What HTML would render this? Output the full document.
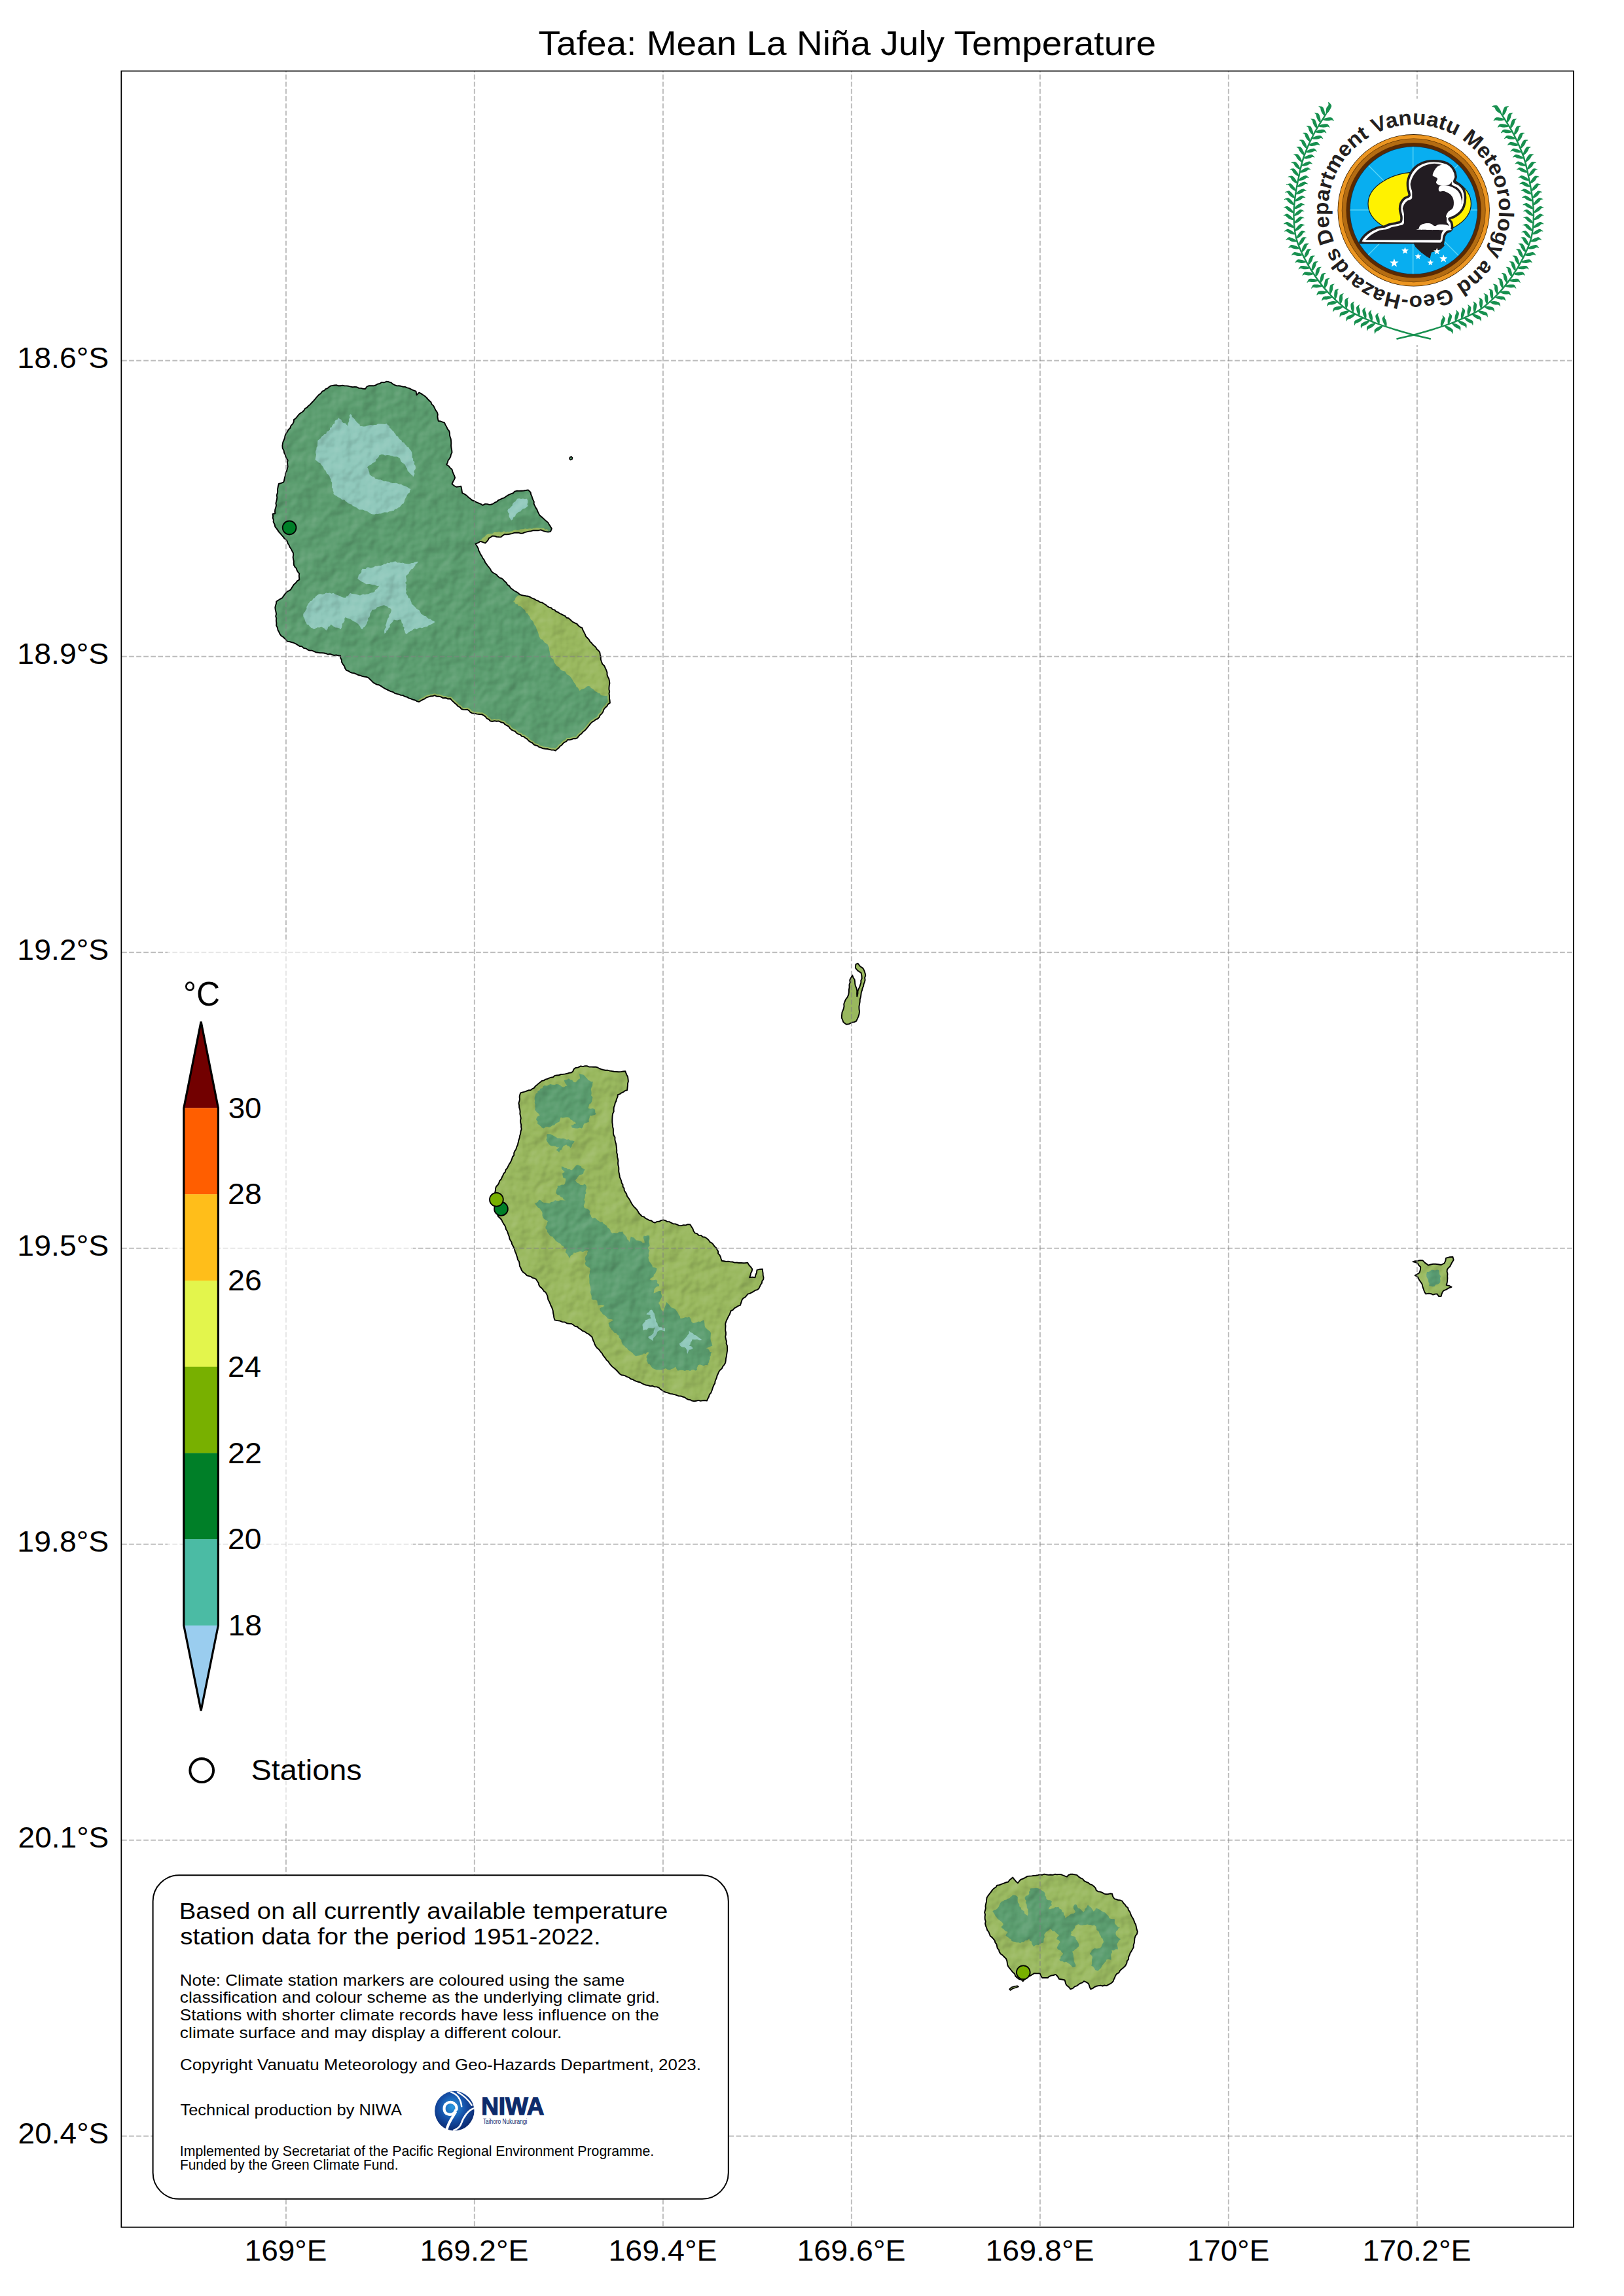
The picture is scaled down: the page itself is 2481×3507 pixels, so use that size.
<!DOCTYPE html>
<html><head><meta charset="utf-8"><title>Tafea: Mean La Niña July Temperature</title>
<style>html,body{margin:0;padding:0;background:#fff;width:2481px;height:3507px;overflow:hidden}</style>
</head><body>
<svg width="2481" height="3507" viewBox="0 0 2481 3507" style="display:block" font-family='"Liberation Sans", sans-serif'>
<rect width="2481" height="3507" fill="#fff"/>
<defs>
<clipPath id="cErro"><path d="M505.3,589.4 L510.8,588.5 L513.9,588.1 L516.9,589.3 L520.0,589.3 L523.1,588.8 L526.2,589.2 L529.3,589.4 L532.5,589.8 L535.6,590.6 L538.8,591.3 L542.1,590.9 L545.3,591.3 L548.4,592.9 L551.6,592.9 L554.8,593.9 L558.0,594.0 L560.7,590.3 L563.9,589.2 L567.2,589.3 L570.5,589.3 L573.7,588.5 L576.6,586.6 L580.1,586.0 L582.9,583.9 L586.6,584.3 L590.3,582.8 L594.0,583.3 L597.4,584.3 L600.1,586.6 L603.2,588.1 L606.2,589.4 L609.4,589.3 L612.5,589.8 L615.6,590.7 L618.8,590.9 L621.7,592.2 L625.3,593.2 L628.6,594.9 L632.1,596.3 L635.5,597.7 L636.5,603.3 L640.2,599.6 L643.2,601.1 L646.0,603.0 L648.7,604.8 L651.3,607.0 L653.5,609.5 L655.9,612.0 L658.4,614.3 L659.7,617.6 L662.3,619.9 L663.9,623.2 L665.4,626.4 L667.6,629.4 L668.8,632.8 L668.4,636.3 L668.9,639.6 L669.7,643.0 L672.9,643.4 L676.0,644.6 L679.0,645.7 L680.6,649.1 L682.4,652.3 L683.9,655.7 L686.3,658.7 L687.0,661.6 L687.0,664.7 L687.7,667.6 L688.8,670.5 L689.1,673.5 L689.3,677.0 L689.1,680.6 L689.5,684.1 L690.2,687.6 L690.5,691.1 L689.0,694.1 L688.3,697.5 L686.7,700.5 L684.6,703.3 L683.7,706.6 L682.2,709.6 L685.3,711.7 L687.7,714.6 L690.5,717.0 L691.4,720.3 L692.6,723.5 L694.1,726.6 L695.1,729.9 L693.6,733.0 L692.0,736.0 L690.5,739.1 L693.5,741.7 L697.0,743.7 L700.7,743.3 L704.3,742.8 L705.1,746.2 L705.6,749.6 L706.2,753.0 L709.6,754.6 L712.7,756.7 L715.4,759.4 L718.3,761.6 L721.2,764.0 L724.7,765.4 L727.9,767.1 L731.2,768.5 L734.6,769.8 L737.6,771.8 L741.3,769.6 L744.4,769.9 L747.4,770.9 L750.5,770.5 L753.5,769.3 L756.1,767.5 L759.0,766.3 L761.4,764.0 L764.3,762.9 L767.1,761.3 L770.2,760.4 L772.7,758.5 L775.4,756.9 L778.1,755.3 L781.0,754.2 L784.0,753.2 L786.2,750.6 L789.3,749.8 L792.9,749.9 L796.4,749.7 L799.9,749.5 L803.4,749.0 L806.9,748.4 L810.6,752.0 L811.1,755.0 L812.4,757.8 L813.3,760.8 L814.4,763.6 L815.8,766.4 L815.6,769.6 L817.0,772.4 L818.4,775.4 L820.3,778.1 L821.4,781.2 L822.9,784.2 L824.4,787.1 L827.1,789.2 L829.7,791.4 L832.1,793.8 L834.6,796.1 L837.3,798.2 L839.0,801.4 L841.1,804.4 L842.9,807.5 L841.0,812.1 L837.3,812.6 L833.4,812.1 L829.9,810.8 L826.3,809.3 L822.7,810.2 L818.9,810.1 L815.1,810.2 L811.5,811.2 L808.2,811.6 L804.9,812.4 L801.7,813.2 L798.6,814.5 L795.3,814.7 L792.1,813.7 L788.9,813.8 L785.6,813.9 L782.0,815.1 L778.3,815.8 L774.6,816.4 L770.8,816.3 L767.8,818.1 L765.3,820.4 L762.0,820.3 L758.8,820.0 L755.6,818.9 L752.4,818.6 L749.7,820.6 L746.8,822.2 L745.5,825.0 L743.5,827.4 L741.3,829.6 L737.6,828.2 L733.9,826.9 L730.4,829.2 L726.5,830.6 L729.3,835.2 L730.7,837.9 L731.3,840.9 L732.8,843.5 L733.9,846.3 L736.0,849.4 L737.6,852.7 L740.0,855.6 L741.3,859.2 L743.3,861.7 L745.1,864.3 L747.2,866.7 L749.1,869.2 L750.5,872.1 L752.7,874.5 L755.6,876.0 L758.4,877.7 L760.6,880.1 L762.9,882.3 L766.1,883.3 L768.7,885.3 L770.8,887.8 L773.5,890.0 L775.2,893.1 L778.1,895.1 L780.1,898.0 L782.6,900.1 L785.2,902.0 L788.0,903.7 L790.9,905.2 L793.3,907.4 L796.5,909.0 L799.9,909.6 L803.3,910.2 L806.8,910.7 L810.0,912.0 L812.9,913.7 L816.1,914.9 L819.0,916.6 L822.1,917.8 L824.9,919.7 L828.3,920.4 L831.1,922.2 L834.0,924.0 L836.3,926.1 L839.0,927.6 L842.1,928.5 L844.3,930.8 L847.4,931.7 L849.5,934.0 L852.5,935.1 L855.0,937.0 L857.8,938.2 L860.6,939.6 L863.4,940.9 L865.4,943.5 L868.6,944.1 L870.9,946.2 L873.3,948.4 L875.8,950.4 L878.8,951.8 L881.7,953.2 L883.8,955.8 L886.4,957.8 L889.4,959.1 L890.5,962.4 L892.2,965.6 L893.8,968.7 L895.0,972.0 L897.4,974.5 L899.7,976.9 L901.4,980.0 L903.9,982.3 L906.0,985.0 L908.4,986.9 L910.5,989.1 L911.9,991.8 L914.4,993.7 L916.2,996.1 L916.9,999.8 L917.8,1003.4 L917.8,1007.2 L919.0,1010.8 L920.3,1014.3 L923.2,1017.0 L924.8,1020.3 L926.3,1023.8 L927.5,1027.1 L927.5,1030.6 L928.7,1033.9 L930.3,1037.0 L931.0,1040.4 L931.4,1043.6 L930.8,1046.7 L930.5,1049.9 L930.4,1053.1 L931.2,1056.3 L930.5,1059.4 L931.0,1062.6 L931.0,1066.3 L931.6,1070.0 L931.9,1073.7 L929.0,1075.6 L927.2,1078.8 L924.5,1081.0 L922.4,1083.8 L921.3,1087.2 L919.4,1090.1 L916.7,1092.5 L915.3,1095.8 L912.9,1098.0 L909.9,1099.2 L907.4,1101.3 L904.6,1102.9 L902.3,1105.1 L900.1,1108.0 L897.9,1110.7 L895.6,1113.5 L893.1,1116.1 L890.5,1118.0 L888.6,1120.4 L886.0,1122.3 L883.8,1124.6 L882.0,1127.2 L879.1,1128.3 L876.1,1128.2 L873.2,1129.4 L870.3,1130.1 L867.2,1130.0 L865.3,1132.5 L862.3,1133.8 L860.0,1135.9 L858.0,1138.3 L855.4,1140.0 L853.5,1142.6 L851.0,1144.4 L848.8,1146.6 L845.8,1145.6 L842.6,1145.6 L839.5,1144.8 L836.3,1144.0 L833.0,1143.8 L829.7,1143.3 L826.6,1142.0 L823.7,1141.2 L821.3,1139.2 L818.3,1138.5 L815.5,1137.4 L813.3,1134.9 L810.3,1133.4 L807.6,1131.5 L805.4,1128.9 L802.6,1127.2 L800.2,1125.2 L797.0,1124.6 L794.8,1122.2 L791.7,1121.3 L789.1,1119.7 L787.0,1117.2 L784.1,1116.1 L781.2,1114.6 L778.9,1112.4 L777.1,1109.6 L774.2,1108.2 L771.4,1106.5 L769.3,1104.1 L765.4,1103.2 L761.9,1101.4 L758.7,1101.8 L755.5,1101.1 L752.2,1102.0 L749.0,1101.4 L746.8,1098.9 L743.7,1097.5 L741.7,1094.8 L739.0,1092.8 L736.1,1091.2 L732.4,1091.0 L728.7,1090.6 L725.0,1089.9 L721.3,1089.4 L718.5,1088.0 L716.5,1085.5 L713.9,1083.8 L710.8,1084.1 L707.7,1083.9 L704.7,1082.9 L702.8,1080.3 L699.9,1079.0 L697.8,1076.6 L695.4,1074.6 L692.9,1072.2 L690.3,1069.9 L688.0,1067.2 L684.3,1067.5 L680.7,1066.0 L677.0,1066.3 L673.9,1064.6 L670.7,1063.6 L667.1,1063.7 L664.0,1062.2 L661.0,1063.3 L657.8,1063.5 L654.8,1064.4 L651.6,1065.3 L648.9,1067.4 L645.9,1068.7 L643.0,1070.3 L640.2,1072.0 L637.0,1071.1 L634.1,1069.5 L630.8,1068.6 L627.7,1067.4 L624.6,1066.4 L621.7,1064.6 L618.5,1064.0 L615.7,1062.1 L612.4,1061.9 L609.4,1060.7 L606.3,1059.8 L603.2,1059.1 L600.4,1057.0 L597.0,1056.1 L593.8,1054.7 L590.8,1053.1 L587.7,1051.6 L584.7,1049.8 L582.0,1047.9 L579.1,1046.3 L575.8,1045.6 L572.8,1044.1 L570.0,1042.4 L567.6,1039.9 L565.1,1037.5 L562.6,1035.1 L559.6,1034.0 L556.3,1033.6 L553.2,1032.9 L550.2,1031.7 L547.0,1031.0 L544.1,1029.5 L541.2,1028.3 L538.0,1027.9 L535.0,1026.8 L532.3,1024.9 L529.3,1024.0 L527.2,1020.9 L526.0,1017.3 L523.7,1014.3 L521.9,1011.0 L521.8,1007.8 L520.2,1005.0 L520.1,1001.8 L516.9,1001.3 L513.7,1000.5 L510.3,1001.0 L507.1,1000.0 L504.1,998.9 L500.9,999.5 L498.0,998.2 L494.9,997.5 L491.8,997.2 L488.7,997.2 L485.6,996.7 L482.4,996.2 L479.5,994.9 L476.5,993.6 L473.2,993.6 L470.2,992.6 L467.4,990.6 L463.8,989.9 L461.2,987.4 L457.6,987.0 L454.7,985.1 L451.7,983.3 L448.6,981.8 L445.4,981.0 L442.2,980.0 L438.8,979.6 L436.9,977.1 L434.6,975.0 L432.3,972.8 L429.6,971.1 L427.7,968.6 L426.2,965.4 L424.5,962.3 L423.9,958.7 L422.2,955.6 L422.4,951.9 L421.9,948.2 L422.2,944.5 L421.2,941.2 L422.1,937.8 L421.5,934.5 L420.7,931.2 L420.3,927.9 L421.0,924.8 L422.0,921.9 L422.2,918.7 L425.2,916.8 L428.3,914.8 L431.4,913.1 L433.1,910.5 L434.8,908.0 L436.9,905.7 L439.0,903.3 L442.0,902.2 L444.3,900.2 L446.6,896.4 L449.0,892.8 L451.8,890.4 L454.1,887.4 L457.3,885.4 L457.1,882.3 L456.8,879.3 L457.3,876.2 L455.2,873.9 L453.7,871.2 L452.7,868.2 L450.5,866.0 L449.0,863.3 L448.7,860.2 L448.8,857.1 L448.1,854.1 L447.6,851.0 L448.2,847.9 L448.0,844.8 L446.3,841.8 L444.9,838.8 L442.9,836.0 L441.6,832.8 L439.7,830.0 L438.8,826.8 L437.0,824.3 L434.4,822.4 L432.6,819.9 L430.5,817.6 L428.4,815.0 L426.1,812.6 L424.3,809.9 L422.4,807.1 L420.3,804.6 L419.5,800.7 L417.6,797.2 L417.9,794.2 L416.8,791.2 L417.1,788.2 L416.6,785.2 L420.3,784.3 L420.0,781.2 L420.3,778.1 L421.3,775.1 L422.1,772.0 L421.4,768.8 L422.2,765.8 L422.9,762.8 L423.3,759.7 L422.8,756.6 L423.7,753.6 L424.2,750.5 L424.0,747.4 L424.8,743.2 L425.9,739.0 L429.7,737.9 L433.3,736.3 L434.3,733.1 L434.8,729.8 L435.8,726.7 L436.0,723.3 L437.9,719.8 L438.8,716.0 L439.7,712.8 L439.3,709.5 L439.0,706.2 L439.7,703.0 L438.0,700.4 L436.6,697.6 L435.7,694.6 L434.2,691.9 L433.6,688.1 L431.7,684.7 L431.4,680.8 L432.3,675.3 L433.7,672.2 L434.9,669.0 L435.5,665.6 L436.9,662.4 L439.0,659.5 L440.6,656.2 L443.3,653.7 L444.5,650.2 L447.1,647.6 L448.7,644.5 L449.0,641.1 L451.8,638.9 L454.2,636.2 L456.3,633.3 L459.1,631.0 L461.9,629.2 L464.3,627.0 L466.0,624.0 L469.0,622.4 L471.1,619.9 L474.0,617.7 L476.4,615.0 L478.9,612.4 L481.3,609.7 L484.0,606.4 L486.8,603.3 L490.0,600.9 L492.4,597.7 L495.3,596.6 L497.5,594.2 L500.4,593.1 L502.7,591.0 Z"/></clipPath>
<clipPath id="cTanna"><path d="M878.8,1631.2 L883.3,1630.4 L887.3,1628.3 L890.5,1629.1 L893.8,1628.1 L897.1,1628.3 L900.2,1629.6 L903.5,1629.6 L906.7,1629.7 L910.0,1629.7 L912.9,1630.5 L915.6,1632.0 L918.4,1633.1 L921.3,1634.0 L924.7,1634.7 L928.2,1634.6 L931.5,1635.6 L934.9,1636.1 L938.3,1636.8 L941.7,1637.0 L945.1,1637.3 L948.5,1637.1 L951.9,1636.5 L955.3,1636.3 L956.4,1639.2 L957.7,1642.1 L959.1,1645.0 L959.5,1648.2 L959.9,1651.6 L959.0,1655.0 L958.9,1658.4 L958.5,1661.7 L958.1,1665.1 L955.0,1666.0 L952.4,1667.9 L949.5,1669.3 L946.9,1671.1 L943.9,1672.2 L943.5,1675.6 L942.0,1678.7 L941.2,1682.0 L939.7,1685.0 L939.1,1688.2 L937.8,1691.3 L937.6,1694.6 L937.7,1698.0 L936.1,1701.0 L935.6,1704.3 L935.4,1707.6 L935.3,1710.9 L935.3,1714.3 L935.8,1717.6 L936.0,1720.9 L936.9,1724.2 L936.9,1727.5 L936.9,1730.9 L937.7,1734.2 L939.5,1737.3 L939.4,1740.8 L940.1,1744.1 L941.1,1747.3 L941.6,1750.5 L941.9,1753.8 L942.3,1757.0 L942.1,1760.3 L943.1,1763.5 L943.0,1766.8 L943.9,1770.0 L944.4,1773.1 L944.0,1776.3 L944.3,1779.5 L945.2,1782.6 L945.4,1785.7 L945.2,1788.9 L945.8,1792.0 L946.5,1795.2 L946.8,1798.3 L948.2,1801.0 L949.2,1803.9 L949.7,1806.9 L951.5,1809.4 L951.6,1812.6 L953.5,1815.1 L953.7,1818.3 L955.3,1820.9 L957.1,1823.6 L958.0,1826.9 L959.9,1829.6 L961.8,1832.3 L963.3,1835.1 L964.8,1838.1 L966.6,1840.8 L968.5,1843.3 L970.9,1845.5 L973.0,1847.8 L974.7,1850.5 L976.3,1853.3 L978.6,1855.5 L980.8,1857.8 L983.9,1858.7 L986.3,1861.0 L989.1,1862.3 L991.9,1864.0 L995.1,1864.5 L997.6,1866.6 L1000.6,1867.7 L1003.6,1866.0 L1007.0,1865.8 L1010.0,1864.2 L1013.3,1863.4 L1016.4,1864.1 L1019.2,1866.0 L1022.5,1866.1 L1025.3,1867.7 L1028.2,1869.2 L1031.5,1869.4 L1034.5,1870.5 L1037.4,1871.9 L1040.8,1872.2 L1044.2,1871.2 L1047.6,1871.4 L1050.9,1870.1 L1054.4,1870.5 L1056.3,1873.6 L1058.4,1876.7 L1059.5,1880.2 L1061.5,1883.3 L1064.8,1884.2 L1067.4,1886.7 L1071.0,1886.9 L1073.6,1889.3 L1077.1,1889.8 L1079.9,1891.8 L1082.5,1893.9 L1084.3,1896.8 L1087.3,1898.5 L1089.7,1900.9 L1091.5,1903.7 L1094.1,1905.9 L1095.5,1908.7 L1097.1,1911.3 L1097.1,1914.7 L1099.4,1917.0 L1100.8,1919.8 L1101.6,1922.8 L1102.6,1925.7 L1105.9,1926.3 L1109.2,1927.0 L1112.6,1926.6 L1115.8,1927.4 L1119.2,1927.5 L1122.4,1928.6 L1125.7,1928.5 L1129.0,1929.0 L1132.3,1928.9 L1135.6,1929.2 L1138.9,1929.0 L1142.2,1928.6 L1143.6,1931.4 L1145.5,1933.7 L1147.6,1936.0 L1149.3,1938.5 L1148.6,1941.8 L1147.0,1944.8 L1146.4,1948.1 L1145.1,1951.2 L1149.3,1950.6 L1153.5,1951.2 L1154.4,1947.4 L1155.9,1943.8 L1156.4,1939.9 L1160.6,1938.7 L1164.9,1938.5 L1165.1,1941.6 L1165.6,1944.7 L1165.7,1947.9 L1166.5,1950.9 L1166.3,1954.1 L1164.3,1956.6 L1163.8,1959.9 L1161.9,1962.5 L1160.7,1965.4 L1159.2,1968.2 L1156.7,1970.2 L1153.5,1971.0 L1150.9,1972.9 L1148.1,1974.4 L1145.3,1975.9 L1142.2,1976.7 L1140.4,1979.2 L1138.4,1981.4 L1135.7,1982.9 L1133.7,1985.2 L1132.3,1989.4 L1130.9,1993.7 L1127.7,1994.8 L1124.9,1996.6 L1122.0,1998.2 L1119.7,2000.8 L1116.7,2002.2 L1115.6,2005.1 L1114.6,2008.0 L1112.9,2010.6 L1111.7,2013.4 L1110.2,2016.2 L1109.1,2019.1 L1108.2,2022.0 L1108.5,2025.3 L1108.3,2028.6 L1108.2,2032.0 L1108.9,2035.3 L1108.9,2038.6 L1108.2,2041.9 L1108.9,2045.3 L1109.9,2048.6 L1109.6,2052.2 L1110.9,2055.4 L1111.1,2058.9 L1111.2,2062.2 L1110.7,2065.4 L1110.2,2068.6 L1109.8,2071.9 L1109.0,2075.0 L1108.7,2078.3 L1108.2,2081.5 L1106.5,2084.5 L1104.3,2087.1 L1102.9,2090.2 L1100.2,2092.5 L1098.2,2095.3 L1096.9,2098.5 L1095.5,2101.2 L1094.9,2104.2 L1093.7,2107.0 L1092.5,2109.8 L1092.2,2112.9 L1090.6,2115.6 L1089.4,2118.4 L1088.4,2121.2 L1087.4,2124.5 L1086.1,2127.6 L1083.8,2130.2 L1082.9,2133.5 L1081.3,2136.5 L1079.9,2139.6 L1076.7,2139.0 L1073.4,2139.4 L1070.2,2139.9 L1066.9,2138.9 L1063.7,2139.8 L1060.4,2140.3 L1057.2,2139.6 L1054.5,2138.2 L1051.3,2137.7 L1048.6,2136.3 L1046.1,2134.4 L1043.1,2133.5 L1040.2,2132.5 L1036.8,2132.4 L1033.7,2131.0 L1030.5,2130.2 L1027.3,2129.3 L1024.0,2128.9 L1020.9,2127.6 L1017.6,2126.9 L1014.5,2125.7 L1011.8,2123.8 L1009.0,2122.0 L1006.6,2119.6 L1003.4,2118.4 L999.9,2118.4 L996.7,2116.9 L993.1,2117.1 L989.8,2116.0 L986.4,2115.5 L983.5,2114.4 L980.7,2113.1 L978.1,2111.5 L975.0,2110.8 L972.0,2109.9 L969.2,2108.7 L966.6,2107.0 L963.5,2106.3 L961.1,2104.1 L958.2,2103.2 L955.5,2101.6 L952.6,2100.7 L949.4,2100.3 L946.8,2098.5 L944.6,2096.0 L942.3,2093.5 L939.9,2091.2 L937.3,2089.1 L934.8,2086.9 L932.6,2084.4 L930.7,2082.1 L929.2,2079.4 L926.7,2077.5 L925.1,2074.9 L923.2,2072.6 L921.3,2070.2 L919.9,2067.4 L917.9,2065.2 L916.1,2062.7 L914.1,2060.4 L911.7,2058.5 L910.0,2056.0 L908.5,2053.3 L907.7,2050.4 L906.3,2047.7 L905.3,2044.8 L904.3,2041.9 L901.6,2039.8 L899.0,2037.6 L895.9,2036.1 L893.2,2033.9 L889.8,2032.9 L887.3,2030.5 L884.4,2029.0 L882.0,2026.5 L878.5,2025.8 L875.9,2023.8 L873.1,2022.0 L869.5,2021.9 L865.9,2021.2 L862.6,2019.4 L859.0,2019.2 L855.4,2017.6 L851.4,2017.1 L847.6,2016.4 L846.4,2013.0 L845.9,2009.4 L845.1,2005.8 L844.8,2002.2 L843.9,1999.3 L842.8,1996.5 L841.3,1993.8 L840.3,1990.9 L839.1,1988.1 L837.5,1985.5 L836.9,1982.4 L836.3,1979.3 L835.0,1976.6 L833.5,1973.9 L831.0,1972.2 L829.3,1969.6 L827.3,1967.3 L825.0,1965.4 L823.3,1962.7 L822.6,1959.5 L820.7,1956.9 L819.3,1954.1 L816.6,1952.7 L813.6,1951.9 L811.0,1950.0 L808.1,1949.2 L805.1,1948.4 L802.4,1945.5 L799.1,1943.1 L796.7,1939.9 L795.6,1936.7 L793.9,1933.7 L793.6,1930.3 L793.0,1927.0 L791.0,1924.1 L790.3,1920.8 L789.2,1917.6 L788.2,1914.4 L786.9,1911.6 L786.0,1908.6 L785.1,1905.7 L783.6,1903.0 L782.1,1900.3 L781.5,1897.2 L779.7,1894.6 L778.4,1891.8 L777.9,1888.8 L776.7,1886.0 L775.8,1883.1 L774.8,1880.2 L773.0,1877.7 L772.4,1874.7 L771.2,1871.9 L769.2,1869.1 L767.6,1866.1 L766.1,1863.0 L763.8,1860.5 L761.1,1858.1 L759.8,1854.9 L758.7,1852.1 L758.1,1849.1 L757.3,1846.2 L755.9,1843.5 L755.1,1840.6 L753.1,1838.2 L752.7,1835.1 L754.0,1831.9 L754.4,1828.6 L755.0,1825.2 L756.1,1822.0 L756.8,1818.7 L757.0,1815.3 L758.1,1812.2 L760.6,1809.8 L762.2,1807.0 L763.1,1803.7 L765.4,1801.3 L766.8,1798.3 L768.3,1795.4 L769.6,1792.4 L771.9,1790.0 L772.7,1786.7 L775.0,1784.2 L776.4,1781.2 L777.8,1778.3 L779.7,1775.6 L781.0,1772.8 L782.1,1769.9 L783.0,1767.0 L785.2,1764.5 L785.2,1761.2 L786.3,1758.4 L788.2,1755.8 L789.2,1752.2 L790.8,1748.8 L791.6,1745.2 L792.4,1741.6 L793.6,1738.3 L794.1,1734.8 L795.2,1731.5 L795.6,1727.9 L796.7,1724.6 L796.1,1721.3 L796.2,1718.0 L795.3,1714.7 L795.1,1711.4 L795.8,1708.1 L795.2,1704.8 L794.3,1701.6 L794.6,1698.2 L794.2,1694.8 L793.2,1691.6 L793.1,1688.3 L792.4,1685.0 L793.4,1682.0 L794.0,1678.9 L793.6,1675.5 L794.2,1672.4 L795.2,1669.4 L798.3,1668.4 L801.4,1667.6 L804.5,1666.5 L807.5,1665.3 L810.8,1665.1 L813.3,1663.1 L816.1,1661.6 L818.0,1658.9 L820.5,1657.1 L822.8,1654.9 L825.3,1653.0 L827.8,1651.0 L830.8,1650.4 L833.4,1648.6 L836.4,1648.0 L839.1,1646.7 L842.0,1645.7 L845.0,1645.2 L847.5,1643.0 L850.5,1642.5 L853.8,1642.3 L856.9,1641.0 L860.2,1640.9 L863.5,1640.4 L866.7,1639.6 L869.8,1638.7 L873.1,1638.2 L875.4,1636.2 L876.5,1633.2 Z"/></clipPath>
<clipPath id="cAnei"><path d="M1569.7,2865.9 L1572.9,2865.6 L1576.0,2865.4 L1579.2,2865.0 L1582.4,2864.8 L1585.5,2864.1 L1588.6,2863.3 L1591.9,2863.9 L1595.2,2862.6 L1598.4,2863.3 L1601.7,2863.9 L1605.0,2863.5 L1608.3,2863.9 L1611.6,2862.8 L1614.8,2863.3 L1618.1,2862.9 L1621.4,2863.3 L1624.2,2864.5 L1627.1,2865.7 L1630.0,2866.7 L1632.2,2864.2 L1635.2,2862.8 L1638.7,2862.8 L1642.1,2863.4 L1645.5,2864.1 L1647.9,2866.6 L1650.8,2868.6 L1654.1,2870.0 L1656.3,2872.8 L1659.3,2874.5 L1662.6,2875.8 L1665.3,2878.1 L1668.6,2879.2 L1671.4,2881.4 L1673.7,2884.1 L1674.8,2887.4 L1677.6,2889.2 L1681.0,2889.6 L1684.0,2890.9 L1686.9,2892.6 L1689.9,2893.3 L1693.0,2893.1 L1696.0,2892.3 L1699.0,2892.6 L1700.1,2896.7 L1702.4,2900.3 L1705.4,2901.2 L1708.4,2902.3 L1711.6,2902.5 L1714.5,2903.8 L1716.2,2906.8 L1718.6,2909.1 L1720.4,2911.9 L1723.1,2914.1 L1723.9,2917.3 L1726.0,2920.0 L1727.2,2923.1 L1728.3,2926.2 L1730.4,2929.5 L1732.1,2932.9 L1733.4,2936.6 L1735.1,2939.8 L1735.9,2943.4 L1736.6,2946.9 L1737.8,2950.3 L1737.0,2954.0 L1734.6,2957.1 L1733.4,2960.7 L1733.2,2964.2 L1732.8,2967.6 L1731.7,2971.0 L1731.7,2974.5 L1730.0,2977.4 L1728.5,2980.4 L1726.6,2983.1 L1725.6,2986.2 L1724.2,2989.2 L1724.1,2992.6 L1721.8,2995.3 L1721.4,2998.6 L1719.3,3002.5 L1716.2,3005.5 L1713.5,3007.7 L1711.0,3010.0 L1709.4,3013.2 L1706.2,3014.9 L1704.1,3017.6 L1703.1,3020.5 L1701.7,3023.3 L1700.7,3026.2 L1698.5,3028.5 L1695.9,3030.2 L1693.1,3031.7 L1690.3,3033.1 L1687.3,3032.5 L1684.3,3033.5 L1681.3,3032.7 L1678.3,3033.1 L1675.0,3033.8 L1672.0,3035.1 L1669.3,3037.2 L1666.2,3038.3 L1664.9,3035.5 L1664.0,3032.6 L1662.8,3029.7 L1659.5,3027.6 L1655.9,3026.2 L1653.6,3028.4 L1650.5,3029.4 L1647.9,3031.0 L1645.5,3033.1 L1641.8,3034.4 L1638.9,3037.1 L1635.2,3038.3 L1633.0,3035.3 L1630.0,3033.1 L1628.3,3030.4 L1627.5,3027.4 L1626.6,3024.5 L1622.3,3023.5 L1617.9,3022.8 L1615.8,3019.0 L1612.8,3015.9 L1609.4,3017.0 L1605.9,3017.6 L1603.0,3018.8 L1600.7,3021.0 L1596.4,3020.9 L1592.1,3021.0 L1590.1,3017.7 L1588.6,3014.1 L1584.3,3014.4 L1580.0,3014.1 L1576.8,3016.2 L1573.4,3018.1 L1569.7,3019.3 L1567.7,3021.9 L1564.9,3023.7 L1562.8,3026.2 L1560.3,3023.9 L1556.8,3023.1 L1554.1,3021.0 L1551.3,3018.5 L1550.0,3014.8 L1547.2,3012.4 L1544.9,3009.5 L1542.5,3006.7 L1540.3,3003.8 L1539.1,3000.9 L1538.7,2997.7 L1538.2,2994.6 L1536.9,2991.7 L1534.3,2989.2 L1531.7,2986.6 L1528.7,2984.4 L1526.6,2981.4 L1526.0,2978.3 L1523.7,2975.9 L1523.1,2972.8 L1522.4,2969.7 L1520.4,2967.2 L1519.7,2964.1 L1517.6,2961.6 L1515.5,2959.1 L1512.8,2957.2 L1511.6,2954.0 L1510.4,2950.8 L1508.2,2948.1 L1507.2,2944.8 L1505.9,2941.7 L1505.1,2938.3 L1505.8,2934.8 L1504.7,2931.4 L1504.6,2927.9 L1505.1,2924.4 L1504.1,2921.0 L1505.1,2917.9 L1505.8,2914.7 L1505.5,2911.4 L1506.1,2908.2 L1506.9,2905.0 L1507.1,2901.8 L1507.6,2898.6 L1509.7,2895.3 L1512.1,2892.2 L1514.5,2889.1 L1516.3,2886.4 L1518.7,2884.3 L1521.5,2882.5 L1523.1,2879.7 L1526.7,2879.3 L1530.0,2877.8 L1533.4,2876.6 L1536.8,2875.3 L1540.3,2874.5 L1542.2,2871.8 L1544.7,2869.7 L1547.2,2867.6 L1549.5,2870.7 L1552.0,2873.7 L1555.0,2876.2 L1557.0,2873.5 L1559.3,2871.0 L1562.9,2869.7 L1566.4,2867.9 Z"/></clipPath>
<clipPath id="cFut"><path d="M2158.5,1927.1 L2162.1,1926.1 L2165.9,1925.9 L2169.5,1925.0 L2173.3,1925.2 L2177.0,1928.9 L2179.5,1930.6 L2181.9,1932.6 L2185.5,1931.5 L2189.2,1930.8 L2193.0,1930.8 L2197.3,1931.3 L2201.6,1932.0 L2206.5,1929.6 L2208.3,1925.8 L2209.0,1921.6 L2213.9,1920.3 L2219.4,1919.7 L2220.7,1924.6 L2217.6,1929.6 L2215.1,1934.5 L2212.6,1936.7 L2210.8,1939.4 L2210.6,1942.6 L2211.5,1945.8 L2211.2,1949.1 L2211.4,1952.3 L2211.1,1955.9 L2210.7,1959.4 L2209.6,1962.8 L2213.8,1963.8 L2217.6,1965.9 L2212.7,1967.7 L2209.2,1969.9 L2205.3,1971.4 L2203.5,1974.0 L2202.4,1977.0 L2201.6,1980.0 L2197.9,1980.0 L2195.4,1976.4 L2192.3,1976.6 L2189.3,1977.6 L2186.3,1976.2 L2183.1,1975.7 L2178.2,1976.4 L2176.3,1973.5 L2175.1,1970.2 L2173.6,1966.0 L2172.6,1961.6 L2170.6,1958.4 L2168.3,1955.4 L2165.9,1950.5 L2161.6,1948.0 L2165.1,1946.4 L2168.3,1944.3 L2169.4,1941.3 L2170.1,1938.3 L2170.2,1935.1 L2167.6,1932.7 L2165.9,1929.6 L2162.2,1928.2 Z"/></clipPath>
<filter id="hsD" x="0" y="0" width="1" height="1" color-interpolation-filters="sRGB"><feTurbulence type="fractalNoise" baseFrequency="0.03" numOctaves="3" seed="7" result="n"/><feDiffuseLighting in="n" surfaceScale="2.5" diffuseConstant="1" lighting-color="#fff" result="l"><feDistantLight azimuth="225" elevation="30"/></feDiffuseLighting><feColorMatrix in="l" type="matrix" values="0 0 0 0 0  0 0 0 0 0  0 0 0 0 0  -0.62 0 0 0 0.3100"/></filter>
<filter id="hsL" x="0" y="0" width="1" height="1" color-interpolation-filters="sRGB"><feTurbulence type="fractalNoise" baseFrequency="0.03" numOctaves="3" seed="7" result="n"/><feDiffuseLighting in="n" surfaceScale="2.5" diffuseConstant="1" lighting-color="#fff" result="l"><feDistantLight azimuth="225" elevation="30"/></feDiffuseLighting><feColorMatrix in="l" type="matrix" values="0 0 0 0 1  0 0 0 0 1  0 0 0 0 1  0.55 0 0 0 -0.2750"/></filter>
</defs>
<path d="M505.3,589.4 L510.8,588.5 L513.9,588.1 L516.9,589.3 L520.0,589.3 L523.1,588.8 L526.2,589.2 L529.3,589.4 L532.5,589.8 L535.6,590.6 L538.8,591.3 L542.1,590.9 L545.3,591.3 L548.4,592.9 L551.6,592.9 L554.8,593.9 L558.0,594.0 L560.7,590.3 L563.9,589.2 L567.2,589.3 L570.5,589.3 L573.7,588.5 L576.6,586.6 L580.1,586.0 L582.9,583.9 L586.6,584.3 L590.3,582.8 L594.0,583.3 L597.4,584.3 L600.1,586.6 L603.2,588.1 L606.2,589.4 L609.4,589.3 L612.5,589.8 L615.6,590.7 L618.8,590.9 L621.7,592.2 L625.3,593.2 L628.6,594.9 L632.1,596.3 L635.5,597.7 L636.5,603.3 L640.2,599.6 L643.2,601.1 L646.0,603.0 L648.7,604.8 L651.3,607.0 L653.5,609.5 L655.9,612.0 L658.4,614.3 L659.7,617.6 L662.3,619.9 L663.9,623.2 L665.4,626.4 L667.6,629.4 L668.8,632.8 L668.4,636.3 L668.9,639.6 L669.7,643.0 L672.9,643.4 L676.0,644.6 L679.0,645.7 L680.6,649.1 L682.4,652.3 L683.9,655.7 L686.3,658.7 L687.0,661.6 L687.0,664.7 L687.7,667.6 L688.8,670.5 L689.1,673.5 L689.3,677.0 L689.1,680.6 L689.5,684.1 L690.2,687.6 L690.5,691.1 L689.0,694.1 L688.3,697.5 L686.7,700.5 L684.6,703.3 L683.7,706.6 L682.2,709.6 L685.3,711.7 L687.7,714.6 L690.5,717.0 L691.4,720.3 L692.6,723.5 L694.1,726.6 L695.1,729.9 L693.6,733.0 L692.0,736.0 L690.5,739.1 L693.5,741.7 L697.0,743.7 L700.7,743.3 L704.3,742.8 L705.1,746.2 L705.6,749.6 L706.2,753.0 L709.6,754.6 L712.7,756.7 L715.4,759.4 L718.3,761.6 L721.2,764.0 L724.7,765.4 L727.9,767.1 L731.2,768.5 L734.6,769.8 L737.6,771.8 L741.3,769.6 L744.4,769.9 L747.4,770.9 L750.5,770.5 L753.5,769.3 L756.1,767.5 L759.0,766.3 L761.4,764.0 L764.3,762.9 L767.1,761.3 L770.2,760.4 L772.7,758.5 L775.4,756.9 L778.1,755.3 L781.0,754.2 L784.0,753.2 L786.2,750.6 L789.3,749.8 L792.9,749.9 L796.4,749.7 L799.9,749.5 L803.4,749.0 L806.9,748.4 L810.6,752.0 L811.1,755.0 L812.4,757.8 L813.3,760.8 L814.4,763.6 L815.8,766.4 L815.6,769.6 L817.0,772.4 L818.4,775.4 L820.3,778.1 L821.4,781.2 L822.9,784.2 L824.4,787.1 L827.1,789.2 L829.7,791.4 L832.1,793.8 L834.6,796.1 L837.3,798.2 L839.0,801.4 L841.1,804.4 L842.9,807.5 L841.0,812.1 L837.3,812.6 L833.4,812.1 L829.9,810.8 L826.3,809.3 L822.7,810.2 L818.9,810.1 L815.1,810.2 L811.5,811.2 L808.2,811.6 L804.9,812.4 L801.7,813.2 L798.6,814.5 L795.3,814.7 L792.1,813.7 L788.9,813.8 L785.6,813.9 L782.0,815.1 L778.3,815.8 L774.6,816.4 L770.8,816.3 L767.8,818.1 L765.3,820.4 L762.0,820.3 L758.8,820.0 L755.6,818.9 L752.4,818.6 L749.7,820.6 L746.8,822.2 L745.5,825.0 L743.5,827.4 L741.3,829.6 L737.6,828.2 L733.9,826.9 L730.4,829.2 L726.5,830.6 L729.3,835.2 L730.7,837.9 L731.3,840.9 L732.8,843.5 L733.9,846.3 L736.0,849.4 L737.6,852.7 L740.0,855.6 L741.3,859.2 L743.3,861.7 L745.1,864.3 L747.2,866.7 L749.1,869.2 L750.5,872.1 L752.7,874.5 L755.6,876.0 L758.4,877.7 L760.6,880.1 L762.9,882.3 L766.1,883.3 L768.7,885.3 L770.8,887.8 L773.5,890.0 L775.2,893.1 L778.1,895.1 L780.1,898.0 L782.6,900.1 L785.2,902.0 L788.0,903.7 L790.9,905.2 L793.3,907.4 L796.5,909.0 L799.9,909.6 L803.3,910.2 L806.8,910.7 L810.0,912.0 L812.9,913.7 L816.1,914.9 L819.0,916.6 L822.1,917.8 L824.9,919.7 L828.3,920.4 L831.1,922.2 L834.0,924.0 L836.3,926.1 L839.0,927.6 L842.1,928.5 L844.3,930.8 L847.4,931.7 L849.5,934.0 L852.5,935.1 L855.0,937.0 L857.8,938.2 L860.6,939.6 L863.4,940.9 L865.4,943.5 L868.6,944.1 L870.9,946.2 L873.3,948.4 L875.8,950.4 L878.8,951.8 L881.7,953.2 L883.8,955.8 L886.4,957.8 L889.4,959.1 L890.5,962.4 L892.2,965.6 L893.8,968.7 L895.0,972.0 L897.4,974.5 L899.7,976.9 L901.4,980.0 L903.9,982.3 L906.0,985.0 L908.4,986.9 L910.5,989.1 L911.9,991.8 L914.4,993.7 L916.2,996.1 L916.9,999.8 L917.8,1003.4 L917.8,1007.2 L919.0,1010.8 L920.3,1014.3 L923.2,1017.0 L924.8,1020.3 L926.3,1023.8 L927.5,1027.1 L927.5,1030.6 L928.7,1033.9 L930.3,1037.0 L931.0,1040.4 L931.4,1043.6 L930.8,1046.7 L930.5,1049.9 L930.4,1053.1 L931.2,1056.3 L930.5,1059.4 L931.0,1062.6 L931.0,1066.3 L931.6,1070.0 L931.9,1073.7 L929.0,1075.6 L927.2,1078.8 L924.5,1081.0 L922.4,1083.8 L921.3,1087.2 L919.4,1090.1 L916.7,1092.5 L915.3,1095.8 L912.9,1098.0 L909.9,1099.2 L907.4,1101.3 L904.6,1102.9 L902.3,1105.1 L900.1,1108.0 L897.9,1110.7 L895.6,1113.5 L893.1,1116.1 L890.5,1118.0 L888.6,1120.4 L886.0,1122.3 L883.8,1124.6 L882.0,1127.2 L879.1,1128.3 L876.1,1128.2 L873.2,1129.4 L870.3,1130.1 L867.2,1130.0 L865.3,1132.5 L862.3,1133.8 L860.0,1135.9 L858.0,1138.3 L855.4,1140.0 L853.5,1142.6 L851.0,1144.4 L848.8,1146.6 L845.8,1145.6 L842.6,1145.6 L839.5,1144.8 L836.3,1144.0 L833.0,1143.8 L829.7,1143.3 L826.6,1142.0 L823.7,1141.2 L821.3,1139.2 L818.3,1138.5 L815.5,1137.4 L813.3,1134.9 L810.3,1133.4 L807.6,1131.5 L805.4,1128.9 L802.6,1127.2 L800.2,1125.2 L797.0,1124.6 L794.8,1122.2 L791.7,1121.3 L789.1,1119.7 L787.0,1117.2 L784.1,1116.1 L781.2,1114.6 L778.9,1112.4 L777.1,1109.6 L774.2,1108.2 L771.4,1106.5 L769.3,1104.1 L765.4,1103.2 L761.9,1101.4 L758.7,1101.8 L755.5,1101.1 L752.2,1102.0 L749.0,1101.4 L746.8,1098.9 L743.7,1097.5 L741.7,1094.8 L739.0,1092.8 L736.1,1091.2 L732.4,1091.0 L728.7,1090.6 L725.0,1089.9 L721.3,1089.4 L718.5,1088.0 L716.5,1085.5 L713.9,1083.8 L710.8,1084.1 L707.7,1083.9 L704.7,1082.9 L702.8,1080.3 L699.9,1079.0 L697.8,1076.6 L695.4,1074.6 L692.9,1072.2 L690.3,1069.9 L688.0,1067.2 L684.3,1067.5 L680.7,1066.0 L677.0,1066.3 L673.9,1064.6 L670.7,1063.6 L667.1,1063.7 L664.0,1062.2 L661.0,1063.3 L657.8,1063.5 L654.8,1064.4 L651.6,1065.3 L648.9,1067.4 L645.9,1068.7 L643.0,1070.3 L640.2,1072.0 L637.0,1071.1 L634.1,1069.5 L630.8,1068.6 L627.7,1067.4 L624.6,1066.4 L621.7,1064.6 L618.5,1064.0 L615.7,1062.1 L612.4,1061.9 L609.4,1060.7 L606.3,1059.8 L603.2,1059.1 L600.4,1057.0 L597.0,1056.1 L593.8,1054.7 L590.8,1053.1 L587.7,1051.6 L584.7,1049.8 L582.0,1047.9 L579.1,1046.3 L575.8,1045.6 L572.8,1044.1 L570.0,1042.4 L567.6,1039.9 L565.1,1037.5 L562.6,1035.1 L559.6,1034.0 L556.3,1033.6 L553.2,1032.9 L550.2,1031.7 L547.0,1031.0 L544.1,1029.5 L541.2,1028.3 L538.0,1027.9 L535.0,1026.8 L532.3,1024.9 L529.3,1024.0 L527.2,1020.9 L526.0,1017.3 L523.7,1014.3 L521.9,1011.0 L521.8,1007.8 L520.2,1005.0 L520.1,1001.8 L516.9,1001.3 L513.7,1000.5 L510.3,1001.0 L507.1,1000.0 L504.1,998.9 L500.9,999.5 L498.0,998.2 L494.9,997.5 L491.8,997.2 L488.7,997.2 L485.6,996.7 L482.4,996.2 L479.5,994.9 L476.5,993.6 L473.2,993.6 L470.2,992.6 L467.4,990.6 L463.8,989.9 L461.2,987.4 L457.6,987.0 L454.7,985.1 L451.7,983.3 L448.6,981.8 L445.4,981.0 L442.2,980.0 L438.8,979.6 L436.9,977.1 L434.6,975.0 L432.3,972.8 L429.6,971.1 L427.7,968.6 L426.2,965.4 L424.5,962.3 L423.9,958.7 L422.2,955.6 L422.4,951.9 L421.9,948.2 L422.2,944.5 L421.2,941.2 L422.1,937.8 L421.5,934.5 L420.7,931.2 L420.3,927.9 L421.0,924.8 L422.0,921.9 L422.2,918.7 L425.2,916.8 L428.3,914.8 L431.4,913.1 L433.1,910.5 L434.8,908.0 L436.9,905.7 L439.0,903.3 L442.0,902.2 L444.3,900.2 L446.6,896.4 L449.0,892.8 L451.8,890.4 L454.1,887.4 L457.3,885.4 L457.1,882.3 L456.8,879.3 L457.3,876.2 L455.2,873.9 L453.7,871.2 L452.7,868.2 L450.5,866.0 L449.0,863.3 L448.7,860.2 L448.8,857.1 L448.1,854.1 L447.6,851.0 L448.2,847.9 L448.0,844.8 L446.3,841.8 L444.9,838.8 L442.9,836.0 L441.6,832.8 L439.7,830.0 L438.8,826.8 L437.0,824.3 L434.4,822.4 L432.6,819.9 L430.5,817.6 L428.4,815.0 L426.1,812.6 L424.3,809.9 L422.4,807.1 L420.3,804.6 L419.5,800.7 L417.6,797.2 L417.9,794.2 L416.8,791.2 L417.1,788.2 L416.6,785.2 L420.3,784.3 L420.0,781.2 L420.3,778.1 L421.3,775.1 L422.1,772.0 L421.4,768.8 L422.2,765.8 L422.9,762.8 L423.3,759.7 L422.8,756.6 L423.7,753.6 L424.2,750.5 L424.0,747.4 L424.8,743.2 L425.9,739.0 L429.7,737.9 L433.3,736.3 L434.3,733.1 L434.8,729.8 L435.8,726.7 L436.0,723.3 L437.9,719.8 L438.8,716.0 L439.7,712.8 L439.3,709.5 L439.0,706.2 L439.7,703.0 L438.0,700.4 L436.6,697.6 L435.7,694.6 L434.2,691.9 L433.6,688.1 L431.7,684.7 L431.4,680.8 L432.3,675.3 L433.7,672.2 L434.9,669.0 L435.5,665.6 L436.9,662.4 L439.0,659.5 L440.6,656.2 L443.3,653.7 L444.5,650.2 L447.1,647.6 L448.7,644.5 L449.0,641.1 L451.8,638.9 L454.2,636.2 L456.3,633.3 L459.1,631.0 L461.9,629.2 L464.3,627.0 L466.0,624.0 L469.0,622.4 L471.1,619.9 L474.0,617.7 L476.4,615.0 L478.9,612.4 L481.3,609.7 L484.0,606.4 L486.8,603.3 L490.0,600.9 L492.4,597.7 L495.3,596.6 L497.5,594.2 L500.4,593.1 L502.7,591.0 Z" fill="#5b9d6f" />
<g clip-path="url(#cErro)">
<path d="M791.5,909.2 L794.1,909.8 L796.8,909.8 L799.4,910.6 L802.2,910.2 L804.6,911.9 L807.3,912.3 L810.0,912.0 L812.2,913.5 L815.1,913.7 L817.2,915.6 L819.8,916.5 L822.2,917.5 L824.0,920.1 L826.3,921.4 L829.6,920.7 L831.2,923.5 L834.0,924.0 L836.2,925.6 L838.8,926.6 L841.2,927.8 L843.1,929.9 L845.6,930.9 L847.7,932.7 L850.0,934.0 L852.5,935.1 L855.2,935.8 L856.8,938.4 L858.9,940.2 L861.2,941.5 L863.9,942.3 L866.8,942.6 L869.2,943.9 L870.9,946.2 L873.4,947.0 L874.5,949.9 L877.3,950.1 L879.3,951.7 L880.7,954.1 L883.5,954.5 L885.2,956.3 L887.4,957.6 L889.4,959.1 L891.4,961.3 L891.5,964.3 L892.1,967.1 L894.6,969.1 L895.0,972.0 L897.3,973.8 L898.8,976.2 L901.3,977.8 L902.3,980.7 L903.6,983.3 L906.0,985.0 L907.4,987.1 L909.3,988.7 L910.5,991.1 L913.4,991.9 L914.4,994.4 L916.2,996.1 L917.0,999.0 L917.1,1002.0 L918.7,1004.8 L917.8,1008.0 L919.0,1010.8 L921.2,1013.0 L922.6,1015.6 L922.8,1018.9 L924.0,1021.7 L926.3,1023.8 L927.2,1026.5 L928.0,1029.3 L929.2,1031.9 L929.9,1034.7 L930.0,1037.7 L931.0,1040.4 L931.7,1043.2 L931.8,1046.0 L931.1,1048.7 L931.7,1051.5 L930.7,1054.3 L930.3,1057.0 L930.4,1059.8 L931.0,1062.6 L928.5,1062.6 L925.9,1062.9 L923.3,1062.7 L920.8,1062.6 L918.0,1062.0 L916.6,1059.3 L913.9,1058.5 L911.7,1057.0 L909.2,1056.0 L907.4,1053.8 L905.4,1052.1 L902.9,1051.0 L901.3,1048.6 L898.6,1047.8 L895.8,1048.9 L893.7,1051.3 L890.8,1052.2 L887.8,1052.9 L885.7,1055.2 L884.3,1053.0 L882.9,1050.6 L880.5,1049.1 L879.8,1046.3 L878.2,1044.1 L876.6,1042.0 L875.2,1039.8 L874.0,1037.3 L872.5,1035.2 L870.9,1033.0 L868.8,1031.4 L866.4,1030.3 L864.7,1028.2 L863.4,1025.6 L860.6,1024.9 L858.0,1023.9 L855.9,1022.3 L854.6,1019.8 L852.5,1018.2 L850.1,1016.7 L848.6,1014.5 L847.1,1012.4 L846.1,1009.9 L845.4,1007.0 L843.0,1005.6 L841.4,1003.5 L840.7,1000.7 L840.0,998.0 L839.6,995.1 L838.8,992.4 L838.8,989.5 L837.7,986.8 L836.5,984.3 L834.3,982.8 L832.0,981.4 L830.5,979.2 L829.0,976.9 L826.0,976.3 L824.7,973.9 L823.1,971.5 L822.8,968.5 L821.9,965.8 L820.8,963.2 L819.6,960.6 L819.0,957.8 L817.3,955.4 L815.8,953.2 L814.9,950.6 L813.8,948.2 L811.3,946.6 L810.0,944.3 L809.2,941.7 L807.4,939.6 L806.3,937.2 L803.3,936.1 L802.6,933.3 L801.1,930.9 L798.9,929.6 L797.1,927.6 L795.0,925.9 L792.0,925.4 L790.5,923.1 L787.7,922.4 L786.3,920.0 L784.1,918.5 L786.7,916.7 L787.3,913.4 L789.4,911.3 Z" fill="#99b85e" />
<path d="M729.0,832.0 L730.2,829.6 L731.8,827.4 L733.0,825.0 L735.6,824.2 L737.0,821.9 L739.0,820.5 L741.1,819.2 L742.6,816.9 L745.0,816.0 L747.5,815.5 L750.1,815.3 L752.6,815.1 L754.8,813.1 L757.4,813.1 L760.0,813.0 L762.4,811.9 L765.0,813.3 L767.5,812.9 L769.9,811.3 L772.6,813.2 L775.0,812.0 L777.6,812.7 L780.0,811.7 L782.5,811.3 L784.9,809.9 L787.4,809.3 L790.0,810.0 L792.5,809.7 L794.9,808.4 L797.4,808.3 L799.9,808.1 L802.4,807.3 L805.0,808.0 L807.5,807.6 L810.0,807.2 L812.6,807.7 L815.0,806.7 L817.5,806.6 L820.0,806.0 L822.7,806.3 L825.3,807.0 L828.0,806.9 L830.7,806.8 L833.2,808.8 L836.0,808.0 L837.2,810.8 L840.0,812.0 L837.3,810.9 L834.5,810.7 L831.5,811.2 L828.7,811.0 L826.0,810.0 L823.6,810.8 L821.1,811.6 L818.4,810.4 L816.0,811.6 L813.4,810.9 L811.0,812.0 L808.5,812.8 L805.6,812.2 L803.0,813.1 L800.8,815.5 L798.0,815.0 L795.4,815.4 L792.9,813.7 L790.2,814.5 L787.7,813.1 L785.0,814.0 L782.2,814.8 L779.6,816.1 L776.5,815.5 L773.7,815.8 L771.0,817.0 L768.3,819.4 L765.0,821.0 L762.3,821.5 L759.7,820.6 L757.4,818.8 L754.7,818.8 L752.0,819.0 L750.0,821.7 L747.0,823.0 L745.4,825.7 L743.7,828.2 L741.0,830.0 L738.3,829.9 L736.6,827.4 L734.0,827.0 L732.0,830.0 Z" fill="#99b85e" />
<path d="M931.0,1062.6 L931.0,1066.3 L931.6,1070.0 L931.9,1073.7 L929.0,1075.6 L927.2,1078.8 L924.5,1081.0 L922.4,1083.8 L921.3,1087.2 L919.4,1090.1 L916.7,1092.5 L915.3,1095.8 L912.9,1098.0 L909.9,1099.2 L907.4,1101.3 L904.6,1102.9 L902.3,1105.1 L900.1,1108.0 L897.9,1110.7 L895.6,1113.5 L893.1,1116.1 L890.5,1118.0 L888.6,1120.4 L886.0,1122.3 L883.8,1124.6 L882.0,1127.2 L879.1,1128.3 L876.1,1128.2 L873.2,1129.4 L870.3,1130.1 L867.2,1130.0 L865.3,1132.5 L862.3,1133.8 L860.0,1135.9 L858.0,1138.3 L855.4,1140.0 L853.5,1142.6 L851.0,1144.4 L848.8,1146.6 L845.8,1145.6 L842.6,1145.6 L839.5,1144.8 L836.3,1144.0 L833.0,1143.8 L829.7,1143.3 L826.6,1142.0 L823.7,1141.2 L821.3,1139.2 L818.3,1138.5 L815.5,1137.4 L813.3,1134.9 L810.3,1133.4 L807.6,1131.5 L805.4,1128.9 L802.6,1127.2 L800.2,1125.2 L797.0,1124.6 L794.8,1122.2 L791.7,1121.3 L789.1,1119.7 L787.0,1117.2 L784.1,1116.1 L781.2,1114.6 L778.9,1112.4 L777.1,1109.6 L774.2,1108.2 L771.4,1106.5 L769.3,1104.1 L765.4,1103.2 L761.9,1101.4 L758.7,1101.8 L755.5,1101.1 L752.2,1102.0 L749.0,1101.4 L746.8,1098.9 L743.7,1097.5 L741.7,1094.8 L739.0,1092.8 L736.1,1091.2 L732.4,1091.0 L728.7,1090.6 L725.0,1089.9 L721.3,1089.4 L718.5,1088.0 L716.5,1085.5 L713.9,1083.8 L710.8,1084.1 L707.7,1083.9 L704.7,1082.9 L702.8,1080.3 L699.9,1079.0 L697.8,1076.6 L695.4,1074.6 L692.9,1072.2 L690.3,1069.9 L688.0,1067.2 L684.3,1067.5 L680.7,1066.0 L677.0,1066.3 L673.9,1064.6 L670.7,1063.6 L667.1,1063.7 L664.0,1062.2 L661.0,1063.3 L657.8,1063.5 L654.8,1064.4 L651.6,1065.3 L648.9,1067.4 L645.9,1068.7 L643.0,1070.3 L640.2,1072.0" fill="none" stroke="#99b85e" stroke-width="6" stroke-linejoin="round"/>
<path d="M481.6,702.6 L481.9,699.9 L482.6,697.3 L483.0,694.6 L482.2,691.7 L482.2,689.0 L483.3,686.4 L483.5,683.7 L485.0,681.2 L485.0,678.4 L485.2,675.7 L485.3,673.0 L487.5,671.2 L489.7,669.6 L491.0,666.9 L493.5,665.5 L495.2,663.2 L498.3,662.6 L499.2,659.3 L501.9,658.2 L503.9,656.6 L504.1,653.6 L506.7,652.4 L507.5,649.9 L509.1,647.9 L511.4,646.5 L511.4,643.4 L513.0,641.4 L516.0,640.5 L516.7,637.9 L518.8,639.8 L521.5,640.9 L522.3,644.2 L524.5,646.0 L527.8,646.5 L529.5,648.8 L531.5,650.8 L531.2,648.0 L532.2,645.5 L533.3,643.0 L532.9,640.1 L534.6,637.7 L533.7,634.8 L535.2,632.4 L537.4,634.0 L537.9,636.9 L540.3,638.4 L541.9,640.5 L543.3,642.8 L545.1,644.6 L546.9,646.6 L549.2,648.1 L550.0,650.8 L552.8,651.1 L555.6,651.4 L558.4,651.2 L561.1,650.3 L563.8,649.4 L566.6,649.1 L569.4,649.6 L572.1,649.0 L574.8,649.1 L577.3,647.6 L580.0,647.6 L582.6,647.6 L585.3,647.7 L588.0,648.1 L590.6,647.1 L592.3,649.1 L594.8,650.5 L595.1,653.6 L597.4,655.1 L599.0,657.2 L601.2,658.8 L602.5,661.1 L604.2,663.1 L605.3,665.6 L608.1,666.7 L609.1,669.3 L610.9,671.2 L613.3,672.5 L614.3,675.2 L617.2,676.0 L618.6,678.2 L620.4,680.2 L621.8,682.5 L624.5,683.4 L625.7,685.9 L627.5,687.8 L628.9,690.2 L629.4,692.8 L629.8,695.5 L629.5,698.4 L631.2,700.7 L631.0,703.6 L633.4,705.7 L632.5,708.7 L634.4,710.9 L634.9,713.6 L634.9,716.2 L633.1,718.4 L632.2,720.8 L633.5,723.7 L632.3,726.1 L631.2,728.4 L630.1,725.9 L627.8,724.4 L626.0,722.4 L624.0,720.6 L622.5,718.4 L621.9,715.6 L620.1,713.6 L619.4,710.9 L617.8,708.7 L615.4,707.3 L613.0,705.8 L611.9,703.3 L611.2,700.6 L609.1,698.9 L606.8,697.6 L604.2,697.4 L601.6,697.6 L599.2,696.4 L596.8,695.9 L594.3,695.2 L591.3,694.9 L588.4,695.7 L585.4,694.2 L582.5,694.3 L579.5,695.2 L578.6,697.8 L576.9,699.9 L574.4,701.4 L574.0,704.4 L572.1,706.3 L569.3,706.9 L567.6,709.2 L565.2,710.3 L563.0,711.8 L561.0,713.6 L562.5,716.2 L563.3,719.0 L564.3,721.8 L564.7,724.7 L566.7,726.5 L568.9,728.0 L571.8,728.5 L573.1,731.3 L575.8,732.1 L578.5,732.5 L581.2,732.6 L583.8,733.5 L586.2,735.2 L589.0,734.9 L591.6,735.5 L594.3,735.8 L596.8,737.2 L599.4,737.9 L602.1,737.9 L604.9,737.7 L607.5,738.6 L610.0,739.8 L612.8,739.5 L615.0,741.3 L617.6,742.1 L620.3,742.9 L622.7,744.2 L624.8,746.1 L627.5,746.9 L626.2,749.3 L626.0,752.3 L623.4,754.1 L621.8,756.4 L620.8,758.9 L619.4,761.3 L618.1,763.8 L617.7,766.6 L616.5,769.1 L614.0,770.2 L612.4,772.5 L610.7,774.5 L608.2,775.6 L606.2,777.3 L603.2,777.8 L601.7,780.1 L599.2,780.2 L596.7,780.9 L594.3,781.2 L592.0,782.8 L589.4,782.4 L586.8,782.5 L584.5,783.6 L582.1,784.4 L579.5,784.5 L577.1,785.1 L574.5,784.8 L572.1,785.7 L569.3,785.5 L566.6,784.7 L564.2,783.3 L561.9,781.6 L559.4,780.6 L556.7,779.8 L554.4,778.4 L551.4,778.6 L548.5,778.4 L546.3,776.5 L544.0,775.1 L541.6,773.8 L539.0,772.9 L537.2,770.6 L534.6,769.9 L532.1,768.7 L529.9,767.1 L527.8,765.4 L526.0,763.2 L522.6,763.6 L520.7,761.5 L518.3,760.3 L515.9,759.0 L513.8,757.2 L511.3,756.2 L509.3,754.3 L509.8,751.7 L508.5,749.4 L508.5,746.8 L506.9,744.6 L507.2,742.0 L507.1,739.5 L507.2,736.9 L505.5,734.7 L505.6,732.1 L504.0,729.9 L503.3,727.2 L501.8,725.1 L499.2,723.6 L498.3,721.0 L497.2,718.5 L495.0,716.8 L494.1,714.2 L492.6,712.0 L490.8,710.0 L489.2,707.3 L486.3,706.2 L484.1,704.1 Z" fill="#8fc8bb" />
<path d="M463.1,939.0 L463.8,936.4 L465.8,934.6 L466.9,932.2 L468.4,930.1 L468.3,927.1 L469.5,924.9 L470.5,922.5 L472.4,920.5 L474.1,918.2 L476.9,917.2 L478.2,914.4 L480.8,913.2 L482.5,910.8 L484.7,909.1 L487.1,907.6 L489.9,907.2 L492.7,907.9 L495.4,907.2 L498.1,905.6 L500.9,906.0 L503.7,905.5 L506.6,906.8 L509.3,905.8 L511.7,907.5 L514.3,908.5 L517.0,909.6 L519.7,910.5 L522.2,911.9 L524.9,912.7 L527.8,913.1 L529.3,910.9 L532.0,910.0 L533.3,907.6 L535.2,905.8 L537.5,907.0 L540.1,907.2 L542.6,907.5 L545.1,908.0 L547.6,908.7 L550.0,909.5 L552.4,908.5 L554.7,907.4 L557.5,908.3 L560.0,907.6 L562.5,907.4 L564.8,906.2 L567.2,905.3 L569.8,905.1 L572.1,903.9 L573.3,901.1 L576.1,899.5 L577.6,896.9 L579.5,894.7 L576.9,895.0 L574.5,894.5 L572.1,893.4 L569.5,893.6 L567.2,892.7 L564.7,892.0 L562.2,892.0 L559.6,892.2 L557.3,891.0 L555.1,889.5 L552.6,888.5 L550.4,887.0 L548.1,885.6 L546.3,883.6 L547.3,881.0 L547.9,878.3 L550.2,876.3 L552.1,874.2 L552.2,871.2 L553.6,868.8 L556.1,868.9 L558.7,868.9 L560.8,866.6 L563.3,866.4 L566.0,867.4 L568.5,867.1 L570.9,866.2 L573.2,864.8 L575.8,865.1 L578.5,864.0 L581.6,864.0 L584.4,863.1 L586.9,861.4 L589.5,861.4 L591.7,859.5 L594.5,860.3 L596.7,858.7 L599.3,858.8 L601.7,857.7 L604.6,857.4 L607.1,859.6 L609.9,859.3 L612.7,860.0 L615.6,859.4 L618.2,860.7 L621.0,861.1 L623.8,861.4 L626.3,861.0 L628.7,859.9 L631.3,860.0 L633.6,858.6 L636.0,857.9 L638.6,857.7 L637.5,860.2 L634.9,861.5 L634.2,864.3 L632.3,866.2 L630.9,868.4 L628.3,869.6 L626.7,871.7 L625.1,873.8 L624.2,876.5 L621.9,878.0 L620.1,879.9 L620.4,882.5 L621.0,885.1 L621.2,887.7 L619.0,890.3 L620.9,892.8 L620.5,895.4 L620.6,898.0 L619.9,900.6 L621.0,903.2 L620.1,905.8 L621.5,908.1 L623.1,910.2 L623.6,913.1 L626.6,914.4 L627.3,917.1 L628.4,919.6 L628.9,922.4 L631.2,924.2 L633.0,926.1 L634.9,927.9 L636.5,930.0 L638.9,931.3 L641.2,932.7 L642.3,935.3 L643.5,937.8 L646.0,939.0 L648.0,940.8 L650.9,941.3 L652.7,943.5 L654.9,945.2 L657.8,945.5 L659.8,947.5 L662.4,948.4 L664.5,950.1 L662.3,951.8 L659.8,953.0 L657.4,954.4 L654.8,955.3 L652.6,957.2 L649.7,957.5 L647.1,958.2 L644.6,959.4 L641.7,958.5 L639.1,959.4 L636.7,961.2 L633.7,960.1 L631.2,961.2 L629.4,963.2 L626.8,964.2 L624.5,965.5 L622.5,967.4 L620.1,968.6 L618.8,966.3 L618.3,963.7 L616.9,961.4 L617.6,958.5 L615.2,956.5 L615.9,953.6 L613.8,951.5 L613.2,949.0 L612.8,946.4 L610.0,946.6 L607.2,947.4 L604.5,947.2 L601.7,946.4 L600.6,948.7 L599.1,950.8 L597.0,952.5 L595.4,954.6 L595.8,957.8 L593.6,959.5 L593.0,962.1 L590.4,963.5 L589.9,966.2 L587.5,967.8 L586.9,970.4 L587.5,967.9 L587.0,965.2 L587.2,962.6 L588.2,960.2 L590.0,957.9 L588.9,955.0 L590.1,952.6 L590.6,950.1 L591.4,947.4 L592.4,944.7 L594.4,942.4 L594.2,939.3 L596.3,937.1 L597.3,934.4 L598.0,931.6 L596.3,929.3 L593.6,928.6 L591.9,926.4 L589.0,925.8 L586.9,924.2 L584.2,925.1 L581.5,926.1 L578.7,926.7 L576.0,927.6 L574.0,930.3 L571.3,931.3 L568.4,931.6 L567.3,934.2 L565.6,936.6 L565.2,939.5 L564.6,942.3 L562.2,944.4 L562.5,947.6 L561.0,950.1 L560.3,952.8 L558.9,955.1 L557.4,957.3 L554.7,958.7 L553.6,961.2 L551.2,960.0 L550.3,957.2 L548.7,955.1 L547.0,953.0 L544.9,951.5 L542.6,950.1 L540.1,949.0 L537.8,947.4 L535.5,945.7 L532.9,944.7 L530.1,944.3 L527.8,942.7 L526.2,945.1 L526.5,948.3 L525.0,950.8 L522.6,952.9 L522.6,955.9 L521.9,958.7 L520.4,961.2 L518.2,959.4 L515.4,958.8 L512.5,958.5 L510.1,957.2 L507.8,955.5 L505.6,953.8 L504.0,956.3 L501.2,957.8 L500.5,961.0 L498.2,963.0 L496.2,960.5 L493.7,958.7 L490.8,957.5 L488.1,958.6 L485.0,958.3 L482.4,959.7 L479.8,961.2 L477.6,959.7 L475.1,958.7 L473.1,956.8 L471.4,954.5 L468.7,953.8 L467.8,951.3 L466.2,949.1 L465.6,946.5 L464.9,944.0 L463.4,941.7 Z" fill="#8fc8bb" />
<path d="M775.3,780.1 L776.3,777.5 L778.9,776.3 L780.5,774.2 L782.6,772.5 L783.1,769.6 L784.7,767.5 L787.2,766.1 L788.7,764.0 L790.1,761.7 L793.1,761.3 L796.0,762.1 L799.0,761.5 L801.9,762.3 L804.9,761.7 L806.2,764.3 L806.4,767.2 L805.4,770.2 L806.7,772.8 L804.5,774.6 L802.2,776.4 L799.2,777.0 L797.1,778.8 L795.3,781.3 L792.4,782.1 L790.1,783.8 L788.0,785.8 L787.0,788.7 L784.3,790.2 L783.4,793.2 L780.9,794.9 L779.6,792.6 L778.2,790.3 L777.5,787.7 L778.2,784.7 L776.0,782.6 Z" fill="#8fc8bb" />
</g>
<rect clip-path="url(#cErro)" x="410" y="575" width="535" height="585" filter="url(#hsD)"/><rect clip-path="url(#cErro)" x="410" y="575" width="535" height="585" filter="url(#hsL)"/>
<path d="M878.8,1631.2 L883.3,1630.4 L887.3,1628.3 L890.5,1629.1 L893.8,1628.1 L897.1,1628.3 L900.2,1629.6 L903.5,1629.6 L906.7,1629.7 L910.0,1629.7 L912.9,1630.5 L915.6,1632.0 L918.4,1633.1 L921.3,1634.0 L924.7,1634.7 L928.2,1634.6 L931.5,1635.6 L934.9,1636.1 L938.3,1636.8 L941.7,1637.0 L945.1,1637.3 L948.5,1637.1 L951.9,1636.5 L955.3,1636.3 L956.4,1639.2 L957.7,1642.1 L959.1,1645.0 L959.5,1648.2 L959.9,1651.6 L959.0,1655.0 L958.9,1658.4 L958.5,1661.7 L958.1,1665.1 L955.0,1666.0 L952.4,1667.9 L949.5,1669.3 L946.9,1671.1 L943.9,1672.2 L943.5,1675.6 L942.0,1678.7 L941.2,1682.0 L939.7,1685.0 L939.1,1688.2 L937.8,1691.3 L937.6,1694.6 L937.7,1698.0 L936.1,1701.0 L935.6,1704.3 L935.4,1707.6 L935.3,1710.9 L935.3,1714.3 L935.8,1717.6 L936.0,1720.9 L936.9,1724.2 L936.9,1727.5 L936.9,1730.9 L937.7,1734.2 L939.5,1737.3 L939.4,1740.8 L940.1,1744.1 L941.1,1747.3 L941.6,1750.5 L941.9,1753.8 L942.3,1757.0 L942.1,1760.3 L943.1,1763.5 L943.0,1766.8 L943.9,1770.0 L944.4,1773.1 L944.0,1776.3 L944.3,1779.5 L945.2,1782.6 L945.4,1785.7 L945.2,1788.9 L945.8,1792.0 L946.5,1795.2 L946.8,1798.3 L948.2,1801.0 L949.2,1803.9 L949.7,1806.9 L951.5,1809.4 L951.6,1812.6 L953.5,1815.1 L953.7,1818.3 L955.3,1820.9 L957.1,1823.6 L958.0,1826.9 L959.9,1829.6 L961.8,1832.3 L963.3,1835.1 L964.8,1838.1 L966.6,1840.8 L968.5,1843.3 L970.9,1845.5 L973.0,1847.8 L974.7,1850.5 L976.3,1853.3 L978.6,1855.5 L980.8,1857.8 L983.9,1858.7 L986.3,1861.0 L989.1,1862.3 L991.9,1864.0 L995.1,1864.5 L997.6,1866.6 L1000.6,1867.7 L1003.6,1866.0 L1007.0,1865.8 L1010.0,1864.2 L1013.3,1863.4 L1016.4,1864.1 L1019.2,1866.0 L1022.5,1866.1 L1025.3,1867.7 L1028.2,1869.2 L1031.5,1869.4 L1034.5,1870.5 L1037.4,1871.9 L1040.8,1872.2 L1044.2,1871.2 L1047.6,1871.4 L1050.9,1870.1 L1054.4,1870.5 L1056.3,1873.6 L1058.4,1876.7 L1059.5,1880.2 L1061.5,1883.3 L1064.8,1884.2 L1067.4,1886.7 L1071.0,1886.9 L1073.6,1889.3 L1077.1,1889.8 L1079.9,1891.8 L1082.5,1893.9 L1084.3,1896.8 L1087.3,1898.5 L1089.7,1900.9 L1091.5,1903.7 L1094.1,1905.9 L1095.5,1908.7 L1097.1,1911.3 L1097.1,1914.7 L1099.4,1917.0 L1100.8,1919.8 L1101.6,1922.8 L1102.6,1925.7 L1105.9,1926.3 L1109.2,1927.0 L1112.6,1926.6 L1115.8,1927.4 L1119.2,1927.5 L1122.4,1928.6 L1125.7,1928.5 L1129.0,1929.0 L1132.3,1928.9 L1135.6,1929.2 L1138.9,1929.0 L1142.2,1928.6 L1143.6,1931.4 L1145.5,1933.7 L1147.6,1936.0 L1149.3,1938.5 L1148.6,1941.8 L1147.0,1944.8 L1146.4,1948.1 L1145.1,1951.2 L1149.3,1950.6 L1153.5,1951.2 L1154.4,1947.4 L1155.9,1943.8 L1156.4,1939.9 L1160.6,1938.7 L1164.9,1938.5 L1165.1,1941.6 L1165.6,1944.7 L1165.7,1947.9 L1166.5,1950.9 L1166.3,1954.1 L1164.3,1956.6 L1163.8,1959.9 L1161.9,1962.5 L1160.7,1965.4 L1159.2,1968.2 L1156.7,1970.2 L1153.5,1971.0 L1150.9,1972.9 L1148.1,1974.4 L1145.3,1975.9 L1142.2,1976.7 L1140.4,1979.2 L1138.4,1981.4 L1135.7,1982.9 L1133.7,1985.2 L1132.3,1989.4 L1130.9,1993.7 L1127.7,1994.8 L1124.9,1996.6 L1122.0,1998.2 L1119.7,2000.8 L1116.7,2002.2 L1115.6,2005.1 L1114.6,2008.0 L1112.9,2010.6 L1111.7,2013.4 L1110.2,2016.2 L1109.1,2019.1 L1108.2,2022.0 L1108.5,2025.3 L1108.3,2028.6 L1108.2,2032.0 L1108.9,2035.3 L1108.9,2038.6 L1108.2,2041.9 L1108.9,2045.3 L1109.9,2048.6 L1109.6,2052.2 L1110.9,2055.4 L1111.1,2058.9 L1111.2,2062.2 L1110.7,2065.4 L1110.2,2068.6 L1109.8,2071.9 L1109.0,2075.0 L1108.7,2078.3 L1108.2,2081.5 L1106.5,2084.5 L1104.3,2087.1 L1102.9,2090.2 L1100.2,2092.5 L1098.2,2095.3 L1096.9,2098.5 L1095.5,2101.2 L1094.9,2104.2 L1093.7,2107.0 L1092.5,2109.8 L1092.2,2112.9 L1090.6,2115.6 L1089.4,2118.4 L1088.4,2121.2 L1087.4,2124.5 L1086.1,2127.6 L1083.8,2130.2 L1082.9,2133.5 L1081.3,2136.5 L1079.9,2139.6 L1076.7,2139.0 L1073.4,2139.4 L1070.2,2139.9 L1066.9,2138.9 L1063.7,2139.8 L1060.4,2140.3 L1057.2,2139.6 L1054.5,2138.2 L1051.3,2137.7 L1048.6,2136.3 L1046.1,2134.4 L1043.1,2133.5 L1040.2,2132.5 L1036.8,2132.4 L1033.7,2131.0 L1030.5,2130.2 L1027.3,2129.3 L1024.0,2128.9 L1020.9,2127.6 L1017.6,2126.9 L1014.5,2125.7 L1011.8,2123.8 L1009.0,2122.0 L1006.6,2119.6 L1003.4,2118.4 L999.9,2118.4 L996.7,2116.9 L993.1,2117.1 L989.8,2116.0 L986.4,2115.5 L983.5,2114.4 L980.7,2113.1 L978.1,2111.5 L975.0,2110.8 L972.0,2109.9 L969.2,2108.7 L966.6,2107.0 L963.5,2106.3 L961.1,2104.1 L958.2,2103.2 L955.5,2101.6 L952.6,2100.7 L949.4,2100.3 L946.8,2098.5 L944.6,2096.0 L942.3,2093.5 L939.9,2091.2 L937.3,2089.1 L934.8,2086.9 L932.6,2084.4 L930.7,2082.1 L929.2,2079.4 L926.7,2077.5 L925.1,2074.9 L923.2,2072.6 L921.3,2070.2 L919.9,2067.4 L917.9,2065.2 L916.1,2062.7 L914.1,2060.4 L911.7,2058.5 L910.0,2056.0 L908.5,2053.3 L907.7,2050.4 L906.3,2047.7 L905.3,2044.8 L904.3,2041.9 L901.6,2039.8 L899.0,2037.6 L895.9,2036.1 L893.2,2033.9 L889.8,2032.9 L887.3,2030.5 L884.4,2029.0 L882.0,2026.5 L878.5,2025.8 L875.9,2023.8 L873.1,2022.0 L869.5,2021.9 L865.9,2021.2 L862.6,2019.4 L859.0,2019.2 L855.4,2017.6 L851.4,2017.1 L847.6,2016.4 L846.4,2013.0 L845.9,2009.4 L845.1,2005.8 L844.8,2002.2 L843.9,1999.3 L842.8,1996.5 L841.3,1993.8 L840.3,1990.9 L839.1,1988.1 L837.5,1985.5 L836.9,1982.4 L836.3,1979.3 L835.0,1976.6 L833.5,1973.9 L831.0,1972.2 L829.3,1969.6 L827.3,1967.3 L825.0,1965.4 L823.3,1962.7 L822.6,1959.5 L820.7,1956.9 L819.3,1954.1 L816.6,1952.7 L813.6,1951.9 L811.0,1950.0 L808.1,1949.2 L805.1,1948.4 L802.4,1945.5 L799.1,1943.1 L796.7,1939.9 L795.6,1936.7 L793.9,1933.7 L793.6,1930.3 L793.0,1927.0 L791.0,1924.1 L790.3,1920.8 L789.2,1917.6 L788.2,1914.4 L786.9,1911.6 L786.0,1908.6 L785.1,1905.7 L783.6,1903.0 L782.1,1900.3 L781.5,1897.2 L779.7,1894.6 L778.4,1891.8 L777.9,1888.8 L776.7,1886.0 L775.8,1883.1 L774.8,1880.2 L773.0,1877.7 L772.4,1874.7 L771.2,1871.9 L769.2,1869.1 L767.6,1866.1 L766.1,1863.0 L763.8,1860.5 L761.1,1858.1 L759.8,1854.9 L758.7,1852.1 L758.1,1849.1 L757.3,1846.2 L755.9,1843.5 L755.1,1840.6 L753.1,1838.2 L752.7,1835.1 L754.0,1831.9 L754.4,1828.6 L755.0,1825.2 L756.1,1822.0 L756.8,1818.7 L757.0,1815.3 L758.1,1812.2 L760.6,1809.8 L762.2,1807.0 L763.1,1803.7 L765.4,1801.3 L766.8,1798.3 L768.3,1795.4 L769.6,1792.4 L771.9,1790.0 L772.7,1786.7 L775.0,1784.2 L776.4,1781.2 L777.8,1778.3 L779.7,1775.6 L781.0,1772.8 L782.1,1769.9 L783.0,1767.0 L785.2,1764.5 L785.2,1761.2 L786.3,1758.4 L788.2,1755.8 L789.2,1752.2 L790.8,1748.8 L791.6,1745.2 L792.4,1741.6 L793.6,1738.3 L794.1,1734.8 L795.2,1731.5 L795.6,1727.9 L796.7,1724.6 L796.1,1721.3 L796.2,1718.0 L795.3,1714.7 L795.1,1711.4 L795.8,1708.1 L795.2,1704.8 L794.3,1701.6 L794.6,1698.2 L794.2,1694.8 L793.2,1691.6 L793.1,1688.3 L792.4,1685.0 L793.4,1682.0 L794.0,1678.9 L793.6,1675.5 L794.2,1672.4 L795.2,1669.4 L798.3,1668.4 L801.4,1667.6 L804.5,1666.5 L807.5,1665.3 L810.8,1665.1 L813.3,1663.1 L816.1,1661.6 L818.0,1658.9 L820.5,1657.1 L822.8,1654.9 L825.3,1653.0 L827.8,1651.0 L830.8,1650.4 L833.4,1648.6 L836.4,1648.0 L839.1,1646.7 L842.0,1645.7 L845.0,1645.2 L847.5,1643.0 L850.5,1642.5 L853.8,1642.3 L856.9,1641.0 L860.2,1640.9 L863.5,1640.4 L866.7,1639.6 L869.8,1638.7 L873.1,1638.2 L875.4,1636.2 L876.5,1633.2 Z" fill="#99b85e" />
<g clip-path="url(#cTanna)">
<path d="M818.5,1670.6 L821.1,1669.5 L821.4,1666.2 L824.4,1665.5 L825.4,1662.7 L828.5,1662.2 L829.6,1659.6 L832.0,1657.7 L835.4,1658.5 L838.0,1657.2 L840.6,1655.9 L843.9,1656.7 L847.2,1657.0 L850.5,1655.9 L853.5,1656.6 L856.2,1658.0 L858.6,1660.0 L861.6,1660.8 L863.8,1659.1 L866.5,1658.3 L864.4,1655.7 L862.7,1652.9 L861.6,1649.7 L864.3,1649.6 L866.8,1648.8 L869.0,1647.2 L871.1,1649.3 L874.2,1649.8 L875.9,1652.6 L878.8,1653.4 L881.3,1651.4 L883.4,1648.8 L886.2,1647.2 L885.5,1643.6 L885.0,1639.9 L887.9,1640.9 L891.1,1641.4 L893.6,1643.5 L895.1,1645.7 L897.1,1647.4 L898.5,1649.7 L900.9,1650.7 L903.1,1652.3 L905.9,1652.2 L905.1,1655.1 L905.1,1658.1 L903.6,1660.9 L902.8,1663.8 L903.4,1666.9 L903.7,1670.0 L903.1,1673.2 L905.4,1676.1 L904.7,1679.3 L904.2,1682.3 L902.9,1685.0 L900.1,1687.0 L899.4,1689.9 L898.5,1692.8 L901.7,1693.7 L905.2,1693.1 L908.4,1694.0 L909.2,1696.5 L909.2,1699.2 L910.8,1701.4 L908.6,1702.9 L906.1,1703.5 L903.7,1704.2 L901.0,1703.9 L900.7,1707.2 L899.5,1710.3 L899.8,1713.7 L897.3,1714.4 L894.9,1715.6 L892.4,1716.2 L891.2,1718.7 L890.6,1721.4 L888.7,1723.6 L885.8,1722.4 L882.8,1723.4 L879.8,1723.5 L876.8,1723.1 L873.9,1722.4 L872.7,1718.7 L875.4,1718.5 L877.4,1716.7 L880.0,1716.2 L878.6,1713.8 L875.8,1713.0 L874.0,1711.1 L871.5,1710.0 L870.2,1707.6 L867.6,1706.5 L864.9,1706.5 L862.1,1706.9 L859.3,1707.5 L856.7,1706.4 L855.9,1708.8 L855.3,1711.4 L854.2,1713.7 L851.3,1714.7 L848.7,1716.3 L846.8,1718.7 L844.0,1719.0 L841.6,1720.8 L839.1,1722.1 L835.9,1721.1 L833.2,1721.8 L830.8,1723.6 L827.9,1722.4 L825.8,1719.9 L823.3,1718.1 L820.9,1716.2 L821.5,1713.2 L819.1,1710.6 L819.7,1707.6 L821.6,1705.0 L824.6,1703.9 L823.3,1701.3 L821.0,1699.5 L819.0,1697.5 L817.2,1695.3 L817.8,1692.6 L817.4,1689.9 L817.6,1687.1 L816.7,1684.4 L817.2,1681.7 L816.6,1678.8 L816.8,1676.0 L817.8,1673.3 Z" fill="#5b9d6f" />
<path d="M835.7,1732.2 L840.6,1732.2 L843.0,1733.2 L845.1,1734.6 L847.3,1735.8 L849.5,1737.1 L851.7,1738.4 L854.5,1738.5 L857.2,1739.3 L860.1,1738.8 L862.8,1739.6 L865.6,1740.7 L868.8,1740.2 L871.4,1742.1 L874.6,1742.3 L877.6,1743.3 L876.0,1746.0 L873.9,1748.2 L873.4,1751.1 L871.4,1753.2 L869.7,1751.1 L867.1,1750.2 L865.3,1748.2 L862.8,1749.4 L860.5,1750.8 L859.1,1753.2 L857.9,1755.9 L855.1,1757.6 L854.2,1760.5 L852.2,1758.1 L849.3,1756.8 L852.0,1754.6 L854.2,1751.9 L851.3,1752.4 L848.7,1751.0 L846.1,1750.2 L843.2,1750.4 L840.6,1749.5 L838.6,1747.7 L837.2,1745.4 L835.6,1743.3 L834.5,1740.8 L835.5,1738.0 L835.0,1735.0 Z" fill="#5b9d6f" />
<path d="M857.9,1781.5 L860.4,1782.3 L862.6,1783.7 L865.3,1783.9 L867.3,1786.0 L870.4,1786.0 L872.7,1787.6 L874.9,1786.2 L876.7,1784.2 L878.4,1782.3 L880.0,1780.2 L882.5,1779.3 L885.0,1780.2 L887.6,1781.3 L888.7,1783.9 L891.3,1784.9 L893.6,1786.4 L891.8,1789.3 L891.1,1792.6 L888.2,1794.3 L885.0,1795.0 L882.9,1797.5 L881.2,1800.2 L878.8,1802.4 L880.1,1804.8 L881.8,1806.8 L884.5,1807.8 L886.2,1809.8 L890.1,1810.3 L893.6,1808.6 L895.7,1811.3 L896.1,1814.7 L895.0,1817.1 L894.5,1819.5 L895.6,1822.3 L894.0,1824.6 L893.9,1827.1 L893.6,1829.6 L892.4,1832.5 L893.8,1835.5 L892.8,1838.4 L891.8,1841.3 L892.4,1844.3 L894.7,1845.8 L897.5,1846.4 L899.8,1848.0 L901.6,1850.5 L900.7,1853.8 L902.6,1856.3 L903.4,1859.1 L905.5,1861.0 L908.6,1860.0 L910.8,1861.6 L912.6,1863.7 L914.9,1865.1 L916.9,1866.8 L920.3,1866.6 L921.9,1869.0 L924.2,1870.6 L926.8,1872.0 L928.0,1875.0 L930.5,1876.4 L932.4,1878.7 L933.0,1881.8 L935.5,1883.7 L938.1,1883.0 L940.9,1883.5 L943.6,1883.3 L946.1,1881.5 L948.9,1881.8 L951.5,1881.3 L952.0,1884.1 L954.2,1885.9 L956.0,1888.0 L957.5,1890.2 L958.0,1893.1 L960.5,1894.7 L961.3,1897.3 L962.4,1894.5 L963.1,1891.6 L963.8,1888.7 L966.0,1890.0 L968.6,1890.4 L970.3,1892.7 L972.2,1894.4 L974.9,1894.8 L977.5,1895.4 L979.9,1896.3 L981.9,1898.4 L984.7,1898.5 L984.6,1895.7 L983.6,1893.0 L982.7,1890.3 L983.5,1887.4 L986.4,1888.0 L989.2,1887.1 L992.1,1887.4 L992.1,1890.0 L992.4,1892.5 L991.6,1895.1 L991.3,1897.6 L992.1,1900.2 L992.5,1902.8 L990.4,1905.3 L990.5,1907.8 L992.4,1910.4 L991.1,1913.0 L990.7,1915.5 L991.3,1918.1 L990.5,1920.6 L990.9,1923.2 L991.2,1926.1 L993.2,1928.2 L994.8,1930.5 L996.4,1932.7 L997.0,1935.5 L1000.4,1935.9 L1003.4,1937.4 L1003.1,1940.1 L1002.2,1942.6 L1001.0,1945.0 L998.8,1947.0 L998.5,1949.7 L996.4,1951.3 L994.0,1952.4 L992.4,1954.6 L995.7,1955.5 L998.9,1955.3 L1002.2,1954.6 L1004.3,1956.6 L1003.8,1960.0 L1006.7,1961.6 L1007.1,1964.5 L1003.8,1965.1 L1001.0,1966.9 L999.4,1969.6 L999.0,1972.6 L998.5,1975.6 L1001.2,1974.5 L1003.8,1972.9 L1006.5,1972.0 L1009.6,1971.9 L1009.7,1975.2 L1011.0,1978.4 L1010.8,1981.7 L1009.1,1984.5 L1008.0,1987.7 L1005.9,1990.3 L1007.8,1992.9 L1008.8,1995.9 L1009.6,1999.0 L1011.1,2001.7 L1013.3,2003.9 L1014.1,2001.4 L1014.7,1998.9 L1015.7,1996.5 L1016.7,1994.1 L1017.4,1991.6 L1018.2,1989.1 L1020.8,1991.5 L1023.2,1994.0 L1025.0,1996.7 L1027.8,1998.1 L1030.9,1999.1 L1033.0,2001.4 L1034.6,2003.7 L1036.1,2006.0 L1037.0,2008.6 L1038.9,2010.8 L1039.2,2013.7 L1042.0,2013.7 L1044.6,2012.9 L1047.3,2012.1 L1050.2,2012.6 L1052.7,2011.3 L1054.6,2013.5 L1055.7,2016.3 L1056.6,2019.2 L1058.9,2021.1 L1061.6,2020.4 L1064.3,2019.7 L1066.8,2018.4 L1069.9,2018.9 L1072.4,2017.6 L1074.9,2016.2 L1075.9,2018.9 L1076.4,2021.7 L1076.5,2024.6 L1077.3,2027.3 L1079.4,2029.5 L1081.6,2031.6 L1084.3,2033.3 L1086.0,2035.9 L1085.8,2039.0 L1085.6,2042.0 L1085.4,2045.1 L1086.0,2048.2 L1086.9,2050.6 L1087.7,2053.1 L1088.4,2055.6 L1085.9,2056.5 L1083.5,2057.4 L1081.1,2058.4 L1078.6,2059.3 L1081.4,2060.0 L1083.2,2062.0 L1084.4,2064.8 L1087.2,2065.5 L1085.8,2067.8 L1085.8,2070.4 L1084.4,2072.7 L1084.8,2075.5 L1083.5,2077.8 L1083.2,2080.4 L1081.8,2082.7 L1081.0,2085.2 L1078.1,2084.8 L1075.1,2086.2 L1072.2,2085.3 L1069.2,2084.3 L1066.3,2085.2 L1065.6,2087.6 L1064.4,2089.9 L1065.0,2092.6 L1062.4,2093.6 L1059.6,2091.9 L1056.9,2092.2 L1054.3,2094.1 L1051.6,2093.1 L1048.9,2092.7 L1046.3,2094.0 L1043.5,2093.1 L1040.8,2092.8 L1038.2,2093.0 L1035.5,2093.8 L1033.5,2090.8 L1031.8,2087.6 L1029.4,2090.1 L1026.0,2090.9 L1023.2,2092.6 L1019.8,2092.0 L1017.0,2090.1 L1013.9,2091.3 L1010.8,2092.6 L1005.9,2092.6 L1002.9,2092.3 L1000.1,2091.3 L997.3,2090.1 L995.5,2088.2 L994.1,2085.9 L992.5,2083.8 L989.9,2082.7 L989.1,2080.3 L987.6,2078.1 L988.6,2075.2 L987.4,2072.9 L988.3,2070.3 L990.4,2068.2 L991.1,2065.5 L988.4,2065.6 L986.5,2068.0 L983.6,2067.3 L981.4,2069.0 L978.9,2069.7 L976.4,2070.4 L973.8,2070.8 L971.4,2071.6 L968.6,2069.5 L966.5,2066.7 L964.3,2064.9 L961.9,2063.4 L959.5,2061.8 L957.9,2059.3 L955.5,2058.1 L954.0,2055.7 L951.7,2054.4 L950.5,2052.1 L949.5,2049.7 L949.3,2047.0 L947.5,2045.0 L945.7,2043.1 L945.5,2039.9 L943.1,2038.4 L941.4,2036.2 L938.5,2035.7 L936.9,2033.4 L934.5,2031.3 L932.7,2028.6 L930.8,2026.1 L930.3,2023.6 L929.6,2021.1 L931.9,2019.3 L934.5,2017.9 L936.9,2016.2 L934.0,2015.0 L930.8,2015.0 L927.8,2013.5 L926.0,2010.8 L923.4,2008.8 L920.8,2007.3 L919.3,2004.7 L917.2,2002.7 L916.0,1999.0 L918.2,1997.0 L921.3,1996.2 L923.4,1994.0 L920.1,1993.2 L916.8,1993.0 L913.5,1994.0 L912.7,1990.4 L912.3,1986.7 L909.5,1985.6 L906.4,1985.7 L903.7,1984.2 L903.8,1981.4 L903.6,1978.7 L902.5,1976.1 L902.0,1973.4 L902.6,1970.6 L902.2,1967.9 L902.0,1965.2 L901.0,1962.6 L900.5,1960.0 L900.4,1957.4 L900.5,1954.8 L900.3,1952.2 L899.9,1949.7 L900.2,1947.1 L901.0,1944.5 L900.8,1941.9 L901.9,1939.3 L901.0,1936.7 L897.8,1935.1 L894.8,1933.0 L893.7,1929.8 L894.9,1926.4 L893.6,1923.2 L893.7,1920.4 L895.2,1918.1 L897.1,1916.0 L897.2,1913.1 L898.5,1910.8 L895.6,1910.1 L892.9,1910.9 L890.3,1912.2 L887.4,1911.3 L884.6,1911.4 L881.9,1912.6 L879.3,1913.8 L876.4,1913.3 L875.6,1916.0 L872.7,1917.2 L871.1,1919.3 L870.2,1921.9 L868.9,1919.6 L867.6,1917.2 L866.1,1915.1 L864.0,1913.3 L864.1,1910.7 L865.3,1908.4 L862.4,1906.8 L860.9,1903.6 L857.9,1902.2 L856.4,1899.8 L853.7,1898.6 L851.4,1897.0 L849.1,1895.5 L847.5,1893.1 L845.6,1891.1 L844.1,1888.8 L841.1,1888.3 L839.4,1886.2 L837.8,1883.9 L836.0,1881.7 L835.9,1878.8 L833.7,1876.8 L833.3,1873.9 L834.9,1871.2 L835.7,1868.2 L836.9,1865.3 L833.8,1863.6 L830.8,1861.6 L829.3,1859.1 L828.4,1856.3 L828.7,1853.1 L827.8,1850.4 L825.9,1848.0 L824.6,1845.7 L821.9,1844.5 L820.2,1842.5 L818.7,1840.4 L817.2,1838.2 L819.8,1836.9 L822.0,1835.2 L823.4,1832.6 L826.2,1833.5 L828.2,1835.7 L830.8,1836.9 L833.7,1837.1 L836.5,1837.7 L839.4,1838.2 L841.9,1836.0 L845.4,1835.4 L848.0,1833.3 L850.7,1833.9 L853.3,1834.3 L856.0,1833.3 L858.7,1833.2 L861.3,1833.6 L864.0,1833.3 L861.1,1832.3 L859.6,1829.3 L856.7,1828.3 L854.6,1825.8 L851.4,1824.7 L849.3,1822.2 L849.7,1819.4 L850.5,1816.6 L851.9,1814.0 L851.7,1811.0 L855.1,1811.0 L858.2,1809.6 L861.6,1809.8 L863.2,1807.6 L863.7,1805.1 L864.2,1802.6 L864.0,1800.0 L860.3,1798.7 L859.7,1795.7 L859.1,1792.6 L862.8,1790.1 L860.3,1787.7 L857.9,1785.2 Z" fill="#5b9d6f" />
<path d="M987.4,2007.6 L988.8,2005.3 L991.4,2004.2 L992.7,2001.8 L994.8,2000.2 L997.0,2001.8 L998.2,2004.3 L999.8,2006.4 L1000.3,2008.9 L1000.8,2011.3 L1001.3,2013.8 L1002.2,2016.1 L1002.2,2018.7 L1004.3,2021.3 L1005.1,2024.6 L1007.1,2027.3 L1010.1,2027.3 L1012.8,2028.5 L1015.8,2028.5 L1015.8,2033.4 L1013.0,2032.4 L1010.1,2031.8 L1007.1,2032.2 L1004.5,2034.1 L1003.4,2037.1 L1002.2,2039.5 L1000.6,2041.6 L998.5,2043.3 L997.4,2045.6 L997.3,2048.2 L994.9,2046.0 L991.9,2044.6 L989.9,2042.1 L992.3,2040.9 L994.7,2039.7 L996.8,2038.0 L998.5,2035.9 L998.7,2032.9 L999.7,2030.0 L1001.0,2027.3 L997.5,2029.0 L993.6,2028.5 L990.5,2028.4 L988.2,2030.9 L985.1,2030.8 L982.5,2032.2 L982.2,2029.3 L981.9,2026.4 L981.3,2023.6 L983.0,2021.2 L985.2,2019.1 L986.2,2016.2 L989.1,2015.6 L991.8,2014.1 L994.8,2013.7 L993.4,2011.5 L993.6,2008.8 L990.5,2008.2 Z" fill="#8fc8bb" />
<path d="M1037.9,2051.9 L1040.6,2050.2 L1043.2,2048.3 L1045.3,2045.8 L1047.2,2043.7 L1049.0,2041.5 L1050.7,2039.1 L1052.7,2037.1 L1052.7,2032.2 L1054.5,2035.1 L1057.9,2036.0 L1060.1,2038.4 L1062.6,2039.2 L1064.5,2040.8 L1066.6,2042.3 L1068.5,2043.8 L1070.6,2045.1 L1072.4,2047.0 L1068.6,2047.3 L1065.0,2045.8 L1061.3,2046.2 L1057.6,2045.8 L1056.7,2048.4 L1055.0,2050.6 L1054.5,2053.4 L1052.7,2055.6 L1056.3,2056.6 L1058.9,2059.3 L1056.0,2061.2 L1052.7,2061.8 L1051.4,2064.8 L1050.2,2067.9 L1049.2,2065.1 L1049.1,2062.0 L1047.8,2059.3 L1045.5,2057.8 L1042.8,2057.8 L1040.4,2056.8 L1038.4,2054.8 Z" fill="#8fc8bb" />
</g>
<rect clip-path="url(#cTanna)" x="745" y="1620" width="430" height="530" filter="url(#hsD)"/><rect clip-path="url(#cTanna)" x="745" y="1620" width="430" height="530" filter="url(#hsL)"/>
<path d="M1293.3,1564.7 L1290.6,1563.1 L1288.3,1561.0 L1287.2,1557.9 L1285.9,1554.8 L1286.0,1550.5 L1286.5,1546.2 L1287.8,1543.2 L1288.9,1540.0 L1289.5,1537.0 L1289.2,1533.8 L1290.2,1530.8 L1291.8,1526.8 L1294.5,1523.4 L1296.2,1519.5 L1296.9,1515.4 L1296.9,1511.7 L1297.6,1508.0 L1297.4,1504.3 L1298.7,1500.6 L1298.2,1496.9 L1300.2,1493.2 L1302.2,1489.6 L1303.5,1493.2 L1305.6,1496.3 L1306.0,1499.4 L1306.2,1502.5 L1306.8,1505.6 L1308.5,1509.5 L1309.3,1513.6 L1309.1,1517.9 L1309.3,1522.2 L1310.4,1518.0 L1310.5,1513.6 L1311.8,1510.5 L1313.3,1507.5 L1314.2,1504.3 L1315.3,1501.1 L1315.3,1497.6 L1316.7,1494.5 L1316.4,1490.1 L1315.4,1485.9 L1310.5,1482.8 L1306.8,1478.5 L1307.4,1472.9 L1310.5,1471.7 L1313.6,1475.4 L1316.0,1477.4 L1318.5,1479.1 L1320.3,1482.7 L1321.6,1486.5 L1322.3,1490.0 L1321.1,1493.4 L1321.6,1496.9 L1320.8,1500.0 L1319.6,1503.0 L1319.1,1506.2 L1317.7,1509.3 L1317.0,1512.6 L1315.8,1515.7 L1315.4,1519.1 L1314.9,1522.8 L1313.8,1526.4 L1313.7,1530.2 L1313.0,1533.9 L1312.4,1537.6 L1312.5,1541.3 L1313.0,1545.0 L1312.5,1548.9 L1311.4,1552.5 L1309.9,1556.1 L1308.0,1559.8 L1305.1,1561.1 L1301.9,1561.6 L1296.9,1564.1 Z" fill="#99b85e" />
<path d="M2158.5,1927.1 L2162.1,1926.1 L2165.9,1925.9 L2169.5,1925.0 L2173.3,1925.2 L2177.0,1928.9 L2179.5,1930.6 L2181.9,1932.6 L2185.5,1931.5 L2189.2,1930.8 L2193.0,1930.8 L2197.3,1931.3 L2201.6,1932.0 L2206.5,1929.6 L2208.3,1925.8 L2209.0,1921.6 L2213.9,1920.3 L2219.4,1919.7 L2220.7,1924.6 L2217.6,1929.6 L2215.1,1934.5 L2212.6,1936.7 L2210.8,1939.4 L2210.6,1942.6 L2211.5,1945.8 L2211.2,1949.1 L2211.4,1952.3 L2211.1,1955.9 L2210.7,1959.4 L2209.6,1962.8 L2213.8,1963.8 L2217.6,1965.9 L2212.7,1967.7 L2209.2,1969.9 L2205.3,1971.4 L2203.5,1974.0 L2202.4,1977.0 L2201.6,1980.0 L2197.9,1980.0 L2195.4,1976.4 L2192.3,1976.6 L2189.3,1977.6 L2186.3,1976.2 L2183.1,1975.7 L2178.2,1976.4 L2176.3,1973.5 L2175.1,1970.2 L2173.6,1966.0 L2172.6,1961.6 L2170.6,1958.4 L2168.3,1955.4 L2165.9,1950.5 L2161.6,1948.0 L2165.1,1946.4 L2168.3,1944.3 L2169.4,1941.3 L2170.1,1938.3 L2170.2,1935.1 L2167.6,1932.7 L2165.9,1929.6 L2162.2,1928.2 Z" fill="#9aba60" />
<g clip-path="url(#cFut)">
<path d="M2180.0,1943.1 L2182.9,1942.7 L2185.1,1941.0 L2187.4,1939.4 L2190.0,1940.1 L2192.6,1940.6 L2195.3,1939.3 L2197.9,1940.0 L2198.7,1943.2 L2199.1,1946.5 L2201.0,1949.3 L2200.0,1952.3 L2200.4,1955.4 L2200.3,1958.5 L2198.6,1960.6 L2196.1,1961.8 L2193.2,1962.3 L2191.7,1964.7 L2188.8,1965.3 L2185.9,1964.6 L2183.1,1964.0 L2183.7,1960.8 L2182.2,1957.9 L2181.9,1954.8 L2179.4,1950.5 L2179.1,1946.7 Z" fill="#5a9e74" />
</g>
<path d="M1569.7,2865.9 L1572.9,2865.6 L1576.0,2865.4 L1579.2,2865.0 L1582.4,2864.8 L1585.5,2864.1 L1588.6,2863.3 L1591.9,2863.9 L1595.2,2862.6 L1598.4,2863.3 L1601.7,2863.9 L1605.0,2863.5 L1608.3,2863.9 L1611.6,2862.8 L1614.8,2863.3 L1618.1,2862.9 L1621.4,2863.3 L1624.2,2864.5 L1627.1,2865.7 L1630.0,2866.7 L1632.2,2864.2 L1635.2,2862.8 L1638.7,2862.8 L1642.1,2863.4 L1645.5,2864.1 L1647.9,2866.6 L1650.8,2868.6 L1654.1,2870.0 L1656.3,2872.8 L1659.3,2874.5 L1662.6,2875.8 L1665.3,2878.1 L1668.6,2879.2 L1671.4,2881.4 L1673.7,2884.1 L1674.8,2887.4 L1677.6,2889.2 L1681.0,2889.6 L1684.0,2890.9 L1686.9,2892.6 L1689.9,2893.3 L1693.0,2893.1 L1696.0,2892.3 L1699.0,2892.6 L1700.1,2896.7 L1702.4,2900.3 L1705.4,2901.2 L1708.4,2902.3 L1711.6,2902.5 L1714.5,2903.8 L1716.2,2906.8 L1718.6,2909.1 L1720.4,2911.9 L1723.1,2914.1 L1723.9,2917.3 L1726.0,2920.0 L1727.2,2923.1 L1728.3,2926.2 L1730.4,2929.5 L1732.1,2932.9 L1733.4,2936.6 L1735.1,2939.8 L1735.9,2943.4 L1736.6,2946.9 L1737.8,2950.3 L1737.0,2954.0 L1734.6,2957.1 L1733.4,2960.7 L1733.2,2964.2 L1732.8,2967.6 L1731.7,2971.0 L1731.7,2974.5 L1730.0,2977.4 L1728.5,2980.4 L1726.6,2983.1 L1725.6,2986.2 L1724.2,2989.2 L1724.1,2992.6 L1721.8,2995.3 L1721.4,2998.6 L1719.3,3002.5 L1716.2,3005.5 L1713.5,3007.7 L1711.0,3010.0 L1709.4,3013.2 L1706.2,3014.9 L1704.1,3017.6 L1703.1,3020.5 L1701.7,3023.3 L1700.7,3026.2 L1698.5,3028.5 L1695.9,3030.2 L1693.1,3031.7 L1690.3,3033.1 L1687.3,3032.5 L1684.3,3033.5 L1681.3,3032.7 L1678.3,3033.1 L1675.0,3033.8 L1672.0,3035.1 L1669.3,3037.2 L1666.2,3038.3 L1664.9,3035.5 L1664.0,3032.6 L1662.8,3029.7 L1659.5,3027.6 L1655.9,3026.2 L1653.6,3028.4 L1650.5,3029.4 L1647.9,3031.0 L1645.5,3033.1 L1641.8,3034.4 L1638.9,3037.1 L1635.2,3038.3 L1633.0,3035.3 L1630.0,3033.1 L1628.3,3030.4 L1627.5,3027.4 L1626.6,3024.5 L1622.3,3023.5 L1617.9,3022.8 L1615.8,3019.0 L1612.8,3015.9 L1609.4,3017.0 L1605.9,3017.6 L1603.0,3018.8 L1600.7,3021.0 L1596.4,3020.9 L1592.1,3021.0 L1590.1,3017.7 L1588.6,3014.1 L1584.3,3014.4 L1580.0,3014.1 L1576.8,3016.2 L1573.4,3018.1 L1569.7,3019.3 L1567.7,3021.9 L1564.9,3023.7 L1562.8,3026.2 L1560.3,3023.9 L1556.8,3023.1 L1554.1,3021.0 L1551.3,3018.5 L1550.0,3014.8 L1547.2,3012.4 L1544.9,3009.5 L1542.5,3006.7 L1540.3,3003.8 L1539.1,3000.9 L1538.7,2997.7 L1538.2,2994.6 L1536.9,2991.7 L1534.3,2989.2 L1531.7,2986.6 L1528.7,2984.4 L1526.6,2981.4 L1526.0,2978.3 L1523.7,2975.9 L1523.1,2972.8 L1522.4,2969.7 L1520.4,2967.2 L1519.7,2964.1 L1517.6,2961.6 L1515.5,2959.1 L1512.8,2957.2 L1511.6,2954.0 L1510.4,2950.8 L1508.2,2948.1 L1507.2,2944.8 L1505.9,2941.7 L1505.1,2938.3 L1505.8,2934.8 L1504.7,2931.4 L1504.6,2927.9 L1505.1,2924.4 L1504.1,2921.0 L1505.1,2917.9 L1505.8,2914.7 L1505.5,2911.4 L1506.1,2908.2 L1506.9,2905.0 L1507.1,2901.8 L1507.6,2898.6 L1509.7,2895.3 L1512.1,2892.2 L1514.5,2889.1 L1516.3,2886.4 L1518.7,2884.3 L1521.5,2882.5 L1523.1,2879.7 L1526.7,2879.3 L1530.0,2877.8 L1533.4,2876.6 L1536.8,2875.3 L1540.3,2874.5 L1542.2,2871.8 L1544.7,2869.7 L1547.2,2867.6 L1549.5,2870.7 L1552.0,2873.7 L1555.0,2876.2 L1557.0,2873.5 L1559.3,2871.0 L1562.9,2869.7 L1566.4,2867.9 Z" fill="#9ab960" />
<g clip-path="url(#cAnei)">
<path d="M1516.4,2919.6 L1518.6,2917.4 L1521.8,2916.8 L1524.1,2914.8 L1525.8,2912.2 L1526.9,2909.3 L1528.4,2906.6 L1530.1,2904.5 L1532.9,2904.0 L1534.5,2901.9 L1537.3,2901.7 L1539.6,2900.2 L1542.2,2899.3 L1544.8,2897.0 L1547.4,2894.6 L1550.5,2894.7 L1553.4,2895.9 L1554.9,2898.3 L1554.6,2901.0 L1554.6,2903.7 L1555.2,2906.2 L1557.3,2908.4 L1557.2,2911.7 L1559.6,2913.7 L1560.3,2916.6 L1562.6,2918.1 L1564.8,2919.6 L1565.2,2923.0 L1567.5,2924.5 L1569.8,2926.0 L1570.9,2922.9 L1570.5,2919.8 L1570.5,2916.6 L1568.8,2914.3 L1568.7,2911.5 L1568.4,2908.8 L1566.8,2906.4 L1567.9,2903.3 L1565.9,2901.1 L1565.5,2898.4 L1567.3,2895.8 L1570.6,2894.9 L1572.4,2892.4 L1571.9,2889.7 L1573.9,2887.4 L1573.3,2884.7 L1576.5,2884.3 L1579.6,2884.2 L1582.8,2883.8 L1585.9,2884.3 L1588.8,2885.5 L1590.8,2887.2 L1593.2,2888.4 L1595.3,2889.9 L1596.6,2892.4 L1596.4,2895.2 L1598.3,2897.5 L1598.3,2900.2 L1600.9,2902.2 L1604.3,2902.5 L1606.9,2904.5 L1605.9,2907.3 L1606.9,2910.2 L1604.5,2911.6 L1603.0,2913.8 L1601.7,2916.2 L1604.4,2916.2 L1606.9,2915.2 L1609.6,2915.0 L1611.9,2913.1 L1614.6,2913.3 L1617.2,2912.8 L1618.6,2915.4 L1621.6,2916.7 L1622.4,2919.9 L1625.0,2921.4 L1625.1,2924.5 L1626.9,2927.1 L1627.6,2930.0 L1629.8,2928.0 L1632.3,2926.5 L1634.6,2924.6 L1637.1,2923.1 L1640.5,2922.8 L1643.1,2920.5 L1641.7,2917.7 L1639.9,2915.1 L1639.7,2911.9 L1642.2,2908.4 L1644.7,2909.5 L1645.6,2912.2 L1647.0,2914.4 L1649.6,2915.3 L1651.5,2917.0 L1653.3,2918.9 L1655.2,2920.5 L1657.0,2918.5 L1657.4,2915.7 L1659.5,2913.9 L1660.8,2911.6 L1662.1,2909.3 L1663.6,2911.6 L1666.1,2913.0 L1667.8,2915.1 L1669.2,2917.4 L1670.7,2919.7 L1673.2,2917.6 L1674.1,2914.5 L1677.3,2915.5 L1680.2,2917.1 L1682.7,2919.0 L1685.6,2920.2 L1688.4,2921.5 L1690.5,2924.0 L1693.4,2926.4 L1694.8,2930.0 L1697.3,2931.0 L1699.9,2931.2 L1702.6,2930.9 L1703.1,2933.4 L1702.7,2936.1 L1703.4,2938.6 L1705.8,2940.9 L1708.1,2943.4 L1711.2,2944.7 L1708.5,2945.6 L1707.3,2948.3 L1705.2,2949.8 L1704.4,2952.5 L1704.7,2955.1 L1706.0,2957.6 L1708.9,2959.9 L1712.1,2961.9 L1709.4,2964.0 L1708.0,2967.1 L1706.0,2969.7 L1706.9,2972.2 L1707.7,2974.7 L1707.8,2977.4 L1704.5,2977.2 L1701.6,2979.3 L1698.3,2979.1 L1699.1,2982.1 L1697.3,2984.9 L1697.2,2987.9 L1697.6,2990.9 L1697.4,2993.8 L1694.0,2992.6 L1690.5,2992.9 L1689.7,2995.7 L1687.7,2997.5 L1686.0,2999.7 L1684.2,3001.7 L1683.0,3004.1 L1681.6,3006.4 L1679.5,3008.3 L1677.6,3010.2 L1673.3,3009.3 L1671.9,3006.4 L1670.0,3004.0 L1667.2,3002.4 L1668.2,2999.5 L1668.1,2996.3 L1668.0,2993.2 L1669.0,2990.3 L1668.4,2987.5 L1666.2,2985.7 L1664.7,2983.4 L1667.0,2981.8 L1667.8,2978.8 L1670.0,2977.2 L1672.4,2975.7 L1675.0,2976.4 L1677.6,2976.3 L1680.2,2975.7 L1682.4,2973.8 L1683.4,2971.1 L1684.6,2968.5 L1686.2,2966.2 L1685.2,2963.8 L1684.6,2961.3 L1682.4,2959.5 L1681.7,2957.0 L1680.0,2954.9 L1679.3,2952.4 L1678.3,2949.7 L1675.3,2948.1 L1675.0,2944.9 L1674.0,2942.2 L1671.6,2940.3 L1669.0,2941.3 L1666.4,2940.1 L1663.8,2940.0 L1661.2,2939.5 L1658.6,2940.1 L1656.0,2940.3 L1653.2,2940.8 L1650.4,2940.5 L1647.6,2939.3 L1644.8,2940.3 L1642.4,2941.8 L1642.0,2945.0 L1640.3,2947.1 L1638.6,2949.2 L1636.2,2950.7 L1636.8,2953.5 L1635.3,2955.9 L1637.9,2956.9 L1640.8,2957.4 L1643.1,2959.3 L1643.5,2962.0 L1645.1,2964.1 L1646.6,2966.2 L1648.2,2969.5 L1648.3,2973.1 L1646.2,2974.6 L1644.4,2976.5 L1642.1,2977.8 L1640.4,2979.8 L1637.9,2980.9 L1639.3,2983.5 L1639.9,2986.3 L1640.1,2989.2 L1640.5,2992.1 L1640.7,2995.2 L1641.7,2998.1 L1643.4,3000.9 L1643.1,3004.1 L1638.8,3005.0 L1637.2,3002.9 L1635.4,3000.9 L1633.3,2999.4 L1631.0,2998.1 L1628.6,2996.6 L1625.5,2997.4 L1623.2,2995.6 L1620.4,2995.6 L1618.1,2993.8 L1620.1,2991.5 L1620.5,2988.2 L1623.0,2986.2 L1624.1,2983.4 L1621.9,2982.1 L1620.6,2979.6 L1618.2,2978.5 L1615.9,2977.3 L1614.7,2974.8 L1616.2,2971.8 L1617.7,2968.9 L1619.8,2966.2 L1617.3,2963.3 L1613.8,2961.9 L1615.6,2958.6 L1618.1,2955.9 L1615.7,2954.2 L1613.3,2952.3 L1611.4,2949.9 L1607.9,2949.7 L1606.0,2947.2 L1605.2,2945.9 L1602.9,2947.5 L1600.9,2949.3 L1598.4,2950.7 L1596.6,2952.8 L1595.1,2955.5 L1596.0,2958.7 L1594.6,2961.5 L1594.5,2964.5 L1594.0,2967.4 L1591.4,2968.1 L1588.8,2969.1 L1586.8,2971.0 L1583.8,2970.6 L1581.2,2971.4 L1579.3,2973.4 L1577.6,2971.2 L1576.2,2968.8 L1576.1,2965.7 L1573.0,2964.2 L1572.4,2961.4 L1569.8,2963.6 L1566.4,2964.0 L1564.3,2966.3 L1560.9,2966.3 L1558.6,2968.3 L1556.2,2967.1 L1553.4,2967.1 L1550.9,2966.1 L1548.3,2965.7 L1545.6,2964.9 L1544.5,2962.3 L1542.2,2961.0 L1540.3,2959.3 L1538.1,2958.0 L1536.2,2956.2 L1537.8,2953.5 L1539.7,2951.0 L1537.3,2949.9 L1534.9,2948.7 L1533.4,2946.5 L1531.0,2945.3 L1529.3,2943.3 L1531.4,2941.4 L1532.8,2939.0 L1531.2,2936.4 L1529.0,2934.5 L1526.5,2932.8 L1524.1,2931.1 L1522.4,2928.6 L1520.7,2926.5 L1519.4,2924.1 L1518.1,2921.7 Z" fill="#5b9d6f" />
</g>
<rect clip-path="url(#cAnei)" x="1495" y="2855" width="250" height="190" filter="url(#hsD)"/><rect clip-path="url(#cAnei)" x="1495" y="2855" width="250" height="190" filter="url(#hsL)"/>
<rect clip-path="url(#cFut)" x="2150" y="1912" width="78" height="76" filter="url(#hsD)"/><rect clip-path="url(#cFut)" x="2150" y="1912" width="78" height="76" filter="url(#hsL)"/>
<g fill="none" stroke="#000" stroke-width="1.9" stroke-linejoin="round">
<path d="M505.3,589.4 L510.8,588.5 L513.9,588.1 L516.9,589.3 L520.0,589.3 L523.1,588.8 L526.2,589.2 L529.3,589.4 L532.5,589.8 L535.6,590.6 L538.8,591.3 L542.1,590.9 L545.3,591.3 L548.4,592.9 L551.6,592.9 L554.8,593.9 L558.0,594.0 L560.7,590.3 L563.9,589.2 L567.2,589.3 L570.5,589.3 L573.7,588.5 L576.6,586.6 L580.1,586.0 L582.9,583.9 L586.6,584.3 L590.3,582.8 L594.0,583.3 L597.4,584.3 L600.1,586.6 L603.2,588.1 L606.2,589.4 L609.4,589.3 L612.5,589.8 L615.6,590.7 L618.8,590.9 L621.7,592.2 L625.3,593.2 L628.6,594.9 L632.1,596.3 L635.5,597.7 L636.5,603.3 L640.2,599.6 L643.2,601.1 L646.0,603.0 L648.7,604.8 L651.3,607.0 L653.5,609.5 L655.9,612.0 L658.4,614.3 L659.7,617.6 L662.3,619.9 L663.9,623.2 L665.4,626.4 L667.6,629.4 L668.8,632.8 L668.4,636.3 L668.9,639.6 L669.7,643.0 L672.9,643.4 L676.0,644.6 L679.0,645.7 L680.6,649.1 L682.4,652.3 L683.9,655.7 L686.3,658.7 L687.0,661.6 L687.0,664.7 L687.7,667.6 L688.8,670.5 L689.1,673.5 L689.3,677.0 L689.1,680.6 L689.5,684.1 L690.2,687.6 L690.5,691.1 L689.0,694.1 L688.3,697.5 L686.7,700.5 L684.6,703.3 L683.7,706.6 L682.2,709.6 L685.3,711.7 L687.7,714.6 L690.5,717.0 L691.4,720.3 L692.6,723.5 L694.1,726.6 L695.1,729.9 L693.6,733.0 L692.0,736.0 L690.5,739.1 L693.5,741.7 L697.0,743.7 L700.7,743.3 L704.3,742.8 L705.1,746.2 L705.6,749.6 L706.2,753.0 L709.6,754.6 L712.7,756.7 L715.4,759.4 L718.3,761.6 L721.2,764.0 L724.7,765.4 L727.9,767.1 L731.2,768.5 L734.6,769.8 L737.6,771.8 L741.3,769.6 L744.4,769.9 L747.4,770.9 L750.5,770.5 L753.5,769.3 L756.1,767.5 L759.0,766.3 L761.4,764.0 L764.3,762.9 L767.1,761.3 L770.2,760.4 L772.7,758.5 L775.4,756.9 L778.1,755.3 L781.0,754.2 L784.0,753.2 L786.2,750.6 L789.3,749.8 L792.9,749.9 L796.4,749.7 L799.9,749.5 L803.4,749.0 L806.9,748.4 L810.6,752.0 L811.1,755.0 L812.4,757.8 L813.3,760.8 L814.4,763.6 L815.8,766.4 L815.6,769.6 L817.0,772.4 L818.4,775.4 L820.3,778.1 L821.4,781.2 L822.9,784.2 L824.4,787.1 L827.1,789.2 L829.7,791.4 L832.1,793.8 L834.6,796.1 L837.3,798.2 L839.0,801.4 L841.1,804.4 L842.9,807.5 L841.0,812.1 L837.3,812.6 L833.4,812.1 L829.9,810.8 L826.3,809.3 L822.7,810.2 L818.9,810.1 L815.1,810.2 L811.5,811.2 L808.2,811.6 L804.9,812.4 L801.7,813.2 L798.6,814.5 L795.3,814.7 L792.1,813.7 L788.9,813.8 L785.6,813.9 L782.0,815.1 L778.3,815.8 L774.6,816.4 L770.8,816.3 L767.8,818.1 L765.3,820.4 L762.0,820.3 L758.8,820.0 L755.6,818.9 L752.4,818.6 L749.7,820.6 L746.8,822.2 L745.5,825.0 L743.5,827.4 L741.3,829.6 L737.6,828.2 L733.9,826.9 L730.4,829.2 L726.5,830.6 L729.3,835.2 L730.7,837.9 L731.3,840.9 L732.8,843.5 L733.9,846.3 L736.0,849.4 L737.6,852.7 L740.0,855.6 L741.3,859.2 L743.3,861.7 L745.1,864.3 L747.2,866.7 L749.1,869.2 L750.5,872.1 L752.7,874.5 L755.6,876.0 L758.4,877.7 L760.6,880.1 L762.9,882.3 L766.1,883.3 L768.7,885.3 L770.8,887.8 L773.5,890.0 L775.2,893.1 L778.1,895.1 L780.1,898.0 L782.6,900.1 L785.2,902.0 L788.0,903.7 L790.9,905.2 L793.3,907.4 L796.5,909.0 L799.9,909.6 L803.3,910.2 L806.8,910.7 L810.0,912.0 L812.9,913.7 L816.1,914.9 L819.0,916.6 L822.1,917.8 L824.9,919.7 L828.3,920.4 L831.1,922.2 L834.0,924.0 L836.3,926.1 L839.0,927.6 L842.1,928.5 L844.3,930.8 L847.4,931.7 L849.5,934.0 L852.5,935.1 L855.0,937.0 L857.8,938.2 L860.6,939.6 L863.4,940.9 L865.4,943.5 L868.6,944.1 L870.9,946.2 L873.3,948.4 L875.8,950.4 L878.8,951.8 L881.7,953.2 L883.8,955.8 L886.4,957.8 L889.4,959.1 L890.5,962.4 L892.2,965.6 L893.8,968.7 L895.0,972.0 L897.4,974.5 L899.7,976.9 L901.4,980.0 L903.9,982.3 L906.0,985.0 L908.4,986.9 L910.5,989.1 L911.9,991.8 L914.4,993.7 L916.2,996.1 L916.9,999.8 L917.8,1003.4 L917.8,1007.2 L919.0,1010.8 L920.3,1014.3 L923.2,1017.0 L924.8,1020.3 L926.3,1023.8 L927.5,1027.1 L927.5,1030.6 L928.7,1033.9 L930.3,1037.0 L931.0,1040.4 L931.4,1043.6 L930.8,1046.7 L930.5,1049.9 L930.4,1053.1 L931.2,1056.3 L930.5,1059.4 L931.0,1062.6 L931.0,1066.3 L931.6,1070.0 L931.9,1073.7 L929.0,1075.6 L927.2,1078.8 L924.5,1081.0 L922.4,1083.8 L921.3,1087.2 L919.4,1090.1 L916.7,1092.5 L915.3,1095.8 L912.9,1098.0 L909.9,1099.2 L907.4,1101.3 L904.6,1102.9 L902.3,1105.1 L900.1,1108.0 L897.9,1110.7 L895.6,1113.5 L893.1,1116.1 L890.5,1118.0 L888.6,1120.4 L886.0,1122.3 L883.8,1124.6 L882.0,1127.2 L879.1,1128.3 L876.1,1128.2 L873.2,1129.4 L870.3,1130.1 L867.2,1130.0 L865.3,1132.5 L862.3,1133.8 L860.0,1135.9 L858.0,1138.3 L855.4,1140.0 L853.5,1142.6 L851.0,1144.4 L848.8,1146.6 L845.8,1145.6 L842.6,1145.6 L839.5,1144.8 L836.3,1144.0 L833.0,1143.8 L829.7,1143.3 L826.6,1142.0 L823.7,1141.2 L821.3,1139.2 L818.3,1138.5 L815.5,1137.4 L813.3,1134.9 L810.3,1133.4 L807.6,1131.5 L805.4,1128.9 L802.6,1127.2 L800.2,1125.2 L797.0,1124.6 L794.8,1122.2 L791.7,1121.3 L789.1,1119.7 L787.0,1117.2 L784.1,1116.1 L781.2,1114.6 L778.9,1112.4 L777.1,1109.6 L774.2,1108.2 L771.4,1106.5 L769.3,1104.1 L765.4,1103.2 L761.9,1101.4 L758.7,1101.8 L755.5,1101.1 L752.2,1102.0 L749.0,1101.4 L746.8,1098.9 L743.7,1097.5 L741.7,1094.8 L739.0,1092.8 L736.1,1091.2 L732.4,1091.0 L728.7,1090.6 L725.0,1089.9 L721.3,1089.4 L718.5,1088.0 L716.5,1085.5 L713.9,1083.8 L710.8,1084.1 L707.7,1083.9 L704.7,1082.9 L702.8,1080.3 L699.9,1079.0 L697.8,1076.6 L695.4,1074.6 L692.9,1072.2 L690.3,1069.9 L688.0,1067.2 L684.3,1067.5 L680.7,1066.0 L677.0,1066.3 L673.9,1064.6 L670.7,1063.6 L667.1,1063.7 L664.0,1062.2 L661.0,1063.3 L657.8,1063.5 L654.8,1064.4 L651.6,1065.3 L648.9,1067.4 L645.9,1068.7 L643.0,1070.3 L640.2,1072.0 L637.0,1071.1 L634.1,1069.5 L630.8,1068.6 L627.7,1067.4 L624.6,1066.4 L621.7,1064.6 L618.5,1064.0 L615.7,1062.1 L612.4,1061.9 L609.4,1060.7 L606.3,1059.8 L603.2,1059.1 L600.4,1057.0 L597.0,1056.1 L593.8,1054.7 L590.8,1053.1 L587.7,1051.6 L584.7,1049.8 L582.0,1047.9 L579.1,1046.3 L575.8,1045.6 L572.8,1044.1 L570.0,1042.4 L567.6,1039.9 L565.1,1037.5 L562.6,1035.1 L559.6,1034.0 L556.3,1033.6 L553.2,1032.9 L550.2,1031.7 L547.0,1031.0 L544.1,1029.5 L541.2,1028.3 L538.0,1027.9 L535.0,1026.8 L532.3,1024.9 L529.3,1024.0 L527.2,1020.9 L526.0,1017.3 L523.7,1014.3 L521.9,1011.0 L521.8,1007.8 L520.2,1005.0 L520.1,1001.8 L516.9,1001.3 L513.7,1000.5 L510.3,1001.0 L507.1,1000.0 L504.1,998.9 L500.9,999.5 L498.0,998.2 L494.9,997.5 L491.8,997.2 L488.7,997.2 L485.6,996.7 L482.4,996.2 L479.5,994.9 L476.5,993.6 L473.2,993.6 L470.2,992.6 L467.4,990.6 L463.8,989.9 L461.2,987.4 L457.6,987.0 L454.7,985.1 L451.7,983.3 L448.6,981.8 L445.4,981.0 L442.2,980.0 L438.8,979.6 L436.9,977.1 L434.6,975.0 L432.3,972.8 L429.6,971.1 L427.7,968.6 L426.2,965.4 L424.5,962.3 L423.9,958.7 L422.2,955.6 L422.4,951.9 L421.9,948.2 L422.2,944.5 L421.2,941.2 L422.1,937.8 L421.5,934.5 L420.7,931.2 L420.3,927.9 L421.0,924.8 L422.0,921.9 L422.2,918.7 L425.2,916.8 L428.3,914.8 L431.4,913.1 L433.1,910.5 L434.8,908.0 L436.9,905.7 L439.0,903.3 L442.0,902.2 L444.3,900.2 L446.6,896.4 L449.0,892.8 L451.8,890.4 L454.1,887.4 L457.3,885.4 L457.1,882.3 L456.8,879.3 L457.3,876.2 L455.2,873.9 L453.7,871.2 L452.7,868.2 L450.5,866.0 L449.0,863.3 L448.7,860.2 L448.8,857.1 L448.1,854.1 L447.6,851.0 L448.2,847.9 L448.0,844.8 L446.3,841.8 L444.9,838.8 L442.9,836.0 L441.6,832.8 L439.7,830.0 L438.8,826.8 L437.0,824.3 L434.4,822.4 L432.6,819.9 L430.5,817.6 L428.4,815.0 L426.1,812.6 L424.3,809.9 L422.4,807.1 L420.3,804.6 L419.5,800.7 L417.6,797.2 L417.9,794.2 L416.8,791.2 L417.1,788.2 L416.6,785.2 L420.3,784.3 L420.0,781.2 L420.3,778.1 L421.3,775.1 L422.1,772.0 L421.4,768.8 L422.2,765.8 L422.9,762.8 L423.3,759.7 L422.8,756.6 L423.7,753.6 L424.2,750.5 L424.0,747.4 L424.8,743.2 L425.9,739.0 L429.7,737.9 L433.3,736.3 L434.3,733.1 L434.8,729.8 L435.8,726.7 L436.0,723.3 L437.9,719.8 L438.8,716.0 L439.7,712.8 L439.3,709.5 L439.0,706.2 L439.7,703.0 L438.0,700.4 L436.6,697.6 L435.7,694.6 L434.2,691.9 L433.6,688.1 L431.7,684.7 L431.4,680.8 L432.3,675.3 L433.7,672.2 L434.9,669.0 L435.5,665.6 L436.9,662.4 L439.0,659.5 L440.6,656.2 L443.3,653.7 L444.5,650.2 L447.1,647.6 L448.7,644.5 L449.0,641.1 L451.8,638.9 L454.2,636.2 L456.3,633.3 L459.1,631.0 L461.9,629.2 L464.3,627.0 L466.0,624.0 L469.0,622.4 L471.1,619.9 L474.0,617.7 L476.4,615.0 L478.9,612.4 L481.3,609.7 L484.0,606.4 L486.8,603.3 L490.0,600.9 L492.4,597.7 L495.3,596.6 L497.5,594.2 L500.4,593.1 L502.7,591.0 Z"/>
<path d="M878.8,1631.2 L883.3,1630.4 L887.3,1628.3 L890.5,1629.1 L893.8,1628.1 L897.1,1628.3 L900.2,1629.6 L903.5,1629.6 L906.7,1629.7 L910.0,1629.7 L912.9,1630.5 L915.6,1632.0 L918.4,1633.1 L921.3,1634.0 L924.7,1634.7 L928.2,1634.6 L931.5,1635.6 L934.9,1636.1 L938.3,1636.8 L941.7,1637.0 L945.1,1637.3 L948.5,1637.1 L951.9,1636.5 L955.3,1636.3 L956.4,1639.2 L957.7,1642.1 L959.1,1645.0 L959.5,1648.2 L959.9,1651.6 L959.0,1655.0 L958.9,1658.4 L958.5,1661.7 L958.1,1665.1 L955.0,1666.0 L952.4,1667.9 L949.5,1669.3 L946.9,1671.1 L943.9,1672.2 L943.5,1675.6 L942.0,1678.7 L941.2,1682.0 L939.7,1685.0 L939.1,1688.2 L937.8,1691.3 L937.6,1694.6 L937.7,1698.0 L936.1,1701.0 L935.6,1704.3 L935.4,1707.6 L935.3,1710.9 L935.3,1714.3 L935.8,1717.6 L936.0,1720.9 L936.9,1724.2 L936.9,1727.5 L936.9,1730.9 L937.7,1734.2 L939.5,1737.3 L939.4,1740.8 L940.1,1744.1 L941.1,1747.3 L941.6,1750.5 L941.9,1753.8 L942.3,1757.0 L942.1,1760.3 L943.1,1763.5 L943.0,1766.8 L943.9,1770.0 L944.4,1773.1 L944.0,1776.3 L944.3,1779.5 L945.2,1782.6 L945.4,1785.7 L945.2,1788.9 L945.8,1792.0 L946.5,1795.2 L946.8,1798.3 L948.2,1801.0 L949.2,1803.9 L949.7,1806.9 L951.5,1809.4 L951.6,1812.6 L953.5,1815.1 L953.7,1818.3 L955.3,1820.9 L957.1,1823.6 L958.0,1826.9 L959.9,1829.6 L961.8,1832.3 L963.3,1835.1 L964.8,1838.1 L966.6,1840.8 L968.5,1843.3 L970.9,1845.5 L973.0,1847.8 L974.7,1850.5 L976.3,1853.3 L978.6,1855.5 L980.8,1857.8 L983.9,1858.7 L986.3,1861.0 L989.1,1862.3 L991.9,1864.0 L995.1,1864.5 L997.6,1866.6 L1000.6,1867.7 L1003.6,1866.0 L1007.0,1865.8 L1010.0,1864.2 L1013.3,1863.4 L1016.4,1864.1 L1019.2,1866.0 L1022.5,1866.1 L1025.3,1867.7 L1028.2,1869.2 L1031.5,1869.4 L1034.5,1870.5 L1037.4,1871.9 L1040.8,1872.2 L1044.2,1871.2 L1047.6,1871.4 L1050.9,1870.1 L1054.4,1870.5 L1056.3,1873.6 L1058.4,1876.7 L1059.5,1880.2 L1061.5,1883.3 L1064.8,1884.2 L1067.4,1886.7 L1071.0,1886.9 L1073.6,1889.3 L1077.1,1889.8 L1079.9,1891.8 L1082.5,1893.9 L1084.3,1896.8 L1087.3,1898.5 L1089.7,1900.9 L1091.5,1903.7 L1094.1,1905.9 L1095.5,1908.7 L1097.1,1911.3 L1097.1,1914.7 L1099.4,1917.0 L1100.8,1919.8 L1101.6,1922.8 L1102.6,1925.7 L1105.9,1926.3 L1109.2,1927.0 L1112.6,1926.6 L1115.8,1927.4 L1119.2,1927.5 L1122.4,1928.6 L1125.7,1928.5 L1129.0,1929.0 L1132.3,1928.9 L1135.6,1929.2 L1138.9,1929.0 L1142.2,1928.6 L1143.6,1931.4 L1145.5,1933.7 L1147.6,1936.0 L1149.3,1938.5 L1148.6,1941.8 L1147.0,1944.8 L1146.4,1948.1 L1145.1,1951.2 L1149.3,1950.6 L1153.5,1951.2 L1154.4,1947.4 L1155.9,1943.8 L1156.4,1939.9 L1160.6,1938.7 L1164.9,1938.5 L1165.1,1941.6 L1165.6,1944.7 L1165.7,1947.9 L1166.5,1950.9 L1166.3,1954.1 L1164.3,1956.6 L1163.8,1959.9 L1161.9,1962.5 L1160.7,1965.4 L1159.2,1968.2 L1156.7,1970.2 L1153.5,1971.0 L1150.9,1972.9 L1148.1,1974.4 L1145.3,1975.9 L1142.2,1976.7 L1140.4,1979.2 L1138.4,1981.4 L1135.7,1982.9 L1133.7,1985.2 L1132.3,1989.4 L1130.9,1993.7 L1127.7,1994.8 L1124.9,1996.6 L1122.0,1998.2 L1119.7,2000.8 L1116.7,2002.2 L1115.6,2005.1 L1114.6,2008.0 L1112.9,2010.6 L1111.7,2013.4 L1110.2,2016.2 L1109.1,2019.1 L1108.2,2022.0 L1108.5,2025.3 L1108.3,2028.6 L1108.2,2032.0 L1108.9,2035.3 L1108.9,2038.6 L1108.2,2041.9 L1108.9,2045.3 L1109.9,2048.6 L1109.6,2052.2 L1110.9,2055.4 L1111.1,2058.9 L1111.2,2062.2 L1110.7,2065.4 L1110.2,2068.6 L1109.8,2071.9 L1109.0,2075.0 L1108.7,2078.3 L1108.2,2081.5 L1106.5,2084.5 L1104.3,2087.1 L1102.9,2090.2 L1100.2,2092.5 L1098.2,2095.3 L1096.9,2098.5 L1095.5,2101.2 L1094.9,2104.2 L1093.7,2107.0 L1092.5,2109.8 L1092.2,2112.9 L1090.6,2115.6 L1089.4,2118.4 L1088.4,2121.2 L1087.4,2124.5 L1086.1,2127.6 L1083.8,2130.2 L1082.9,2133.5 L1081.3,2136.5 L1079.9,2139.6 L1076.7,2139.0 L1073.4,2139.4 L1070.2,2139.9 L1066.9,2138.9 L1063.7,2139.8 L1060.4,2140.3 L1057.2,2139.6 L1054.5,2138.2 L1051.3,2137.7 L1048.6,2136.3 L1046.1,2134.4 L1043.1,2133.5 L1040.2,2132.5 L1036.8,2132.4 L1033.7,2131.0 L1030.5,2130.2 L1027.3,2129.3 L1024.0,2128.9 L1020.9,2127.6 L1017.6,2126.9 L1014.5,2125.7 L1011.8,2123.8 L1009.0,2122.0 L1006.6,2119.6 L1003.4,2118.4 L999.9,2118.4 L996.7,2116.9 L993.1,2117.1 L989.8,2116.0 L986.4,2115.5 L983.5,2114.4 L980.7,2113.1 L978.1,2111.5 L975.0,2110.8 L972.0,2109.9 L969.2,2108.7 L966.6,2107.0 L963.5,2106.3 L961.1,2104.1 L958.2,2103.2 L955.5,2101.6 L952.6,2100.7 L949.4,2100.3 L946.8,2098.5 L944.6,2096.0 L942.3,2093.5 L939.9,2091.2 L937.3,2089.1 L934.8,2086.9 L932.6,2084.4 L930.7,2082.1 L929.2,2079.4 L926.7,2077.5 L925.1,2074.9 L923.2,2072.6 L921.3,2070.2 L919.9,2067.4 L917.9,2065.2 L916.1,2062.7 L914.1,2060.4 L911.7,2058.5 L910.0,2056.0 L908.5,2053.3 L907.7,2050.4 L906.3,2047.7 L905.3,2044.8 L904.3,2041.9 L901.6,2039.8 L899.0,2037.6 L895.9,2036.1 L893.2,2033.9 L889.8,2032.9 L887.3,2030.5 L884.4,2029.0 L882.0,2026.5 L878.5,2025.8 L875.9,2023.8 L873.1,2022.0 L869.5,2021.9 L865.9,2021.2 L862.6,2019.4 L859.0,2019.2 L855.4,2017.6 L851.4,2017.1 L847.6,2016.4 L846.4,2013.0 L845.9,2009.4 L845.1,2005.8 L844.8,2002.2 L843.9,1999.3 L842.8,1996.5 L841.3,1993.8 L840.3,1990.9 L839.1,1988.1 L837.5,1985.5 L836.9,1982.4 L836.3,1979.3 L835.0,1976.6 L833.5,1973.9 L831.0,1972.2 L829.3,1969.6 L827.3,1967.3 L825.0,1965.4 L823.3,1962.7 L822.6,1959.5 L820.7,1956.9 L819.3,1954.1 L816.6,1952.7 L813.6,1951.9 L811.0,1950.0 L808.1,1949.2 L805.1,1948.4 L802.4,1945.5 L799.1,1943.1 L796.7,1939.9 L795.6,1936.7 L793.9,1933.7 L793.6,1930.3 L793.0,1927.0 L791.0,1924.1 L790.3,1920.8 L789.2,1917.6 L788.2,1914.4 L786.9,1911.6 L786.0,1908.6 L785.1,1905.7 L783.6,1903.0 L782.1,1900.3 L781.5,1897.2 L779.7,1894.6 L778.4,1891.8 L777.9,1888.8 L776.7,1886.0 L775.8,1883.1 L774.8,1880.2 L773.0,1877.7 L772.4,1874.7 L771.2,1871.9 L769.2,1869.1 L767.6,1866.1 L766.1,1863.0 L763.8,1860.5 L761.1,1858.1 L759.8,1854.9 L758.7,1852.1 L758.1,1849.1 L757.3,1846.2 L755.9,1843.5 L755.1,1840.6 L753.1,1838.2 L752.7,1835.1 L754.0,1831.9 L754.4,1828.6 L755.0,1825.2 L756.1,1822.0 L756.8,1818.7 L757.0,1815.3 L758.1,1812.2 L760.6,1809.8 L762.2,1807.0 L763.1,1803.7 L765.4,1801.3 L766.8,1798.3 L768.3,1795.4 L769.6,1792.4 L771.9,1790.0 L772.7,1786.7 L775.0,1784.2 L776.4,1781.2 L777.8,1778.3 L779.7,1775.6 L781.0,1772.8 L782.1,1769.9 L783.0,1767.0 L785.2,1764.5 L785.2,1761.2 L786.3,1758.4 L788.2,1755.8 L789.2,1752.2 L790.8,1748.8 L791.6,1745.2 L792.4,1741.6 L793.6,1738.3 L794.1,1734.8 L795.2,1731.5 L795.6,1727.9 L796.7,1724.6 L796.1,1721.3 L796.2,1718.0 L795.3,1714.7 L795.1,1711.4 L795.8,1708.1 L795.2,1704.8 L794.3,1701.6 L794.6,1698.2 L794.2,1694.8 L793.2,1691.6 L793.1,1688.3 L792.4,1685.0 L793.4,1682.0 L794.0,1678.9 L793.6,1675.5 L794.2,1672.4 L795.2,1669.4 L798.3,1668.4 L801.4,1667.6 L804.5,1666.5 L807.5,1665.3 L810.8,1665.1 L813.3,1663.1 L816.1,1661.6 L818.0,1658.9 L820.5,1657.1 L822.8,1654.9 L825.3,1653.0 L827.8,1651.0 L830.8,1650.4 L833.4,1648.6 L836.4,1648.0 L839.1,1646.7 L842.0,1645.7 L845.0,1645.2 L847.5,1643.0 L850.5,1642.5 L853.8,1642.3 L856.9,1641.0 L860.2,1640.9 L863.5,1640.4 L866.7,1639.6 L869.8,1638.7 L873.1,1638.2 L875.4,1636.2 L876.5,1633.2 Z"/>
<path d="M1293.3,1564.7 L1290.6,1563.1 L1288.3,1561.0 L1287.2,1557.9 L1285.9,1554.8 L1286.0,1550.5 L1286.5,1546.2 L1287.8,1543.2 L1288.9,1540.0 L1289.5,1537.0 L1289.2,1533.8 L1290.2,1530.8 L1291.8,1526.8 L1294.5,1523.4 L1296.2,1519.5 L1296.9,1515.4 L1296.9,1511.7 L1297.6,1508.0 L1297.4,1504.3 L1298.7,1500.6 L1298.2,1496.9 L1300.2,1493.2 L1302.2,1489.6 L1303.5,1493.2 L1305.6,1496.3 L1306.0,1499.4 L1306.2,1502.5 L1306.8,1505.6 L1308.5,1509.5 L1309.3,1513.6 L1309.1,1517.9 L1309.3,1522.2 L1310.4,1518.0 L1310.5,1513.6 L1311.8,1510.5 L1313.3,1507.5 L1314.2,1504.3 L1315.3,1501.1 L1315.3,1497.6 L1316.7,1494.5 L1316.4,1490.1 L1315.4,1485.9 L1310.5,1482.8 L1306.8,1478.5 L1307.4,1472.9 L1310.5,1471.7 L1313.6,1475.4 L1316.0,1477.4 L1318.5,1479.1 L1320.3,1482.7 L1321.6,1486.5 L1322.3,1490.0 L1321.1,1493.4 L1321.6,1496.9 L1320.8,1500.0 L1319.6,1503.0 L1319.1,1506.2 L1317.7,1509.3 L1317.0,1512.6 L1315.8,1515.7 L1315.4,1519.1 L1314.9,1522.8 L1313.8,1526.4 L1313.7,1530.2 L1313.0,1533.9 L1312.4,1537.6 L1312.5,1541.3 L1313.0,1545.0 L1312.5,1548.9 L1311.4,1552.5 L1309.9,1556.1 L1308.0,1559.8 L1305.1,1561.1 L1301.9,1561.6 L1296.9,1564.1 Z"/>
<path d="M2158.5,1927.1 L2162.1,1926.1 L2165.9,1925.9 L2169.5,1925.0 L2173.3,1925.2 L2177.0,1928.9 L2179.5,1930.6 L2181.9,1932.6 L2185.5,1931.5 L2189.2,1930.8 L2193.0,1930.8 L2197.3,1931.3 L2201.6,1932.0 L2206.5,1929.6 L2208.3,1925.8 L2209.0,1921.6 L2213.9,1920.3 L2219.4,1919.7 L2220.7,1924.6 L2217.6,1929.6 L2215.1,1934.5 L2212.6,1936.7 L2210.8,1939.4 L2210.6,1942.6 L2211.5,1945.8 L2211.2,1949.1 L2211.4,1952.3 L2211.1,1955.9 L2210.7,1959.4 L2209.6,1962.8 L2213.8,1963.8 L2217.6,1965.9 L2212.7,1967.7 L2209.2,1969.9 L2205.3,1971.4 L2203.5,1974.0 L2202.4,1977.0 L2201.6,1980.0 L2197.9,1980.0 L2195.4,1976.4 L2192.3,1976.6 L2189.3,1977.6 L2186.3,1976.2 L2183.1,1975.7 L2178.2,1976.4 L2176.3,1973.5 L2175.1,1970.2 L2173.6,1966.0 L2172.6,1961.6 L2170.6,1958.4 L2168.3,1955.4 L2165.9,1950.5 L2161.6,1948.0 L2165.1,1946.4 L2168.3,1944.3 L2169.4,1941.3 L2170.1,1938.3 L2170.2,1935.1 L2167.6,1932.7 L2165.9,1929.6 L2162.2,1928.2 Z"/>
<path d="M1569.7,2865.9 L1572.9,2865.6 L1576.0,2865.4 L1579.2,2865.0 L1582.4,2864.8 L1585.5,2864.1 L1588.6,2863.3 L1591.9,2863.9 L1595.2,2862.6 L1598.4,2863.3 L1601.7,2863.9 L1605.0,2863.5 L1608.3,2863.9 L1611.6,2862.8 L1614.8,2863.3 L1618.1,2862.9 L1621.4,2863.3 L1624.2,2864.5 L1627.1,2865.7 L1630.0,2866.7 L1632.2,2864.2 L1635.2,2862.8 L1638.7,2862.8 L1642.1,2863.4 L1645.5,2864.1 L1647.9,2866.6 L1650.8,2868.6 L1654.1,2870.0 L1656.3,2872.8 L1659.3,2874.5 L1662.6,2875.8 L1665.3,2878.1 L1668.6,2879.2 L1671.4,2881.4 L1673.7,2884.1 L1674.8,2887.4 L1677.6,2889.2 L1681.0,2889.6 L1684.0,2890.9 L1686.9,2892.6 L1689.9,2893.3 L1693.0,2893.1 L1696.0,2892.3 L1699.0,2892.6 L1700.1,2896.7 L1702.4,2900.3 L1705.4,2901.2 L1708.4,2902.3 L1711.6,2902.5 L1714.5,2903.8 L1716.2,2906.8 L1718.6,2909.1 L1720.4,2911.9 L1723.1,2914.1 L1723.9,2917.3 L1726.0,2920.0 L1727.2,2923.1 L1728.3,2926.2 L1730.4,2929.5 L1732.1,2932.9 L1733.4,2936.6 L1735.1,2939.8 L1735.9,2943.4 L1736.6,2946.9 L1737.8,2950.3 L1737.0,2954.0 L1734.6,2957.1 L1733.4,2960.7 L1733.2,2964.2 L1732.8,2967.6 L1731.7,2971.0 L1731.7,2974.5 L1730.0,2977.4 L1728.5,2980.4 L1726.6,2983.1 L1725.6,2986.2 L1724.2,2989.2 L1724.1,2992.6 L1721.8,2995.3 L1721.4,2998.6 L1719.3,3002.5 L1716.2,3005.5 L1713.5,3007.7 L1711.0,3010.0 L1709.4,3013.2 L1706.2,3014.9 L1704.1,3017.6 L1703.1,3020.5 L1701.7,3023.3 L1700.7,3026.2 L1698.5,3028.5 L1695.9,3030.2 L1693.1,3031.7 L1690.3,3033.1 L1687.3,3032.5 L1684.3,3033.5 L1681.3,3032.7 L1678.3,3033.1 L1675.0,3033.8 L1672.0,3035.1 L1669.3,3037.2 L1666.2,3038.3 L1664.9,3035.5 L1664.0,3032.6 L1662.8,3029.7 L1659.5,3027.6 L1655.9,3026.2 L1653.6,3028.4 L1650.5,3029.4 L1647.9,3031.0 L1645.5,3033.1 L1641.8,3034.4 L1638.9,3037.1 L1635.2,3038.3 L1633.0,3035.3 L1630.0,3033.1 L1628.3,3030.4 L1627.5,3027.4 L1626.6,3024.5 L1622.3,3023.5 L1617.9,3022.8 L1615.8,3019.0 L1612.8,3015.9 L1609.4,3017.0 L1605.9,3017.6 L1603.0,3018.8 L1600.7,3021.0 L1596.4,3020.9 L1592.1,3021.0 L1590.1,3017.7 L1588.6,3014.1 L1584.3,3014.4 L1580.0,3014.1 L1576.8,3016.2 L1573.4,3018.1 L1569.7,3019.3 L1567.7,3021.9 L1564.9,3023.7 L1562.8,3026.2 L1560.3,3023.9 L1556.8,3023.1 L1554.1,3021.0 L1551.3,3018.5 L1550.0,3014.8 L1547.2,3012.4 L1544.9,3009.5 L1542.5,3006.7 L1540.3,3003.8 L1539.1,3000.9 L1538.7,2997.7 L1538.2,2994.6 L1536.9,2991.7 L1534.3,2989.2 L1531.7,2986.6 L1528.7,2984.4 L1526.6,2981.4 L1526.0,2978.3 L1523.7,2975.9 L1523.1,2972.8 L1522.4,2969.7 L1520.4,2967.2 L1519.7,2964.1 L1517.6,2961.6 L1515.5,2959.1 L1512.8,2957.2 L1511.6,2954.0 L1510.4,2950.8 L1508.2,2948.1 L1507.2,2944.8 L1505.9,2941.7 L1505.1,2938.3 L1505.8,2934.8 L1504.7,2931.4 L1504.6,2927.9 L1505.1,2924.4 L1504.1,2921.0 L1505.1,2917.9 L1505.8,2914.7 L1505.5,2911.4 L1506.1,2908.2 L1506.9,2905.0 L1507.1,2901.8 L1507.6,2898.6 L1509.7,2895.3 L1512.1,2892.2 L1514.5,2889.1 L1516.3,2886.4 L1518.7,2884.3 L1521.5,2882.5 L1523.1,2879.7 L1526.7,2879.3 L1530.0,2877.8 L1533.4,2876.6 L1536.8,2875.3 L1540.3,2874.5 L1542.2,2871.8 L1544.7,2869.7 L1547.2,2867.6 L1549.5,2870.7 L1552.0,2873.7 L1555.0,2876.2 L1557.0,2873.5 L1559.3,2871.0 L1562.9,2869.7 L1566.4,2867.9 Z"/>
</g>
<path d="M1542.1,3038.3 L1545.0,3035.5 L1550.0,3034.0 L1554.0,3033.2 L1556.0,3034.5 L1552.0,3036.0 L1547.0,3037.5 L1543.5,3040.0 Z" fill="#99b85e" stroke="#000" stroke-width="1.6" stroke-linejoin="round"/>
<path d="M870.5,698.5 L873.0,697.5 L874.5,699.0 L874.0,701.5 L871.5,702.5 L870.0,701.0 Z" fill="#5b9d6f" stroke="#000" stroke-width="1.6" stroke-linejoin="round"/>
<g stroke="#808080" stroke-opacity="0.5" stroke-width="2.08" stroke-dasharray="7.7 3.34" fill="none">
<line x1="436.90" y1="108.50" x2="436.90" y2="3401.90" stroke-dashoffset="5.82"/>
<line x1="724.90" y1="108.50" x2="724.90" y2="3401.90" stroke-dashoffset="5.82"/>
<line x1="1012.90" y1="108.50" x2="1012.90" y2="3401.90" stroke-dashoffset="5.82"/>
<line x1="1300.90" y1="108.50" x2="1300.90" y2="3401.90" stroke-dashoffset="5.82"/>
<line x1="1588.90" y1="108.50" x2="1588.90" y2="3401.90" stroke-dashoffset="5.82"/>
<line x1="1876.90" y1="108.50" x2="1876.90" y2="3401.90" stroke-dashoffset="5.82"/>
<line x1="2164.90" y1="108.50" x2="2164.90" y2="3401.90" stroke-dashoffset="5.82"/>
<line x1="185.30" y1="550.90" x2="2403.90" y2="550.90" stroke-dashoffset="10.24"/>
<line x1="185.30" y1="1002.87" x2="2403.90" y2="1002.87" stroke-dashoffset="10.24"/>
<line x1="185.30" y1="1454.84" x2="2403.90" y2="1454.84" stroke-dashoffset="10.24"/>
<line x1="185.30" y1="1906.81" x2="2403.90" y2="1906.81" stroke-dashoffset="10.24"/>
<line x1="185.30" y1="2358.78" x2="2403.90" y2="2358.78" stroke-dashoffset="10.24"/>
<line x1="185.30" y1="2810.75" x2="2403.90" y2="2810.75" stroke-dashoffset="10.24"/>
<line x1="185.30" y1="3262.72" x2="2403.90" y2="3262.72" stroke-dashoffset="10.24"/>
</g>
<g stroke="#000" stroke-width="1.8">
<circle cx="442.1" cy="806.1" r="10.4" fill="#007f28"/>
<circle cx="765.5" cy="1846.4" r="10.4" fill="#007f28"/>
<circle cx="758.4" cy="1832.3" r="10.4" fill="#78b000"/>
<circle cx="1563.3" cy="3012.8" r="10.4" fill="#78b000"/>
</g>
<rect x="256" y="1437" width="375" height="1347" fill="#fff" fill-opacity="0.62"/>
<defs><filter id="erode4" x="-5%" y="-5%" width="110%" height="110%"><feMorphology operator="erode" radius="4"/></filter></defs>
<rect x="1948" y="150.7" width="424" height="376.3" fill="#fff"/>
<path d="M2025.5,174.5 C2022.4,179.6 2012.6,194.2 2007.0,205.0 C2001.4,215.8 1995.7,228.5 1992.0,239.0 C1988.3,249.5 1986.8,257.8 1984.6,268.0 C1982.4,278.2 1980.0,289.7 1978.7,300.0 C1977.4,310.3 1976.3,319.5 1976.5,330.0 C1976.7,340.5 1977.4,352.5 1980.0,363.0 C1982.6,373.5 1987.0,383.0 1992.0,393.0 C1997.0,403.0 2003.3,413.5 2010.0,423.0 C2016.7,432.5 2023.7,441.5 2032.0,450.0 C2040.3,458.5 2049.0,467.0 2060.0,474.0 C2071.0,481.0 2086.3,487.2 2098.0,492.0 C2109.7,496.8 2119.8,499.8 2130.0,503.0 C2140.2,506.2 2150.3,509.1 2159.5,511.5 C2168.7,513.9 2180.8,516.5 2185.0,517.5" fill="none" stroke="#17904f" stroke-width="2.4" stroke-linecap="round"/>
<path d="M2023.7,177.4 C2023.1,177.2 2021.4,175.4 2020.5,174.1 C2019.6,172.8 2018.7,171.2 2018.1,169.6 C2017.5,168.0 2017.6,165.9 2017.0,164.7 C2016.4,163.5 2013.9,162.7 2014.3,162.4 C2014.8,162.1 2018.6,162.4 2019.8,162.9 C2021.1,163.4 2021.3,164.0 2022.0,165.4 C2022.7,166.8 2023.5,169.5 2023.8,171.1 C2024.2,172.8 2024.1,174.1 2024.1,175.2 C2024.1,176.2 2024.3,177.6 2023.7,177.4 Z" fill="#17904f"/>
<path d="M2020.3,182.8 C2020.7,183.3 2023.0,184.0 2024.6,184.3 C2026.1,184.6 2028.0,184.7 2029.7,184.5 C2031.3,184.4 2033.2,183.4 2034.6,183.4 C2035.9,183.5 2037.8,185.4 2037.8,184.8 C2037.9,184.2 2036.0,181.0 2035.0,180.1 C2034.0,179.1 2033.3,179.2 2031.8,179.2 C2030.3,179.2 2027.5,179.6 2025.9,180.0 C2024.2,180.4 2023.0,181.0 2022.1,181.5 C2021.1,181.9 2019.8,182.3 2020.3,182.8 Z" fill="#17904f"/>
<path d="M2017.2,187.6 C2016.6,187.4 2014.9,185.7 2014.0,184.4 C2013.0,183.1 2012.1,181.4 2011.6,179.9 C2011.0,178.3 2011.1,176.2 2010.5,175.0 C2009.8,173.8 2007.3,172.9 2007.8,172.6 C2008.3,172.3 2012.0,172.6 2013.3,173.1 C2014.6,173.6 2014.8,174.3 2015.5,175.6 C2016.1,177.0 2016.9,179.7 2017.3,181.4 C2017.6,183.0 2017.6,184.4 2017.6,185.4 C2017.6,186.5 2017.8,187.8 2017.2,187.6 Z" fill="#17904f"/>
<path d="M2014.0,192.9 C2014.4,193.3 2016.7,194.1 2018.3,194.3 C2019.8,194.6 2021.7,194.7 2023.4,194.6 C2025.0,194.4 2026.9,193.4 2028.3,193.4 C2029.6,193.5 2031.5,195.4 2031.5,194.8 C2031.6,194.3 2029.7,191.0 2028.7,190.1 C2027.7,189.2 2027.0,189.2 2025.5,189.2 C2024.0,189.2 2021.2,189.7 2019.6,190.1 C2017.9,190.4 2016.7,191.1 2015.8,191.5 C2014.8,192.0 2013.5,192.4 2014.0,192.9 Z" fill="#17904f"/>
<path d="M2011.8,196.4 C2011.2,196.3 2009.5,194.5 2008.5,193.2 C2007.6,192.0 2006.6,190.3 2006.0,188.8 C2005.4,187.2 2005.4,185.1 2004.8,183.9 C2004.1,182.7 2001.6,182.0 2002.1,181.6 C2002.5,181.3 2006.3,181.6 2007.6,182.0 C2008.9,182.5 2009.1,183.1 2009.8,184.5 C2010.5,185.8 2011.4,188.5 2011.8,190.2 C2012.2,191.8 2012.2,193.2 2012.2,194.2 C2012.2,195.3 2012.4,196.6 2011.8,196.4 Z" fill="#17904f"/>
<path d="M2008.8,201.7 C2009.2,202.1 2011.6,202.8 2013.1,203.1 C2014.7,203.3 2016.6,203.4 2018.3,203.2 C2019.9,203.0 2021.8,201.9 2023.1,201.9 C2024.5,201.9 2026.4,203.8 2026.4,203.2 C2026.5,202.7 2024.5,199.5 2023.5,198.6 C2022.4,197.7 2021.8,197.7 2020.3,197.8 C2018.7,197.8 2015.9,198.3 2014.3,198.7 C2012.7,199.2 2011.5,199.8 2010.6,200.3 C2009.6,200.8 2008.4,201.2 2008.8,201.7 Z" fill="#17904f"/>
<path d="M2006.2,206.6 C2005.5,206.5 2003.7,204.9 2002.7,203.7 C2001.6,202.5 2000.6,200.9 1999.9,199.4 C1999.2,197.9 1999.1,195.8 1998.4,194.6 C1997.6,193.5 1995.1,192.8 1995.5,192.5 C1996.0,192.1 1999.7,192.1 2001.0,192.5 C2002.4,192.9 2002.6,193.5 2003.4,194.8 C2004.2,196.1 2005.2,198.8 2005.7,200.4 C2006.2,202.0 2006.3,203.4 2006.4,204.4 C2006.5,205.4 2006.8,206.7 2006.2,206.6 Z" fill="#17904f"/>
<path d="M2003.7,211.7 C2004.1,212.1 2006.5,212.6 2008.1,212.8 C2009.7,212.9 2011.6,212.8 2013.2,212.6 C2014.8,212.3 2016.6,211.1 2018.0,211.0 C2019.3,210.9 2021.3,212.7 2021.4,212.1 C2021.4,211.6 2019.2,208.5 2018.1,207.6 C2017.0,206.8 2016.4,206.9 2014.9,207.1 C2013.3,207.2 2010.6,207.9 2009.0,208.4 C2007.4,208.9 2006.2,209.6 2005.3,210.2 C2004.4,210.7 2003.2,211.2 2003.7,211.7 Z" fill="#17904f"/>
<path d="M2001.2,216.8 C2000.6,216.7 1998.7,215.2 1997.6,214.0 C1996.5,212.8 1995.4,211.3 1994.6,209.8 C1993.9,208.4 1993.7,206.2 1993.0,205.1 C1992.2,204.0 1989.6,203.5 1990.0,203.1 C1990.4,202.7 1994.2,202.6 1995.5,202.9 C1996.9,203.3 1997.2,203.9 1998.0,205.2 C1998.8,206.4 2000.0,209.0 2000.5,210.6 C2001.1,212.2 2001.2,213.6 2001.3,214.6 C2001.4,215.6 2001.8,216.9 2001.2,216.8 Z" fill="#17904f"/>
<path d="M1998.8,222.1 C1999.3,222.5 2001.7,222.9 2003.3,223.0 C2004.9,223.1 2006.7,223.0 2008.4,222.6 C2010.0,222.3 2011.7,221.0 2013.1,220.9 C2014.4,220.8 2016.5,222.4 2016.5,221.9 C2016.5,221.3 2014.2,218.3 2013.1,217.5 C2012.0,216.7 2011.3,216.9 2009.8,217.1 C2008.3,217.3 2005.6,218.0 2004.0,218.6 C2002.5,219.2 2001.3,220.0 2000.4,220.6 C1999.6,221.1 1998.3,221.7 1998.8,222.1 Z" fill="#17904f"/>
<path d="M1996.5,227.3 C1995.9,227.3 1994.0,225.8 1992.9,224.6 C1991.7,223.5 1990.6,222.0 1989.7,220.6 C1988.9,219.1 1988.7,217.0 1987.9,215.9 C1987.1,214.8 1984.4,214.4 1984.9,214.0 C1985.3,213.6 1989.0,213.4 1990.4,213.7 C1991.7,213.9 1992.0,214.5 1992.9,215.8 C1993.8,217.0 1995.0,219.6 1995.6,221.1 C1996.3,222.7 1996.5,224.1 1996.6,225.1 C1996.8,226.1 1997.2,227.4 1996.5,227.3 Z" fill="#17904f"/>
<path d="M1994.5,232.5 C1994.9,232.9 1997.4,233.2 1999.0,233.2 C2000.6,233.3 2002.4,233.1 2004.0,232.6 C2005.7,232.2 2007.3,230.9 2008.7,230.8 C2010.0,230.6 2012.2,232.2 2012.1,231.6 C2012.1,231.0 2009.7,228.1 2008.6,227.4 C2007.4,226.6 2006.8,226.8 2005.3,227.0 C2003.8,227.3 2001.1,228.2 1999.5,228.8 C1998.0,229.4 1996.9,230.3 1996.0,230.9 C1995.2,231.5 1994.0,232.1 1994.5,232.5 Z" fill="#17904f"/>
<path d="M1992.6,237.4 C1991.9,237.4 1990.0,236.0 1988.8,234.9 C1987.6,233.8 1986.4,232.4 1985.5,231.0 C1984.6,229.6 1984.3,227.5 1983.4,226.4 C1982.5,225.4 1979.9,225.0 1980.3,224.6 C1980.7,224.2 1984.4,223.8 1985.8,224.0 C1987.1,224.3 1987.5,224.8 1988.4,226.0 C1989.4,227.2 1990.7,229.7 1991.4,231.3 C1992.1,232.8 1992.3,234.1 1992.5,235.2 C1992.7,236.2 1993.2,237.5 1992.6,237.4 Z" fill="#17904f"/>
<path d="M1990.9,242.1 C1991.5,242.5 1993.9,242.7 1995.5,242.7 C1997.1,242.6 1998.9,242.3 2000.5,241.8 C2002.1,241.4 2003.7,240.0 2005.1,239.7 C2006.4,239.5 2008.6,241.0 2008.6,240.4 C2008.5,239.9 2006.0,237.1 2004.8,236.4 C2003.6,235.7 2003.0,235.9 2001.5,236.2 C2000.0,236.5 1997.4,237.5 1995.9,238.2 C1994.3,238.9 1993.3,239.8 1992.4,240.4 C1991.6,241.1 1990.4,241.7 1990.9,242.1 Z" fill="#17904f"/>
<path d="M1989.2,248.0 C1988.5,248.0 1986.4,246.7 1985.2,245.8 C1983.9,244.8 1982.6,243.5 1981.6,242.1 C1980.6,240.8 1980.1,238.7 1979.1,237.7 C1978.2,236.8 1975.5,236.7 1975.9,236.2 C1976.3,235.8 1980.0,235.1 1981.3,235.2 C1982.7,235.3 1983.1,235.8 1984.1,237.0 C1985.1,238.1 1986.7,240.5 1987.5,241.9 C1988.3,243.4 1988.7,244.7 1989.0,245.7 C1989.2,246.8 1989.8,248.0 1989.2,248.0 Z" fill="#17904f"/>
<path d="M1987.7,253.6 C1988.3,254.0 1990.7,254.0 1992.3,253.8 C1993.9,253.7 1995.7,253.2 1997.3,252.6 C1998.8,252.0 2000.3,250.5 2001.6,250.1 C2002.9,249.8 2005.3,251.1 2005.2,250.5 C2005.1,250.0 2002.3,247.4 2001.1,246.8 C1999.9,246.2 1999.2,246.5 1997.8,246.9 C1996.3,247.3 1993.8,248.5 1992.3,249.4 C1990.9,250.2 1989.8,251.1 1989.1,251.8 C1988.3,252.6 1987.2,253.3 1987.7,253.6 Z" fill="#17904f"/>
<path d="M1986.5,259.2 C1985.8,259.3 1983.7,258.2 1982.3,257.3 C1981.0,256.4 1979.6,255.1 1978.5,253.9 C1977.4,252.6 1976.8,250.6 1975.8,249.6 C1974.8,248.7 1972.2,248.8 1972.5,248.3 C1972.9,247.9 1976.5,246.9 1977.9,246.9 C1979.2,247.0 1979.7,247.5 1980.8,248.6 C1981.9,249.6 1983.5,251.9 1984.4,253.3 C1985.3,254.7 1985.8,256.0 1986.1,257.0 C1986.5,258.0 1987.1,259.2 1986.5,259.2 Z" fill="#17904f"/>
<path d="M1985.6,263.5 C1986.1,263.8 1988.5,263.7 1990.1,263.5 C1991.7,263.2 1993.5,262.6 1995.0,261.9 C1996.5,261.2 1997.9,259.6 1999.2,259.2 C2000.5,258.8 2002.9,259.9 2002.8,259.4 C2002.6,258.8 1999.7,256.5 1998.5,255.9 C1997.2,255.4 1996.6,255.7 1995.2,256.2 C1993.7,256.7 1991.3,258.1 1989.9,259.0 C1988.5,259.9 1987.5,260.9 1986.8,261.7 C1986.1,262.4 1985.0,263.2 1985.6,263.5 Z" fill="#17904f"/>
<path d="M1984.3,269.5 C1983.6,269.6 1981.5,268.5 1980.1,267.6 C1978.8,266.7 1977.4,265.4 1976.3,264.2 C1975.2,262.9 1974.6,260.9 1973.6,259.9 C1972.6,259.0 1970.0,259.1 1970.3,258.6 C1970.7,258.2 1974.3,257.2 1975.7,257.2 C1977.0,257.3 1977.5,257.8 1978.6,258.9 C1979.6,259.9 1981.3,262.2 1982.2,263.6 C1983.1,265.0 1983.6,266.3 1983.9,267.3 C1984.3,268.3 1984.9,269.5 1984.3,269.5 Z" fill="#17904f"/>
<path d="M1982.9,275.8 C1983.5,276.1 1985.9,276.0 1987.5,275.8 C1989.1,275.5 1990.9,274.9 1992.4,274.2 C1993.9,273.5 1995.3,271.9 1996.6,271.5 C1997.9,271.1 2000.3,272.2 2000.1,271.7 C2000.0,271.1 1997.1,268.8 1995.9,268.2 C1994.6,267.7 1994.0,268.0 1992.6,268.5 C1991.1,269.0 1988.6,270.4 1987.2,271.3 C1985.9,272.2 1984.9,273.2 1984.2,274.0 C1983.5,274.7 1982.4,275.5 1982.9,275.8 Z" fill="#17904f"/>
<path d="M1982.0,280.7 C1981.3,280.7 1979.1,279.7 1977.8,278.8 C1976.5,277.9 1975.0,276.7 1973.9,275.4 C1972.8,274.2 1972.2,272.2 1971.2,271.3 C1970.1,270.4 1967.5,270.5 1967.8,270.0 C1968.1,269.6 1971.8,268.5 1973.1,268.5 C1974.5,268.6 1974.9,269.1 1976.1,270.1 C1977.2,271.2 1978.9,273.4 1979.8,274.8 C1980.7,276.2 1981.2,277.5 1981.6,278.5 C1981.9,279.5 1982.6,280.6 1982.0,280.7 Z" fill="#17904f"/>
<path d="M1981.0,285.6 C1981.6,285.9 1984.0,285.7 1985.6,285.4 C1987.2,285.1 1988.9,284.5 1990.4,283.8 C1991.9,283.1 1993.3,281.5 1994.6,281.0 C1995.9,280.6 1998.3,281.7 1998.2,281.1 C1998.0,280.6 1995.1,278.2 1993.8,277.7 C1992.5,277.2 1991.9,277.5 1990.5,278.1 C1989.1,278.6 1986.6,280.0 1985.3,281.0 C1983.9,281.9 1982.9,282.9 1982.2,283.7 C1981.5,284.5 1980.5,285.3 1981.0,285.6 Z" fill="#17904f"/>
<path d="M1979.9,292.1 C1979.3,292.1 1977.0,291.1 1975.7,290.3 C1974.3,289.5 1972.8,288.3 1971.7,287.1 C1970.6,285.9 1969.8,283.9 1968.8,283.0 C1967.8,282.1 1965.1,282.3 1965.4,281.8 C1965.7,281.4 1969.3,280.2 1970.7,280.2 C1972.1,280.2 1972.5,280.7 1973.7,281.7 C1974.8,282.7 1976.6,284.9 1977.6,286.3 C1978.5,287.6 1979.0,288.9 1979.4,289.9 C1979.8,290.9 1980.5,292.0 1979.9,292.1 Z" fill="#17904f"/>
<path d="M1979.1,296.9 C1979.7,297.1 1982.1,296.9 1983.7,296.6 C1985.2,296.2 1987.0,295.6 1988.5,294.8 C1990.0,294.0 1991.3,292.4 1992.6,291.9 C1993.8,291.4 1996.3,292.5 1996.1,291.9 C1996.0,291.4 1993.0,289.1 1991.7,288.6 C1990.4,288.2 1989.8,288.5 1988.4,289.1 C1987.0,289.7 1984.6,291.1 1983.2,292.1 C1981.9,293.1 1981.0,294.2 1980.3,294.9 C1979.6,295.7 1978.6,296.6 1979.1,296.9 Z" fill="#17904f"/>
<path d="M1978.3,303.1 C1977.7,303.2 1975.4,302.2 1974.0,301.5 C1972.6,300.7 1971.1,299.6 1969.9,298.4 C1968.7,297.2 1968.0,295.3 1966.9,294.4 C1965.8,293.6 1963.2,293.9 1963.5,293.4 C1963.8,292.9 1967.3,291.6 1968.7,291.6 C1970.0,291.5 1970.5,292.0 1971.7,292.9 C1972.9,293.9 1974.7,296.0 1975.8,297.3 C1976.8,298.7 1977.3,299.9 1977.8,300.9 C1978.2,301.9 1978.9,303.0 1978.3,303.1 Z" fill="#17904f"/>
<path d="M1977.8,307.6 C1978.3,307.8 1980.8,307.5 1982.3,307.1 C1983.8,306.7 1985.6,306.0 1987.0,305.2 C1988.5,304.3 1989.7,302.6 1991.0,302.1 C1992.2,301.6 1994.7,302.5 1994.5,302.0 C1994.4,301.4 1991.3,299.3 1990.0,298.9 C1988.7,298.4 1988.1,298.8 1986.7,299.4 C1985.3,300.1 1983.0,301.6 1981.7,302.7 C1980.4,303.7 1979.5,304.8 1978.8,305.6 C1978.2,306.4 1977.2,307.3 1977.8,307.6 Z" fill="#17904f"/>
<path d="M1977.1,313.5 C1976.5,313.6 1974.2,312.7 1972.8,312.0 C1971.4,311.3 1969.8,310.2 1968.6,309.1 C1967.4,307.9 1966.5,306.0 1965.4,305.2 C1964.3,304.4 1961.7,304.8 1962.0,304.3 C1962.3,303.8 1965.8,302.4 1967.1,302.3 C1968.5,302.2 1969.0,302.6 1970.2,303.6 C1971.4,304.5 1973.4,306.5 1974.4,307.8 C1975.5,309.1 1976.1,310.4 1976.5,311.3 C1977.0,312.3 1977.8,313.4 1977.1,313.5 Z" fill="#17904f"/>
<path d="M1976.7,319.4 C1977.3,319.6 1979.7,319.2 1981.2,318.7 C1982.8,318.3 1984.5,317.5 1985.9,316.6 C1987.3,315.8 1988.5,314.0 1989.7,313.4 C1991.0,312.9 1993.5,313.7 1993.3,313.2 C1993.1,312.7 1989.9,310.6 1988.6,310.3 C1987.3,309.9 1986.7,310.2 1985.4,310.9 C1984.0,311.6 1981.7,313.3 1980.4,314.3 C1979.2,315.4 1978.3,316.5 1977.7,317.4 C1977.1,318.2 1976.1,319.1 1976.7,319.4 Z" fill="#17904f"/>
<path d="M1976.5,325.4 C1975.9,325.5 1973.5,324.9 1972.1,324.2 C1970.6,323.6 1969.0,322.6 1967.7,321.6 C1966.4,320.6 1965.4,318.7 1964.2,318.0 C1963.0,317.3 1960.5,317.8 1960.7,317.3 C1960.9,316.8 1964.3,315.2 1965.7,315.0 C1967.0,314.7 1967.5,315.2 1968.8,316.0 C1970.1,316.8 1972.2,318.7 1973.3,319.9 C1974.5,321.2 1975.2,322.4 1975.7,323.3 C1976.2,324.2 1977.1,325.2 1976.5,325.4 Z" fill="#17904f"/>
<path d="M1976.5,330.0 C1977.1,330.2 1979.5,329.6 1981.0,329.0 C1982.5,328.5 1984.1,327.6 1985.5,326.6 C1986.8,325.6 1987.9,323.8 1989.1,323.1 C1990.3,322.5 1992.8,323.1 1992.6,322.6 C1992.4,322.1 1989.1,320.3 1987.7,320.0 C1986.4,319.8 1985.8,320.2 1984.5,320.9 C1983.2,321.7 1981.1,323.5 1979.9,324.7 C1978.7,325.9 1977.9,327.1 1977.4,327.9 C1976.8,328.8 1975.9,329.8 1976.5,330.0 Z" fill="#17904f"/>
<path d="M1976.7,336.5 C1976.1,336.7 1973.7,336.1 1972.2,335.6 C1970.7,335.1 1969.0,334.2 1967.7,333.2 C1966.3,332.3 1965.2,330.5 1964.0,329.8 C1962.8,329.2 1960.2,329.9 1960.5,329.4 C1960.7,328.9 1964.0,327.0 1965.3,326.7 C1966.6,326.4 1967.2,326.8 1968.5,327.6 C1969.8,328.3 1972.0,330.1 1973.2,331.2 C1974.5,332.4 1975.2,333.5 1975.8,334.4 C1976.4,335.3 1977.3,336.3 1976.7,336.5 Z" fill="#17904f"/>
<path d="M1977.0,341.4 C1977.6,341.6 1979.9,340.9 1981.4,340.2 C1982.8,339.6 1984.4,338.6 1985.7,337.5 C1987.0,336.5 1988.0,334.6 1989.1,333.8 C1990.3,333.1 1992.9,333.6 1992.6,333.1 C1992.3,332.6 1988.9,331.0 1987.6,330.8 C1986.2,330.6 1985.7,331.1 1984.4,331.9 C1983.2,332.8 1981.1,334.7 1980.0,336.0 C1978.9,337.2 1978.2,338.4 1977.7,339.3 C1977.2,340.2 1976.4,341.3 1977.0,341.4 Z" fill="#17904f"/>
<path d="M1977.5,348.2 C1976.9,348.4 1974.5,348.0 1973.0,347.6 C1971.5,347.1 1969.7,346.4 1968.3,345.5 C1966.9,344.6 1965.7,342.9 1964.5,342.3 C1963.2,341.8 1960.7,342.6 1960.9,342.1 C1961.1,341.6 1964.3,339.5 1965.6,339.1 C1966.9,338.7 1967.4,339.1 1968.8,339.8 C1970.2,340.5 1972.5,342.1 1973.8,343.2 C1975.0,344.2 1975.9,345.4 1976.5,346.2 C1977.1,347.0 1978.1,348.0 1977.5,348.2 Z" fill="#17904f"/>
<path d="M1978.1,353.2 C1978.8,353.3 1981.0,352.5 1982.5,351.8 C1983.9,351.0 1985.4,349.9 1986.6,348.8 C1987.9,347.7 1988.7,345.7 1989.8,344.9 C1990.9,344.1 1993.5,344.5 1993.3,344.0 C1993.0,343.5 1989.5,342.1 1988.1,342.0 C1986.7,341.9 1986.3,342.4 1985.0,343.3 C1983.8,344.2 1981.9,346.3 1980.9,347.6 C1979.8,348.9 1979.2,350.1 1978.8,351.1 C1978.3,352.0 1977.5,353.1 1978.1,353.2 Z" fill="#17904f"/>
<path d="M1979.0,358.2 C1978.4,358.5 1976.0,358.3 1974.4,357.9 C1972.8,357.6 1971.1,357.0 1969.6,356.2 C1968.1,355.5 1966.7,353.8 1965.5,353.4 C1964.2,352.9 1961.8,354.0 1961.9,353.4 C1962.0,352.9 1965.0,350.6 1966.3,350.1 C1967.6,349.6 1968.2,349.9 1969.6,350.5 C1971.0,351.1 1973.4,352.5 1974.8,353.5 C1976.2,354.5 1977.1,355.5 1977.8,356.3 C1978.5,357.1 1979.5,357.9 1979.0,358.2 Z" fill="#17904f"/>
<path d="M1980.4,364.6 C1981.0,364.6 1983.2,363.6 1984.6,362.8 C1985.9,361.9 1987.4,360.7 1988.5,359.5 C1989.7,358.2 1990.3,356.2 1991.4,355.4 C1992.4,354.5 1995.1,354.6 1994.7,354.2 C1994.4,353.7 1990.8,352.6 1989.4,352.6 C1988.1,352.6 1987.6,353.1 1986.5,354.1 C1985.4,355.1 1983.6,357.3 1982.7,358.7 C1981.7,360.1 1981.2,361.4 1980.8,362.4 C1980.5,363.3 1979.8,364.5 1980.4,364.6 Z" fill="#17904f"/>
<path d="M1981.8,369.2 C1981.2,369.5 1978.8,369.6 1977.2,369.5 C1975.6,369.4 1973.8,369.0 1972.2,368.4 C1970.6,367.9 1969.1,366.4 1967.8,366.1 C1966.4,365.8 1964.2,367.2 1964.2,366.6 C1964.3,366.0 1967.0,363.4 1968.2,362.8 C1969.4,362.1 1970.0,362.4 1971.5,362.7 C1973.0,363.1 1975.6,364.3 1977.1,365.1 C1978.5,365.8 1979.6,366.8 1980.4,367.4 C1981.1,368.1 1982.3,368.8 1981.8,369.2 Z" fill="#17904f"/>
<path d="M1983.9,375.2 C1984.5,375.2 1986.6,373.9 1987.8,372.9 C1989.1,371.9 1990.4,370.5 1991.3,369.2 C1992.3,367.8 1992.7,365.7 1993.6,364.7 C1994.6,363.7 1997.2,363.5 1996.8,363.1 C1996.4,362.7 1992.7,362.0 1991.4,362.2 C1990.0,362.4 1989.6,362.9 1988.6,364.1 C1987.6,365.2 1986.2,367.7 1985.4,369.1 C1984.6,370.6 1984.3,372.0 1984.1,373.0 C1983.8,374.0 1983.3,375.2 1983.9,375.2 Z" fill="#17904f"/>
<path d="M1985.7,379.7 C1985.2,380.1 1982.8,380.4 1981.2,380.4 C1979.6,380.5 1977.8,380.3 1976.1,379.8 C1974.5,379.4 1972.8,378.1 1971.5,377.9 C1970.1,377.8 1968.0,379.3 1968.0,378.8 C1968.1,378.2 1970.5,375.3 1971.6,374.6 C1972.8,373.8 1973.4,374.0 1974.9,374.2 C1976.4,374.5 1979.1,375.4 1980.6,376.0 C1982.2,376.6 1983.3,377.5 1984.2,378.1 C1985.0,378.7 1986.2,379.3 1985.7,379.7 Z" fill="#17904f"/>
<path d="M1988.4,385.6 C1989.0,385.5 1990.9,384.0 1992.1,382.9 C1993.2,381.8 1994.4,380.3 1995.2,378.8 C1996.0,377.4 1996.2,375.3 1997.1,374.2 C1997.9,373.1 2000.5,372.7 2000.1,372.3 C1999.7,371.9 1995.9,371.6 1994.6,371.9 C1993.2,372.2 1992.9,372.8 1992.0,374.0 C1991.1,375.3 1989.9,377.8 1989.3,379.4 C1988.7,380.9 1988.5,382.3 1988.3,383.3 C1988.2,384.4 1987.8,385.6 1988.4,385.6 Z" fill="#17904f"/>
<path d="M1990.5,390.0 C1990.1,390.4 1987.7,390.9 1986.1,391.0 C1984.5,391.1 1982.6,391.0 1981.0,390.7 C1979.3,390.4 1977.6,389.2 1976.2,389.1 C1974.9,389.0 1972.8,390.7 1972.8,390.1 C1972.8,389.5 1975.1,386.5 1976.2,385.7 C1977.3,384.9 1977.9,385.0 1979.4,385.2 C1980.9,385.3 1983.7,386.1 1985.2,386.6 C1986.8,387.2 1988.0,387.9 1988.9,388.5 C1989.7,389.1 1991.0,389.6 1990.5,390.0 Z" fill="#17904f"/>
<path d="M1992.8,394.5 C1993.4,394.4 1995.2,392.8 1996.3,391.6 C1997.4,390.4 1998.4,388.9 1999.2,387.4 C1999.9,385.9 2000.0,383.8 2000.8,382.7 C2001.6,381.5 2004.1,380.9 2003.7,380.6 C2003.3,380.2 1999.5,380.2 1998.2,380.5 C1996.9,380.9 1996.6,381.5 1995.8,382.8 C1995.0,384.1 1993.9,386.7 1993.3,388.3 C1992.8,389.8 1992.7,391.2 1992.6,392.3 C1992.5,393.3 1992.1,394.6 1992.8,394.5 Z" fill="#17904f"/>
<path d="M1996.0,400.6 C1995.5,401.0 1993.2,401.6 1991.6,401.8 C1990.0,402.0 1988.1,402.0 1986.5,401.7 C1984.8,401.5 1983.0,400.3 1981.7,400.3 C1980.3,400.2 1978.3,402.0 1978.3,401.5 C1978.3,400.9 1980.4,397.8 1981.4,396.9 C1982.5,396.0 1983.2,396.2 1984.7,396.2 C1986.2,396.3 1989.0,397.0 1990.6,397.4 C1992.2,397.9 1993.4,398.6 1994.3,399.1 C1995.2,399.7 1996.4,400.1 1996.0,400.6 Z" fill="#17904f"/>
<path d="M1998.6,405.1 C1999.2,405.0 2001.0,403.3 2002.0,402.1 C2003.0,400.9 2004.0,399.3 2004.7,397.7 C2005.4,396.2 2005.4,394.1 2006.1,392.9 C2006.8,391.8 2009.3,391.1 2008.9,390.7 C2008.4,390.4 2004.7,390.5 2003.4,390.9 C2002.0,391.3 2001.8,392.0 2001.0,393.3 C2000.3,394.6 1999.3,397.3 1998.9,398.9 C1998.4,400.5 1998.3,401.9 1998.3,402.9 C1998.2,404.0 1998.0,405.3 1998.6,405.1 Z" fill="#17904f"/>
<path d="M2001.3,409.7 C2000.9,410.2 1998.5,410.9 1997.0,411.1 C1995.4,411.4 1993.5,411.4 1991.8,411.3 C1990.2,411.1 1988.3,410.0 1987.0,410.1 C1985.6,410.1 1983.7,411.9 1983.7,411.4 C1983.6,410.8 1985.6,407.6 1986.6,406.7 C1987.6,405.8 1988.3,405.9 1989.8,405.9 C1991.3,405.9 1994.1,406.4 1995.7,406.8 C1997.4,407.2 1998.6,407.9 1999.5,408.3 C2000.4,408.8 2001.7,409.2 2001.3,409.7 Z" fill="#17904f"/>
<path d="M2004.1,414.2 C2004.7,414.1 2006.4,412.3 2007.4,411.0 C2008.3,409.7 2009.3,408.1 2009.9,406.6 C2010.5,405.0 2010.4,402.9 2011.1,401.7 C2011.7,400.5 2014.2,399.7 2013.8,399.4 C2013.3,399.1 2009.5,399.3 2008.3,399.8 C2007.0,400.3 2006.7,400.9 2006.1,402.3 C2005.4,403.6 2004.5,406.3 2004.1,408.0 C2003.7,409.6 2003.7,411.0 2003.7,412.0 C2003.7,413.1 2003.5,414.4 2004.1,414.2 Z" fill="#17904f"/>
<path d="M2007.0,418.7 C2006.6,419.1 2004.3,419.9 2002.7,420.3 C2001.2,420.6 1999.3,420.7 1997.6,420.6 C1996.0,420.5 1994.1,419.5 1992.7,419.6 C1991.4,419.7 1989.6,421.6 1989.5,421.1 C1989.4,420.5 1991.2,417.2 1992.2,416.3 C1993.2,415.3 1993.9,415.4 1995.4,415.3 C1996.9,415.3 1999.7,415.7 2001.4,416.0 C2003.0,416.3 2004.2,416.9 2005.2,417.4 C2006.1,417.8 2007.4,418.2 2007.0,418.7 Z" fill="#17904f"/>
<path d="M2010.0,423.0 C2010.6,422.8 2012.2,421.0 2013.1,419.7 C2014.0,418.4 2014.9,416.7 2015.4,415.1 C2016.0,413.5 2015.8,411.4 2016.4,410.2 C2017.0,409.0 2019.5,408.1 2019.0,407.8 C2018.5,407.5 2014.8,407.9 2013.5,408.4 C2012.3,409.0 2012.1,409.6 2011.4,411.0 C2010.8,412.4 2010.1,415.1 2009.7,416.7 C2009.4,418.4 2009.5,419.8 2009.5,420.8 C2009.6,421.9 2009.4,423.2 2010.0,423.0 Z" fill="#17904f"/>
<path d="M2014.0,428.6 C2013.7,429.1 2011.4,430.0 2009.8,430.4 C2008.3,430.8 2006.4,431.0 2004.8,431.0 C2003.1,431.0 2001.2,430.1 1999.8,430.2 C1998.5,430.4 1996.7,432.4 1996.6,431.8 C1996.5,431.3 1998.2,427.9 1999.1,426.9 C2000.1,425.9 2000.8,425.9 2002.3,425.8 C2003.8,425.7 2006.6,426.0 2008.3,426.2 C2009.9,426.5 2011.2,427.0 2012.2,427.4 C2013.1,427.8 2014.4,428.1 2014.0,428.6 Z" fill="#17904f"/>
<path d="M2017.2,432.8 C2017.8,432.6 2019.3,430.7 2020.1,429.3 C2021.0,428.0 2021.8,426.3 2022.2,424.7 C2022.7,423.1 2022.5,421.0 2023.0,419.7 C2023.5,418.5 2026.0,417.4 2025.5,417.2 C2025.0,416.9 2021.3,417.5 2020.0,418.1 C2018.8,418.7 2018.6,419.3 2018.1,420.7 C2017.5,422.1 2016.9,424.9 2016.6,426.5 C2016.4,428.2 2016.5,429.6 2016.6,430.6 C2016.7,431.7 2016.6,433.0 2017.2,432.8 Z" fill="#17904f"/>
<path d="M2020.4,436.9 C2020.0,437.4 2017.8,438.4 2016.3,438.8 C2014.7,439.3 2012.9,439.6 2011.2,439.6 C2009.5,439.7 2007.6,438.9 2006.2,439.1 C2004.9,439.3 2003.2,441.4 2003.1,440.8 C2003.0,440.3 2004.5,436.8 2005.4,435.8 C2006.3,434.7 2007.0,434.7 2008.5,434.6 C2010.0,434.4 2012.8,434.5 2014.5,434.7 C2016.1,434.9 2017.5,435.4 2018.4,435.8 C2019.4,436.1 2020.7,436.4 2020.4,436.9 Z" fill="#17904f"/>
<path d="M2023.7,440.9 C2024.3,440.6 2025.7,438.7 2026.5,437.3 C2027.3,435.9 2028.0,434.2 2028.4,432.5 C2028.8,430.9 2028.5,428.8 2029.0,427.6 C2029.5,426.3 2031.9,425.2 2031.4,424.9 C2030.8,424.7 2027.2,425.4 2025.9,426.1 C2024.7,426.7 2024.6,427.4 2024.1,428.8 C2023.6,430.2 2023.1,433.0 2022.9,434.7 C2022.7,436.3 2022.9,437.7 2023.0,438.8 C2023.2,439.8 2023.1,441.1 2023.7,440.9 Z" fill="#17904f"/>
<path d="M2028.3,446.1 C2028.0,446.7 2025.8,447.8 2024.3,448.4 C2022.9,448.9 2021.0,449.3 2019.4,449.5 C2017.7,449.6 2015.7,449.0 2014.4,449.2 C2013.0,449.5 2011.5,451.7 2011.4,451.2 C2011.2,450.6 2012.5,447.1 2013.3,446.0 C2014.2,444.9 2014.8,444.9 2016.3,444.6 C2017.8,444.3 2020.7,444.3 2022.3,444.4 C2024.0,444.5 2025.3,444.9 2026.3,445.2 C2027.3,445.4 2028.7,445.6 2028.3,446.1 Z" fill="#17904f"/>
<path d="M2032.0,450.0 C2032.6,449.7 2033.9,447.7 2034.6,446.2 C2035.3,444.8 2035.9,443.0 2036.2,441.4 C2036.5,439.7 2036.0,437.7 2036.4,436.4 C2036.8,435.1 2039.1,433.8 2038.6,433.6 C2038.1,433.4 2034.5,434.3 2033.3,435.1 C2032.1,435.8 2032.0,436.4 2031.6,437.9 C2031.2,439.4 2030.9,442.2 2030.8,443.9 C2030.7,445.5 2031.0,446.9 2031.2,447.9 C2031.4,448.9 2031.4,450.3 2032.0,450.0 Z" fill="#17904f"/>
<path d="M2035.8,453.8 C2035.5,454.4 2033.4,455.6 2031.9,456.2 C2030.4,456.8 2028.6,457.4 2027.0,457.6 C2025.3,457.8 2023.3,457.2 2022.0,457.6 C2020.6,457.9 2019.2,460.2 2019.1,459.6 C2018.9,459.1 2020.0,455.5 2020.8,454.4 C2021.6,453.2 2022.2,453.2 2023.7,452.8 C2025.2,452.5 2028.0,452.3 2029.7,452.3 C2031.4,452.3 2032.7,452.7 2033.7,452.9 C2034.7,453.2 2036.1,453.3 2035.8,453.8 Z" fill="#17904f"/>
<path d="M2039.6,457.6 C2040.2,457.3 2041.4,455.2 2042.1,453.7 C2042.7,452.3 2043.2,450.5 2043.4,448.8 C2043.7,447.1 2043.1,445.1 2043.4,443.8 C2043.8,442.5 2046.0,441.1 2045.5,440.9 C2045.0,440.7 2041.4,441.8 2040.3,442.6 C2039.1,443.4 2039.0,444.1 2038.7,445.5 C2038.3,447.0 2038.2,449.9 2038.2,451.5 C2038.2,453.2 2038.5,454.5 2038.8,455.6 C2039.0,456.6 2039.1,457.9 2039.6,457.6 Z" fill="#17904f"/>
<path d="M2043.6,461.3 C2043.4,461.9 2041.3,463.2 2039.9,463.9 C2038.4,464.6 2036.6,465.2 2035.0,465.5 C2033.3,465.8 2031.3,465.3 2030.0,465.7 C2028.7,466.1 2027.4,468.4 2027.2,467.9 C2027.0,467.4 2028.0,463.7 2028.7,462.6 C2029.4,461.4 2030.1,461.3 2031.5,460.9 C2033.0,460.5 2035.8,460.2 2037.5,460.1 C2039.2,460.1 2040.5,460.3 2041.5,460.5 C2042.6,460.7 2043.9,460.8 2043.6,461.3 Z" fill="#17904f"/>
<path d="M2047.8,465.0 C2048.3,464.6 2049.5,462.5 2050.0,461.0 C2050.6,459.5 2051.0,457.7 2051.2,456.0 C2051.3,454.3 2050.7,452.3 2050.9,451.0 C2051.2,449.7 2053.4,448.2 2052.9,448.0 C2052.4,447.8 2048.8,449.2 2047.7,450.0 C2046.6,450.8 2046.6,451.5 2046.3,453.0 C2046.0,454.5 2046.0,457.3 2046.0,459.0 C2046.1,460.6 2046.5,462.0 2046.8,463.0 C2047.1,464.0 2047.3,465.3 2047.8,465.0 Z" fill="#17904f"/>
<path d="M2052.2,468.5 C2051.9,469.1 2050.0,470.6 2048.6,471.4 C2047.2,472.2 2045.5,472.9 2043.9,473.3 C2042.2,473.7 2040.2,473.4 2038.9,473.9 C2037.6,474.4 2036.5,476.8 2036.3,476.3 C2036.0,475.8 2036.7,472.1 2037.3,470.9 C2038.0,469.7 2038.6,469.5 2040.1,469.0 C2041.5,468.5 2044.3,468.0 2045.9,467.8 C2047.6,467.6 2049.0,467.7 2050.0,467.9 C2051.0,468.0 2052.4,467.9 2052.2,468.5 Z" fill="#17904f"/>
<path d="M2056.8,471.9 C2057.3,471.5 2058.2,469.2 2058.7,467.7 C2059.1,466.2 2059.4,464.3 2059.4,462.6 C2059.5,461.0 2058.6,459.0 2058.8,457.7 C2059.0,456.3 2061.1,454.7 2060.5,454.6 C2060.0,454.4 2056.6,456.0 2055.5,456.9 C2054.5,457.8 2054.5,458.5 2054.3,460.0 C2054.2,461.5 2054.3,464.3 2054.6,466.0 C2054.8,467.7 2055.3,469.0 2055.6,469.9 C2056.0,470.9 2056.3,472.2 2056.8,471.9 Z" fill="#17904f"/>
<path d="M2061.7,475.0 C2061.5,475.6 2059.7,477.3 2058.5,478.3 C2057.2,479.2 2055.5,480.1 2054.0,480.7 C2052.4,481.3 2050.3,481.2 2049.1,481.8 C2047.9,482.5 2047.0,485.0 2046.7,484.5 C2046.4,484.1 2046.7,480.3 2047.2,479.0 C2047.7,477.7 2048.3,477.5 2049.7,476.8 C2051.1,476.2 2053.8,475.4 2055.4,475.0 C2057.0,474.6 2058.4,474.6 2059.5,474.6 C2060.5,474.6 2061.9,474.4 2061.7,475.0 Z" fill="#17904f"/>
<path d="M2067.1,478.1 C2067.5,477.7 2068.2,475.3 2068.5,473.8 C2068.8,472.2 2068.9,470.3 2068.7,468.7 C2068.6,467.0 2067.5,465.1 2067.6,463.8 C2067.6,462.4 2069.5,460.6 2068.9,460.5 C2068.4,460.4 2065.1,462.4 2064.2,463.4 C2063.3,464.4 2063.4,465.0 2063.4,466.6 C2063.4,468.1 2063.8,470.9 2064.2,472.5 C2064.6,474.1 2065.2,475.4 2065.7,476.3 C2066.2,477.2 2066.6,478.5 2067.1,478.1 Z" fill="#17904f"/>
<path d="M2070.9,480.1 C2070.7,480.7 2069.1,482.5 2067.9,483.5 C2066.7,484.6 2065.1,485.6 2063.6,486.4 C2062.1,487.1 2060.0,487.2 2058.9,487.9 C2057.7,488.6 2057.1,491.2 2056.8,490.8 C2056.4,490.3 2056.4,486.6 2056.8,485.3 C2057.2,483.9 2057.8,483.7 2059.1,482.9 C2060.4,482.1 2063.0,481.0 2064.6,480.5 C2066.2,480.0 2067.6,479.9 2068.6,479.8 C2069.7,479.8 2071.0,479.4 2070.9,480.1 Z" fill="#17904f"/>
<path d="M2076.8,482.9 C2077.2,482.4 2077.7,480.1 2077.8,478.5 C2078.0,476.9 2077.9,475.0 2077.6,473.4 C2077.3,471.7 2076.1,470.0 2076.0,468.6 C2076.0,467.2 2077.7,465.2 2077.1,465.2 C2076.6,465.2 2073.5,467.4 2072.7,468.5 C2071.8,469.6 2072.0,470.2 2072.1,471.7 C2072.2,473.2 2072.9,476.0 2073.5,477.6 C2074.0,479.2 2074.7,480.3 2075.3,481.2 C2075.8,482.1 2076.3,483.4 2076.8,482.9 Z" fill="#17904f"/>
<path d="M2082.8,485.6 C2082.7,486.2 2081.1,488.1 2080.0,489.2 C2078.9,490.4 2077.4,491.5 2075.9,492.3 C2074.4,493.1 2072.3,493.3 2071.2,494.1 C2070.1,494.9 2069.7,497.5 2069.3,497.1 C2068.9,496.7 2068.7,492.9 2069.0,491.6 C2069.3,490.2 2069.9,489.9 2071.2,489.1 C2072.4,488.2 2075.0,487.0 2076.5,486.4 C2078.1,485.8 2079.5,485.6 2080.5,485.5 C2081.6,485.4 2082.8,485.0 2082.8,485.6 Z" fill="#17904f"/>
<path d="M2086.7,487.3 C2087.1,486.8 2087.5,484.4 2087.6,482.8 C2087.6,481.2 2087.4,479.3 2087.0,477.7 C2086.7,476.1 2085.4,474.4 2085.2,473.1 C2085.1,471.7 2086.7,469.6 2086.1,469.6 C2085.5,469.6 2082.6,472.0 2081.8,473.1 C2081.1,474.3 2081.2,474.9 2081.5,476.4 C2081.7,477.9 2082.5,480.6 2083.1,482.2 C2083.8,483.7 2084.6,484.9 2085.2,485.7 C2085.7,486.6 2086.3,487.8 2086.7,487.3 Z" fill="#17904f"/>
<path d="M2092.5,489.7 C2092.5,490.4 2091.0,492.3 2089.9,493.4 C2088.7,494.6 2087.3,495.7 2085.8,496.6 C2084.4,497.4 2082.3,497.7 2081.2,498.5 C2080.1,499.3 2079.7,501.9 2079.3,501.5 C2078.9,501.1 2078.6,497.3 2078.9,496.0 C2079.2,494.6 2079.8,494.3 2081.0,493.4 C2082.2,492.6 2084.8,491.3 2086.3,490.7 C2087.9,490.1 2089.3,489.8 2090.3,489.7 C2091.3,489.5 2092.6,489.1 2092.5,489.7 Z" fill="#17904f"/>
<path d="M2096.2,491.3 C2096.6,490.8 2096.9,488.4 2097.0,486.8 C2097.0,485.2 2096.8,483.3 2096.3,481.7 C2095.9,480.1 2094.6,478.4 2094.4,477.1 C2094.2,475.7 2095.8,473.6 2095.2,473.6 C2094.7,473.6 2091.8,476.0 2091.0,477.2 C2090.3,478.3 2090.5,479.0 2090.7,480.5 C2091.0,482.0 2091.9,484.7 2092.5,486.2 C2093.2,487.7 2094.0,488.9 2094.6,489.7 C2095.2,490.6 2095.8,491.8 2096.2,491.3 Z" fill="#17904f"/>
<path d="M2101.6,493.4 C2101.5,494.1 2100.1,496.0 2099.0,497.2 C2097.9,498.4 2096.4,499.5 2095.0,500.4 C2093.6,501.3 2091.5,501.6 2090.4,502.4 C2089.3,503.2 2089.0,505.9 2088.6,505.5 C2088.2,505.1 2087.8,501.3 2088.1,500.0 C2088.3,498.6 2088.9,498.3 2090.1,497.4 C2091.4,496.5 2093.9,495.2 2095.4,494.5 C2097.0,493.9 2098.3,493.6 2099.4,493.4 C2100.4,493.3 2101.6,492.8 2101.6,493.4 Z" fill="#17904f"/>
<path d="M2107.2,495.5 C2107.6,495.0 2107.8,492.6 2107.8,491.0 C2107.8,489.4 2107.6,487.5 2107.1,485.9 C2106.6,484.3 2105.3,482.7 2105.1,481.3 C2104.9,480.0 2106.4,477.8 2105.8,477.8 C2105.3,477.9 2102.4,480.4 2101.7,481.5 C2101.0,482.7 2101.2,483.3 2101.5,484.8 C2101.7,486.3 2102.7,489.0 2103.4,490.5 C2104.1,492.0 2104.9,493.1 2105.5,494.0 C2106.2,494.8 2106.8,496.0 2107.2,495.5 Z" fill="#17904f"/>
<path d="M2112.8,497.4 C2112.7,498.1 2111.4,500.1 2110.4,501.3 C2109.3,502.5 2107.9,503.8 2106.5,504.7 C2105.1,505.6 2103.1,506.0 2102.0,506.9 C2101.0,507.8 2100.8,510.5 2100.4,510.1 C2100.0,509.7 2099.4,506.0 2099.6,504.6 C2099.8,503.2 2100.3,502.9 2101.5,501.9 C2102.7,500.9 2105.2,499.5 2106.7,498.8 C2108.2,498.1 2109.5,497.8 2110.5,497.5 C2111.6,497.3 2112.8,496.8 2112.8,497.4 Z" fill="#17904f"/>
<path d="M2118.1,499.2 C2118.5,498.7 2118.6,496.2 2118.6,494.6 C2118.5,493.0 2118.1,491.2 2117.6,489.6 C2117.1,488.0 2115.6,486.5 2115.4,485.1 C2115.1,483.8 2116.5,481.6 2115.9,481.6 C2115.4,481.7 2112.7,484.3 2112.0,485.5 C2111.3,486.7 2111.5,487.3 2111.9,488.8 C2112.2,490.3 2113.3,492.9 2114.1,494.4 C2114.8,495.9 2115.7,496.9 2116.4,497.7 C2117.1,498.5 2117.8,499.7 2118.1,499.2 Z" fill="#17904f"/>
<path d="M2025.5,174.5 C2025.2,173.9 2025.5,171.6 2025.7,169.9 C2025.9,168.3 2025.9,166.2 2026.6,164.6 C2027.2,163.1 2029.0,162.0 2029.5,160.5 C2029.9,159.1 2028.7,155.8 2029.4,155.8 C2030.2,155.9 2033.4,159.4 2034.0,160.9 C2034.6,162.5 2033.7,163.5 2033.1,165.1 C2032.5,166.6 2031.1,168.9 2030.2,170.3 C2029.2,171.7 2028.2,172.6 2027.4,173.3 C2026.6,174.0 2025.8,175.1 2025.5,174.5 Z" fill="#17904f"/>
<path d="M2293.9,174.5 C2297.0,179.6 2306.8,194.2 2312.4,205.0 C2318.0,215.8 2323.7,228.5 2327.4,239.0 C2331.1,249.5 2332.6,257.8 2334.8,268.0 C2337.0,278.2 2339.3,289.7 2340.7,300.0 C2342.0,310.3 2343.1,319.5 2342.9,330.0 C2342.7,340.5 2342.0,352.5 2339.4,363.0 C2336.8,373.5 2332.4,383.0 2327.4,393.0 C2322.4,403.0 2316.1,413.5 2309.4,423.0 C2302.7,432.5 2295.7,441.5 2287.4,450.0 C2279.1,458.5 2270.4,467.0 2259.4,474.0 C2248.4,481.0 2233.1,487.2 2221.4,492.0 C2209.7,496.8 2199.6,499.8 2189.4,503.0 C2179.1,506.2 2169.1,509.1 2159.9,511.5 C2150.7,513.9 2138.6,516.5 2134.4,517.5" fill="none" stroke="#17904f" stroke-width="2.4" stroke-linecap="round"/>
<path d="M2295.7,177.4 C2296.3,177.2 2298.0,175.4 2298.9,174.1 C2299.8,172.8 2300.7,171.2 2301.3,169.6 C2301.9,168.0 2301.8,165.9 2302.4,164.7 C2303.0,163.5 2305.5,162.7 2305.1,162.4 C2304.6,162.1 2300.8,162.4 2299.6,162.9 C2298.3,163.4 2298.1,164.0 2297.4,165.4 C2296.7,166.8 2295.9,169.5 2295.6,171.1 C2295.2,172.8 2295.3,174.1 2295.3,175.2 C2295.3,176.2 2295.1,177.6 2295.7,177.4 Z" fill="#17904f"/>
<path d="M2299.1,182.8 C2298.7,183.3 2296.4,184.0 2294.8,184.3 C2293.3,184.6 2291.4,184.7 2289.7,184.5 C2288.1,184.4 2286.2,183.4 2284.8,183.4 C2283.5,183.5 2281.6,185.4 2281.6,184.8 C2281.5,184.2 2283.4,181.0 2284.4,180.1 C2285.4,179.1 2286.1,179.2 2287.6,179.2 C2289.1,179.2 2291.9,179.6 2293.5,180.0 C2295.2,180.4 2296.4,181.0 2297.3,181.5 C2298.3,181.9 2299.6,182.3 2299.1,182.8 Z" fill="#17904f"/>
<path d="M2302.2,187.6 C2302.8,187.4 2304.5,185.7 2305.4,184.4 C2306.4,183.1 2307.3,181.4 2307.8,179.9 C2308.4,178.3 2308.3,176.2 2308.9,175.0 C2309.6,173.8 2312.1,172.9 2311.6,172.6 C2311.1,172.3 2307.4,172.6 2306.1,173.1 C2304.8,173.6 2304.6,174.3 2303.9,175.6 C2303.3,177.0 2302.5,179.7 2302.1,181.4 C2301.8,183.0 2301.8,184.4 2301.8,185.4 C2301.8,186.5 2301.6,187.8 2302.2,187.6 Z" fill="#17904f"/>
<path d="M2305.4,192.9 C2305.0,193.3 2302.7,194.1 2301.1,194.3 C2299.6,194.6 2297.7,194.7 2296.0,194.6 C2294.4,194.4 2292.5,193.4 2291.1,193.4 C2289.8,193.5 2287.9,195.4 2287.9,194.8 C2287.8,194.3 2289.7,191.0 2290.7,190.1 C2291.7,189.2 2292.4,189.2 2293.9,189.2 C2295.4,189.2 2298.2,189.7 2299.8,190.1 C2301.5,190.4 2302.7,191.1 2303.6,191.5 C2304.6,192.0 2305.9,192.4 2305.4,192.9 Z" fill="#17904f"/>
<path d="M2307.6,196.4 C2308.2,196.3 2309.9,194.5 2310.9,193.2 C2311.8,192.0 2312.8,190.3 2313.4,188.8 C2314.0,187.2 2314.0,185.1 2314.6,183.9 C2315.3,182.7 2317.8,182.0 2317.3,181.6 C2316.9,181.3 2313.1,181.6 2311.8,182.0 C2310.5,182.5 2310.3,183.1 2309.6,184.5 C2308.9,185.8 2308.0,188.5 2307.6,190.2 C2307.2,191.8 2307.2,193.2 2307.2,194.2 C2307.2,195.3 2307.0,196.6 2307.6,196.4 Z" fill="#17904f"/>
<path d="M2310.6,201.7 C2310.2,202.1 2307.8,202.8 2306.3,203.1 C2304.7,203.3 2302.8,203.4 2301.1,203.2 C2299.5,203.0 2297.6,201.9 2296.3,201.9 C2294.9,201.9 2293.0,203.8 2293.0,203.2 C2292.9,202.7 2294.9,199.5 2295.9,198.6 C2297.0,197.7 2297.6,197.7 2299.1,197.8 C2300.7,197.8 2303.5,198.3 2305.1,198.7 C2306.7,199.2 2307.9,199.8 2308.8,200.3 C2309.8,200.8 2311.0,201.2 2310.6,201.7 Z" fill="#17904f"/>
<path d="M2313.2,206.6 C2313.9,206.5 2315.7,204.9 2316.7,203.7 C2317.8,202.5 2318.8,200.9 2319.5,199.4 C2320.2,197.9 2320.3,195.8 2321.0,194.6 C2321.8,193.5 2324.3,192.8 2323.9,192.5 C2323.4,192.1 2319.7,192.1 2318.4,192.5 C2317.0,192.9 2316.8,193.5 2316.0,194.8 C2315.2,196.1 2314.2,198.8 2313.7,200.4 C2313.2,202.0 2313.1,203.4 2313.0,204.4 C2312.9,205.4 2312.6,206.7 2313.2,206.6 Z" fill="#17904f"/>
<path d="M2315.7,211.7 C2315.3,212.1 2312.9,212.6 2311.3,212.8 C2309.7,212.9 2307.8,212.8 2306.2,212.6 C2304.6,212.3 2302.8,211.1 2301.4,211.0 C2300.1,210.9 2298.1,212.7 2298.0,212.1 C2298.0,211.6 2300.2,208.5 2301.3,207.6 C2302.4,206.8 2303.0,206.9 2304.5,207.1 C2306.1,207.2 2308.8,207.9 2310.4,208.4 C2312.0,208.9 2313.2,209.6 2314.1,210.2 C2315.0,210.7 2316.2,211.2 2315.7,211.7 Z" fill="#17904f"/>
<path d="M2318.2,216.8 C2318.8,216.7 2320.7,215.2 2321.8,214.0 C2322.9,212.8 2324.0,211.3 2324.8,209.8 C2325.5,208.4 2325.7,206.2 2326.4,205.1 C2327.2,204.0 2329.8,203.5 2329.4,203.1 C2329.0,202.7 2325.2,202.6 2323.9,202.9 C2322.5,203.3 2322.2,203.9 2321.4,205.2 C2320.6,206.4 2319.4,209.0 2318.9,210.6 C2318.3,212.2 2318.2,213.6 2318.1,214.6 C2318.0,215.6 2317.6,216.9 2318.2,216.8 Z" fill="#17904f"/>
<path d="M2320.6,222.1 C2320.1,222.5 2317.7,222.9 2316.1,223.0 C2314.5,223.1 2312.7,223.0 2311.0,222.6 C2309.4,222.3 2307.7,221.0 2306.3,220.9 C2305.0,220.8 2302.9,222.4 2302.9,221.9 C2302.9,221.3 2305.2,218.3 2306.3,217.5 C2307.4,216.7 2308.1,216.9 2309.6,217.1 C2311.1,217.3 2313.8,218.0 2315.4,218.6 C2316.9,219.2 2318.1,220.0 2319.0,220.6 C2319.8,221.1 2321.1,221.7 2320.6,222.1 Z" fill="#17904f"/>
<path d="M2322.9,227.3 C2323.5,227.3 2325.4,225.8 2326.5,224.6 C2327.7,223.5 2328.8,222.0 2329.7,220.6 C2330.5,219.1 2330.7,217.0 2331.5,215.9 C2332.3,214.8 2335.0,214.4 2334.5,214.0 C2334.1,213.6 2330.4,213.4 2329.0,213.7 C2327.7,213.9 2327.4,214.5 2326.5,215.8 C2325.6,217.0 2324.4,219.6 2323.8,221.1 C2323.1,222.7 2322.9,224.1 2322.8,225.1 C2322.6,226.1 2322.2,227.4 2322.9,227.3 Z" fill="#17904f"/>
<path d="M2324.9,232.5 C2324.5,232.9 2322.0,233.2 2320.4,233.2 C2318.8,233.3 2317.0,233.1 2315.4,232.6 C2313.7,232.2 2312.1,230.9 2310.7,230.8 C2309.4,230.6 2307.2,232.2 2307.3,231.6 C2307.3,231.0 2309.7,228.1 2310.8,227.4 C2312.0,226.6 2312.6,226.8 2314.1,227.0 C2315.6,227.3 2318.3,228.2 2319.9,228.8 C2321.4,229.4 2322.5,230.3 2323.4,230.9 C2324.2,231.5 2325.4,232.1 2324.9,232.5 Z" fill="#17904f"/>
<path d="M2326.8,237.4 C2327.5,237.4 2329.4,236.0 2330.6,234.9 C2331.8,233.8 2333.0,232.4 2333.9,231.0 C2334.8,229.6 2335.1,227.5 2336.0,226.4 C2336.9,225.4 2339.5,225.0 2339.1,224.6 C2338.7,224.2 2335.0,223.8 2333.6,224.0 C2332.3,224.3 2331.9,224.8 2331.0,226.0 C2330.0,227.2 2328.7,229.7 2328.0,231.3 C2327.3,232.8 2327.1,234.1 2326.9,235.2 C2326.7,236.2 2326.2,237.5 2326.8,237.4 Z" fill="#17904f"/>
<path d="M2328.5,242.1 C2327.9,242.5 2325.5,242.7 2323.9,242.7 C2322.3,242.6 2320.5,242.3 2318.9,241.8 C2317.3,241.4 2315.7,240.0 2314.3,239.7 C2313.0,239.5 2310.8,241.0 2310.8,240.4 C2310.9,239.9 2313.4,237.1 2314.6,236.4 C2315.8,235.7 2316.4,235.9 2317.9,236.2 C2319.4,236.5 2322.0,237.5 2323.5,238.2 C2325.1,238.9 2326.1,239.8 2327.0,240.4 C2327.8,241.1 2329.0,241.7 2328.5,242.1 Z" fill="#17904f"/>
<path d="M2330.2,248.0 C2330.9,248.0 2333.0,246.7 2334.2,245.8 C2335.5,244.8 2336.8,243.5 2337.8,242.1 C2338.8,240.8 2339.3,238.7 2340.3,237.7 C2341.2,236.8 2343.9,236.7 2343.5,236.2 C2343.1,235.8 2339.4,235.1 2338.1,235.2 C2336.7,235.3 2336.3,235.8 2335.3,237.0 C2334.3,238.1 2332.7,240.5 2331.9,241.9 C2331.1,243.4 2330.7,244.7 2330.4,245.7 C2330.2,246.8 2329.6,248.0 2330.2,248.0 Z" fill="#17904f"/>
<path d="M2331.7,253.6 C2331.1,254.0 2328.7,254.0 2327.1,253.8 C2325.5,253.7 2323.7,253.2 2322.1,252.6 C2320.6,252.0 2319.1,250.5 2317.8,250.1 C2316.5,249.8 2314.1,251.1 2314.2,250.5 C2314.3,250.0 2317.1,247.4 2318.3,246.8 C2319.5,246.2 2320.2,246.5 2321.6,246.9 C2323.1,247.3 2325.6,248.5 2327.1,249.4 C2328.5,250.2 2329.6,251.1 2330.3,251.8 C2331.1,252.6 2332.2,253.3 2331.7,253.6 Z" fill="#17904f"/>
<path d="M2332.9,259.2 C2333.6,259.3 2335.7,258.2 2337.1,257.3 C2338.4,256.4 2339.8,255.1 2340.9,253.9 C2342.0,252.6 2342.6,250.6 2343.6,249.6 C2344.6,248.7 2347.2,248.8 2346.9,248.3 C2346.5,247.9 2342.9,246.9 2341.5,246.9 C2340.2,247.0 2339.7,247.5 2338.6,248.6 C2337.5,249.6 2335.9,251.9 2335.0,253.3 C2334.1,254.7 2333.6,256.0 2333.3,257.0 C2332.9,258.0 2332.3,259.2 2332.9,259.2 Z" fill="#17904f"/>
<path d="M2333.8,263.5 C2333.3,263.8 2330.9,263.7 2329.3,263.5 C2327.7,263.2 2325.9,262.6 2324.4,261.9 C2322.9,261.2 2321.5,259.6 2320.2,259.2 C2318.9,258.8 2316.5,259.9 2316.6,259.4 C2316.8,258.8 2319.7,256.5 2320.9,255.9 C2322.2,255.4 2322.8,255.7 2324.2,256.2 C2325.7,256.7 2328.1,258.1 2329.5,259.0 C2330.9,259.9 2331.9,260.9 2332.6,261.7 C2333.3,262.4 2334.4,263.2 2333.8,263.5 Z" fill="#17904f"/>
<path d="M2335.1,269.5 C2335.8,269.6 2337.9,268.5 2339.3,267.6 C2340.6,266.7 2342.0,265.4 2343.1,264.2 C2344.2,262.9 2344.8,260.9 2345.8,259.9 C2346.8,259.0 2349.4,259.1 2349.1,258.6 C2348.7,258.2 2345.1,257.2 2343.7,257.2 C2342.4,257.3 2341.9,257.8 2340.8,258.9 C2339.8,259.9 2338.1,262.2 2337.2,263.6 C2336.3,265.0 2335.8,266.3 2335.5,267.3 C2335.1,268.3 2334.5,269.5 2335.1,269.5 Z" fill="#17904f"/>
<path d="M2336.5,275.8 C2335.9,276.1 2333.5,276.0 2331.9,275.8 C2330.3,275.5 2328.5,274.9 2327.0,274.2 C2325.5,273.5 2324.1,271.9 2322.8,271.5 C2321.5,271.1 2319.1,272.2 2319.3,271.7 C2319.4,271.1 2322.3,268.8 2323.5,268.2 C2324.8,267.7 2325.4,268.0 2326.8,268.5 C2328.3,269.0 2330.8,270.4 2332.2,271.3 C2333.5,272.2 2334.5,273.2 2335.2,274.0 C2335.9,274.7 2337.0,275.5 2336.5,275.8 Z" fill="#17904f"/>
<path d="M2337.4,280.7 C2338.1,280.7 2340.3,279.7 2341.6,278.8 C2342.9,277.9 2344.4,276.7 2345.5,275.4 C2346.6,274.2 2347.2,272.2 2348.2,271.3 C2349.3,270.4 2351.9,270.5 2351.6,270.0 C2351.3,269.6 2347.6,268.5 2346.3,268.5 C2344.9,268.6 2344.5,269.1 2343.3,270.1 C2342.2,271.2 2340.5,273.4 2339.6,274.8 C2338.7,276.2 2338.2,277.5 2337.8,278.5 C2337.5,279.5 2336.8,280.6 2337.4,280.7 Z" fill="#17904f"/>
<path d="M2338.4,285.6 C2337.8,285.9 2335.4,285.7 2333.8,285.4 C2332.2,285.1 2330.5,284.5 2329.0,283.8 C2327.5,283.1 2326.1,281.5 2324.8,281.0 C2323.5,280.6 2321.1,281.7 2321.2,281.1 C2321.4,280.6 2324.3,278.2 2325.6,277.7 C2326.9,277.2 2327.5,277.5 2328.9,278.1 C2330.3,278.6 2332.8,280.0 2334.1,281.0 C2335.5,281.9 2336.5,282.9 2337.2,283.7 C2337.9,284.5 2338.9,285.3 2338.4,285.6 Z" fill="#17904f"/>
<path d="M2339.5,292.1 C2340.1,292.1 2342.4,291.1 2343.7,290.3 C2345.1,289.5 2346.6,288.3 2347.7,287.1 C2348.8,285.9 2349.6,283.9 2350.6,283.0 C2351.6,282.1 2354.3,282.3 2354.0,281.8 C2353.7,281.4 2350.1,280.2 2348.7,280.2 C2347.3,280.2 2346.9,280.7 2345.7,281.7 C2344.6,282.7 2342.8,284.9 2341.8,286.3 C2340.9,287.6 2340.4,288.9 2340.0,289.9 C2339.6,290.9 2338.9,292.0 2339.5,292.1 Z" fill="#17904f"/>
<path d="M2340.3,296.9 C2339.7,297.1 2337.3,296.9 2335.7,296.6 C2334.2,296.2 2332.4,295.6 2330.9,294.8 C2329.4,294.0 2328.1,292.4 2326.8,291.9 C2325.6,291.4 2323.1,292.5 2323.3,291.9 C2323.4,291.4 2326.4,289.1 2327.7,288.6 C2329.0,288.2 2329.6,288.5 2331.0,289.1 C2332.4,289.7 2334.8,291.1 2336.2,292.1 C2337.5,293.1 2338.4,294.2 2339.1,294.9 C2339.8,295.7 2340.8,296.6 2340.3,296.9 Z" fill="#17904f"/>
<path d="M2341.1,303.1 C2341.7,303.2 2344.0,302.2 2345.4,301.5 C2346.8,300.7 2348.3,299.6 2349.5,298.4 C2350.7,297.2 2351.4,295.3 2352.5,294.4 C2353.6,293.6 2356.2,293.9 2355.9,293.4 C2355.6,292.9 2352.1,291.6 2350.7,291.6 C2349.4,291.5 2348.9,292.0 2347.7,292.9 C2346.5,293.9 2344.7,296.0 2343.6,297.3 C2342.6,298.7 2342.1,299.9 2341.6,300.9 C2341.2,301.9 2340.5,303.0 2341.1,303.1 Z" fill="#17904f"/>
<path d="M2341.6,307.6 C2341.1,307.8 2338.6,307.5 2337.1,307.1 C2335.6,306.7 2333.8,306.0 2332.4,305.2 C2330.9,304.3 2329.7,302.6 2328.4,302.1 C2327.2,301.6 2324.7,302.5 2324.9,302.0 C2325.0,301.4 2328.1,299.3 2329.4,298.9 C2330.7,298.4 2331.3,298.8 2332.7,299.4 C2334.1,300.1 2336.4,301.6 2337.7,302.7 C2339.0,303.7 2339.9,304.8 2340.6,305.6 C2341.2,306.4 2342.2,307.3 2341.6,307.6 Z" fill="#17904f"/>
<path d="M2342.3,313.5 C2342.9,313.6 2345.2,312.7 2346.6,312.0 C2348.0,311.3 2349.6,310.2 2350.8,309.1 C2352.0,307.9 2352.9,306.0 2354.0,305.2 C2355.1,304.4 2357.7,304.8 2357.4,304.3 C2357.1,303.8 2353.6,302.4 2352.3,302.3 C2350.9,302.2 2350.4,302.6 2349.2,303.6 C2348.0,304.5 2346.0,306.5 2345.0,307.8 C2343.9,309.1 2343.3,310.4 2342.9,311.3 C2342.4,312.3 2341.6,313.4 2342.3,313.5 Z" fill="#17904f"/>
<path d="M2342.7,319.4 C2342.1,319.6 2339.7,319.2 2338.2,318.7 C2336.6,318.3 2334.9,317.5 2333.5,316.6 C2332.1,315.8 2330.9,314.0 2329.7,313.4 C2328.4,312.9 2325.9,313.7 2326.1,313.2 C2326.3,312.7 2329.5,310.6 2330.8,310.3 C2332.1,309.9 2332.7,310.2 2334.0,310.9 C2335.4,311.6 2337.7,313.3 2339.0,314.3 C2340.2,315.4 2341.1,316.5 2341.7,317.4 C2342.3,318.2 2343.3,319.1 2342.7,319.4 Z" fill="#17904f"/>
<path d="M2342.9,325.4 C2343.5,325.5 2345.9,324.9 2347.3,324.2 C2348.8,323.6 2350.4,322.6 2351.7,321.6 C2353.0,320.6 2354.0,318.7 2355.2,318.0 C2356.4,317.3 2358.9,317.8 2358.7,317.3 C2358.5,316.8 2355.1,315.2 2353.7,315.0 C2352.4,314.7 2351.9,315.2 2350.6,316.0 C2349.3,316.8 2347.2,318.7 2346.1,319.9 C2344.9,321.2 2344.2,322.4 2343.7,323.3 C2343.2,324.2 2342.3,325.2 2342.9,325.4 Z" fill="#17904f"/>
<path d="M2342.9,330.0 C2342.3,330.2 2339.9,329.6 2338.4,329.0 C2336.9,328.5 2335.3,327.6 2333.9,326.6 C2332.6,325.6 2331.5,323.8 2330.3,323.1 C2329.1,322.5 2326.6,323.1 2326.8,322.6 C2327.0,322.1 2330.3,320.3 2331.7,320.0 C2333.0,319.8 2333.6,320.2 2334.9,320.9 C2336.2,321.7 2338.3,323.5 2339.5,324.7 C2340.7,325.9 2341.5,327.1 2342.0,327.9 C2342.6,328.8 2343.5,329.8 2342.9,330.0 Z" fill="#17904f"/>
<path d="M2342.7,336.5 C2343.3,336.7 2345.7,336.1 2347.2,335.6 C2348.7,335.1 2350.4,334.2 2351.7,333.2 C2353.1,332.3 2354.2,330.5 2355.4,329.8 C2356.6,329.2 2359.2,329.9 2358.9,329.4 C2358.7,328.9 2355.4,327.0 2354.1,326.7 C2352.8,326.4 2352.2,326.8 2350.9,327.6 C2349.6,328.3 2347.4,330.1 2346.2,331.2 C2344.9,332.4 2344.2,333.5 2343.6,334.4 C2343.0,335.3 2342.1,336.3 2342.7,336.5 Z" fill="#17904f"/>
<path d="M2342.4,341.4 C2341.8,341.6 2339.5,340.9 2338.0,340.2 C2336.6,339.6 2335.0,338.6 2333.7,337.5 C2332.4,336.5 2331.4,334.6 2330.3,333.8 C2329.1,333.1 2326.5,333.6 2326.8,333.1 C2327.1,332.6 2330.5,331.0 2331.8,330.8 C2333.2,330.6 2333.7,331.1 2335.0,331.9 C2336.2,332.8 2338.3,334.7 2339.4,336.0 C2340.5,337.2 2341.2,338.4 2341.7,339.3 C2342.2,340.2 2343.0,341.3 2342.4,341.4 Z" fill="#17904f"/>
<path d="M2341.9,348.2 C2342.5,348.4 2344.9,348.0 2346.4,347.6 C2347.9,347.1 2349.7,346.4 2351.1,345.5 C2352.5,344.6 2353.7,342.9 2354.9,342.3 C2356.2,341.8 2358.7,342.6 2358.5,342.1 C2358.3,341.6 2355.1,339.5 2353.8,339.1 C2352.5,338.7 2352.0,339.1 2350.6,339.8 C2349.2,340.5 2346.9,342.1 2345.6,343.2 C2344.4,344.2 2343.5,345.4 2342.9,346.2 C2342.3,347.0 2341.3,348.0 2341.9,348.2 Z" fill="#17904f"/>
<path d="M2341.3,353.2 C2340.6,353.3 2338.4,352.5 2336.9,351.8 C2335.5,351.0 2334.0,349.9 2332.8,348.8 C2331.5,347.7 2330.7,345.7 2329.6,344.9 C2328.5,344.1 2325.9,344.5 2326.1,344.0 C2326.4,343.5 2329.9,342.1 2331.3,342.0 C2332.7,341.9 2333.1,342.4 2334.4,343.3 C2335.6,344.2 2337.5,346.3 2338.5,347.6 C2339.6,348.9 2340.2,350.1 2340.6,351.1 C2341.1,352.0 2341.9,353.1 2341.3,353.2 Z" fill="#17904f"/>
<path d="M2340.4,358.2 C2341.0,358.5 2343.4,358.3 2345.0,357.9 C2346.6,357.6 2348.3,357.0 2349.8,356.2 C2351.3,355.5 2352.7,353.8 2353.9,353.4 C2355.2,352.9 2357.6,354.0 2357.5,353.4 C2357.4,352.9 2354.4,350.6 2353.1,350.1 C2351.8,349.6 2351.2,349.9 2349.8,350.5 C2348.4,351.1 2346.0,352.5 2344.6,353.5 C2343.2,354.5 2342.3,355.5 2341.6,356.3 C2340.9,357.1 2339.9,357.9 2340.4,358.2 Z" fill="#17904f"/>
<path d="M2339.0,364.6 C2338.4,364.6 2336.2,363.6 2334.8,362.8 C2333.5,361.9 2332.0,360.7 2330.9,359.5 C2329.7,358.2 2329.1,356.2 2328.0,355.4 C2327.0,354.5 2324.3,354.6 2324.7,354.2 C2325.0,353.7 2328.6,352.6 2330.0,352.6 C2331.3,352.6 2331.8,353.1 2332.9,354.1 C2334.0,355.1 2335.8,357.3 2336.7,358.7 C2337.7,360.1 2338.2,361.4 2338.6,362.4 C2338.9,363.3 2339.6,364.5 2339.0,364.6 Z" fill="#17904f"/>
<path d="M2337.6,369.2 C2338.2,369.5 2340.6,369.6 2342.2,369.5 C2343.8,369.4 2345.6,369.0 2347.2,368.4 C2348.8,367.9 2350.3,366.4 2351.6,366.1 C2353.0,365.8 2355.2,367.2 2355.2,366.6 C2355.1,366.0 2352.4,363.4 2351.2,362.8 C2350.0,362.1 2349.4,362.4 2347.9,362.7 C2346.4,363.1 2343.8,364.3 2342.3,365.1 C2340.9,365.8 2339.8,366.8 2339.0,367.4 C2338.3,368.1 2337.1,368.8 2337.6,369.2 Z" fill="#17904f"/>
<path d="M2335.5,375.2 C2334.9,375.2 2332.8,373.9 2331.6,372.9 C2330.3,371.9 2329.0,370.5 2328.1,369.2 C2327.1,367.8 2326.7,365.7 2325.8,364.7 C2324.8,363.7 2322.2,363.5 2322.6,363.1 C2323.0,362.7 2326.7,362.0 2328.0,362.2 C2329.4,362.4 2329.8,362.9 2330.8,364.1 C2331.8,365.2 2333.2,367.7 2334.0,369.1 C2334.8,370.6 2335.1,372.0 2335.3,373.0 C2335.6,374.0 2336.1,375.2 2335.5,375.2 Z" fill="#17904f"/>
<path d="M2333.7,379.7 C2334.2,380.1 2336.6,380.4 2338.2,380.4 C2339.8,380.5 2341.6,380.3 2343.3,379.8 C2344.9,379.4 2346.6,378.1 2347.9,377.9 C2349.3,377.8 2351.4,379.3 2351.4,378.8 C2351.3,378.2 2348.9,375.3 2347.8,374.6 C2346.6,373.8 2346.0,374.0 2344.5,374.2 C2343.0,374.5 2340.3,375.4 2338.8,376.0 C2337.2,376.6 2336.1,377.5 2335.2,378.1 C2334.4,378.7 2333.2,379.3 2333.7,379.7 Z" fill="#17904f"/>
<path d="M2331.0,385.6 C2330.4,385.5 2328.5,384.0 2327.3,382.9 C2326.2,381.8 2325.0,380.3 2324.2,378.8 C2323.4,377.4 2323.2,375.3 2322.3,374.2 C2321.5,373.1 2318.9,372.7 2319.3,372.3 C2319.7,371.9 2323.5,371.6 2324.8,371.9 C2326.2,372.2 2326.5,372.8 2327.4,374.0 C2328.3,375.3 2329.5,377.8 2330.1,379.4 C2330.7,380.9 2330.9,382.3 2331.1,383.3 C2331.2,384.4 2331.6,385.6 2331.0,385.6 Z" fill="#17904f"/>
<path d="M2328.9,390.0 C2329.3,390.4 2331.7,390.9 2333.3,391.0 C2334.9,391.1 2336.8,391.0 2338.4,390.7 C2340.1,390.4 2341.8,389.2 2343.2,389.1 C2344.5,389.0 2346.6,390.7 2346.6,390.1 C2346.6,389.5 2344.3,386.5 2343.2,385.7 C2342.1,384.9 2341.5,385.0 2340.0,385.2 C2338.5,385.3 2335.7,386.1 2334.2,386.6 C2332.6,387.2 2331.4,387.9 2330.5,388.5 C2329.7,389.1 2328.4,389.6 2328.9,390.0 Z" fill="#17904f"/>
<path d="M2326.6,394.5 C2326.0,394.4 2324.2,392.8 2323.1,391.6 C2322.0,390.4 2321.0,388.9 2320.2,387.4 C2319.5,385.9 2319.4,383.8 2318.6,382.7 C2317.8,381.5 2315.3,380.9 2315.7,380.6 C2316.1,380.2 2319.9,380.2 2321.2,380.5 C2322.5,380.9 2322.8,381.5 2323.6,382.8 C2324.4,384.1 2325.5,386.7 2326.1,388.3 C2326.6,389.8 2326.7,391.2 2326.8,392.3 C2326.9,393.3 2327.3,394.6 2326.6,394.5 Z" fill="#17904f"/>
<path d="M2323.4,400.6 C2323.9,401.0 2326.2,401.6 2327.8,401.8 C2329.4,402.0 2331.3,402.0 2332.9,401.7 C2334.6,401.5 2336.4,400.3 2337.7,400.3 C2339.1,400.2 2341.1,402.0 2341.1,401.5 C2341.1,400.9 2339.0,397.8 2338.0,396.9 C2336.9,396.0 2336.2,396.2 2334.7,396.2 C2333.2,396.3 2330.4,397.0 2328.8,397.4 C2327.2,397.9 2326.0,398.6 2325.1,399.1 C2324.2,399.7 2323.0,400.1 2323.4,400.6 Z" fill="#17904f"/>
<path d="M2320.8,405.1 C2320.2,405.0 2318.4,403.3 2317.4,402.1 C2316.4,400.9 2315.4,399.3 2314.7,397.7 C2314.0,396.2 2314.0,394.1 2313.3,392.9 C2312.6,391.8 2310.1,391.1 2310.5,390.7 C2311.0,390.4 2314.7,390.5 2316.0,390.9 C2317.4,391.3 2317.6,392.0 2318.4,393.3 C2319.1,394.6 2320.1,397.3 2320.5,398.9 C2321.0,400.5 2321.1,401.9 2321.1,402.9 C2321.2,404.0 2321.4,405.3 2320.8,405.1 Z" fill="#17904f"/>
<path d="M2318.1,409.7 C2318.5,410.2 2320.9,410.9 2322.4,411.1 C2324.0,411.4 2325.9,411.4 2327.6,411.3 C2329.2,411.1 2331.1,410.0 2332.4,410.1 C2333.8,410.1 2335.7,411.9 2335.7,411.4 C2335.8,410.8 2333.8,407.6 2332.8,406.7 C2331.8,405.8 2331.1,405.9 2329.6,405.9 C2328.1,405.9 2325.3,406.4 2323.7,406.8 C2322.0,407.2 2320.8,407.9 2319.9,408.3 C2319.0,408.8 2317.7,409.2 2318.1,409.7 Z" fill="#17904f"/>
<path d="M2315.3,414.2 C2314.7,414.1 2313.0,412.3 2312.0,411.0 C2311.1,409.7 2310.1,408.1 2309.5,406.6 C2308.9,405.0 2309.0,402.9 2308.3,401.7 C2307.7,400.5 2305.2,399.7 2305.6,399.4 C2306.1,399.1 2309.9,399.3 2311.1,399.8 C2312.4,400.3 2312.7,400.9 2313.3,402.3 C2314.0,403.6 2314.9,406.3 2315.3,408.0 C2315.7,409.6 2315.7,411.0 2315.7,412.0 C2315.7,413.1 2315.9,414.4 2315.3,414.2 Z" fill="#17904f"/>
<path d="M2312.4,418.7 C2312.8,419.1 2315.1,419.9 2316.7,420.3 C2318.2,420.6 2320.1,420.7 2321.8,420.6 C2323.4,420.5 2325.3,419.5 2326.7,419.6 C2328.0,419.7 2329.8,421.6 2329.9,421.1 C2330.0,420.5 2328.2,417.2 2327.2,416.3 C2326.2,415.3 2325.5,415.4 2324.0,415.3 C2322.5,415.3 2319.7,415.7 2318.0,416.0 C2316.4,416.3 2315.2,416.9 2314.2,417.4 C2313.3,417.8 2312.0,418.2 2312.4,418.7 Z" fill="#17904f"/>
<path d="M2309.4,423.0 C2308.8,422.8 2307.2,421.0 2306.3,419.7 C2305.4,418.4 2304.5,416.7 2304.0,415.1 C2303.4,413.5 2303.6,411.4 2303.0,410.2 C2302.4,409.0 2299.9,408.1 2300.4,407.8 C2300.9,407.5 2304.6,407.9 2305.9,408.4 C2307.1,409.0 2307.3,409.6 2308.0,411.0 C2308.6,412.4 2309.3,415.1 2309.7,416.7 C2310.0,418.4 2309.9,419.8 2309.9,420.8 C2309.8,421.9 2310.0,423.2 2309.4,423.0 Z" fill="#17904f"/>
<path d="M2305.4,428.6 C2305.7,429.1 2308.0,430.0 2309.6,430.4 C2311.1,430.8 2313.0,431.0 2314.6,431.0 C2316.3,431.0 2318.2,430.1 2319.6,430.2 C2320.9,430.4 2322.7,432.4 2322.8,431.8 C2322.9,431.3 2321.2,427.9 2320.3,426.9 C2319.3,425.9 2318.6,425.9 2317.1,425.8 C2315.6,425.7 2312.8,426.0 2311.1,426.2 C2309.5,426.5 2308.2,427.0 2307.2,427.4 C2306.3,427.8 2305.0,428.1 2305.4,428.6 Z" fill="#17904f"/>
<path d="M2302.2,432.8 C2301.6,432.6 2300.1,430.7 2299.3,429.3 C2298.4,428.0 2297.6,426.3 2297.2,424.7 C2296.7,423.1 2296.9,421.0 2296.4,419.7 C2295.9,418.5 2293.4,417.4 2293.9,417.2 C2294.4,416.9 2298.1,417.5 2299.4,418.1 C2300.6,418.7 2300.8,419.3 2301.3,420.7 C2301.9,422.1 2302.5,424.9 2302.8,426.5 C2303.0,428.2 2302.9,429.6 2302.8,430.6 C2302.7,431.7 2302.8,433.0 2302.2,432.8 Z" fill="#17904f"/>
<path d="M2299.0,436.9 C2299.4,437.4 2301.6,438.4 2303.1,438.8 C2304.7,439.3 2306.5,439.6 2308.2,439.6 C2309.9,439.7 2311.8,438.9 2313.2,439.1 C2314.5,439.3 2316.2,441.4 2316.3,440.8 C2316.4,440.3 2314.9,436.8 2314.0,435.8 C2313.1,434.7 2312.4,434.7 2310.9,434.6 C2309.4,434.4 2306.6,434.5 2304.9,434.7 C2303.3,434.9 2301.9,435.4 2301.0,435.8 C2300.0,436.1 2298.7,436.4 2299.0,436.9 Z" fill="#17904f"/>
<path d="M2295.7,440.9 C2295.1,440.6 2293.7,438.7 2292.9,437.3 C2292.1,435.9 2291.4,434.2 2291.0,432.5 C2290.6,430.9 2290.9,428.8 2290.4,427.6 C2289.9,426.3 2287.5,425.2 2288.0,424.9 C2288.6,424.7 2292.2,425.4 2293.5,426.1 C2294.7,426.7 2294.8,427.4 2295.3,428.8 C2295.8,430.2 2296.3,433.0 2296.5,434.7 C2296.7,436.3 2296.5,437.7 2296.4,438.8 C2296.2,439.8 2296.3,441.1 2295.7,440.9 Z" fill="#17904f"/>
<path d="M2291.1,446.1 C2291.4,446.7 2293.6,447.8 2295.1,448.4 C2296.5,448.9 2298.4,449.3 2300.0,449.5 C2301.7,449.6 2303.7,449.0 2305.0,449.2 C2306.4,449.5 2307.9,451.7 2308.0,451.2 C2308.2,450.6 2306.9,447.1 2306.1,446.0 C2305.2,444.9 2304.6,444.9 2303.1,444.6 C2301.6,444.3 2298.7,444.3 2297.1,444.4 C2295.4,444.5 2294.1,444.9 2293.1,445.2 C2292.1,445.4 2290.7,445.6 2291.1,446.1 Z" fill="#17904f"/>
<path d="M2287.4,450.0 C2286.8,449.7 2285.5,447.7 2284.8,446.2 C2284.1,444.8 2283.5,443.0 2283.2,441.4 C2282.9,439.7 2283.4,437.7 2283.0,436.4 C2282.6,435.1 2280.3,433.8 2280.8,433.6 C2281.3,433.4 2284.9,434.3 2286.1,435.1 C2287.3,435.8 2287.4,436.4 2287.8,437.9 C2288.2,439.4 2288.5,442.2 2288.6,443.9 C2288.7,445.5 2288.4,446.9 2288.2,447.9 C2288.0,448.9 2288.0,450.3 2287.4,450.0 Z" fill="#17904f"/>
<path d="M2283.6,453.8 C2283.9,454.4 2286.0,455.6 2287.5,456.2 C2289.0,456.8 2290.8,457.4 2292.4,457.6 C2294.1,457.8 2296.1,457.2 2297.4,457.6 C2298.8,457.9 2300.2,460.2 2300.3,459.6 C2300.5,459.1 2299.4,455.5 2298.6,454.4 C2297.8,453.2 2297.2,453.2 2295.7,452.8 C2294.2,452.5 2291.4,452.3 2289.7,452.3 C2288.0,452.3 2286.7,452.7 2285.7,452.9 C2284.7,453.2 2283.3,453.3 2283.6,453.8 Z" fill="#17904f"/>
<path d="M2279.8,457.6 C2279.2,457.3 2278.0,455.2 2277.3,453.7 C2276.7,452.3 2276.2,450.5 2276.0,448.8 C2275.7,447.1 2276.3,445.1 2276.0,443.8 C2275.6,442.5 2273.4,441.1 2273.9,440.9 C2274.4,440.7 2278.0,441.8 2279.1,442.6 C2280.3,443.4 2280.4,444.1 2280.7,445.5 C2281.1,447.0 2281.2,449.9 2281.2,451.5 C2281.2,453.2 2280.9,454.5 2280.6,455.6 C2280.4,456.6 2280.3,457.9 2279.8,457.6 Z" fill="#17904f"/>
<path d="M2275.8,461.3 C2276.0,461.9 2278.1,463.2 2279.5,463.9 C2281.0,464.6 2282.8,465.2 2284.4,465.5 C2286.1,465.8 2288.1,465.3 2289.4,465.7 C2290.7,466.1 2292.0,468.4 2292.2,467.9 C2292.4,467.4 2291.4,463.7 2290.7,462.6 C2290.0,461.4 2289.3,461.3 2287.9,460.9 C2286.4,460.5 2283.6,460.2 2281.9,460.1 C2280.2,460.1 2278.9,460.3 2277.9,460.5 C2276.8,460.7 2275.5,460.8 2275.8,461.3 Z" fill="#17904f"/>
<path d="M2271.6,465.0 C2271.1,464.6 2269.9,462.5 2269.4,461.0 C2268.8,459.5 2268.4,457.7 2268.2,456.0 C2268.1,454.3 2268.7,452.3 2268.5,451.0 C2268.2,449.7 2266.0,448.2 2266.5,448.0 C2267.0,447.8 2270.6,449.2 2271.7,450.0 C2272.8,450.8 2272.8,451.5 2273.1,453.0 C2273.4,454.5 2273.4,457.3 2273.4,459.0 C2273.3,460.6 2272.9,462.0 2272.6,463.0 C2272.3,464.0 2272.1,465.3 2271.6,465.0 Z" fill="#17904f"/>
<path d="M2267.2,468.5 C2267.5,469.1 2269.4,470.6 2270.8,471.4 C2272.2,472.2 2273.9,472.9 2275.5,473.3 C2277.2,473.7 2279.2,473.4 2280.5,473.9 C2281.8,474.4 2282.9,476.8 2283.1,476.3 C2283.4,475.8 2282.7,472.1 2282.1,470.9 C2281.4,469.7 2280.8,469.5 2279.3,469.0 C2277.9,468.5 2275.1,468.0 2273.5,467.8 C2271.8,467.6 2270.4,467.7 2269.4,467.9 C2268.4,468.0 2267.0,467.9 2267.2,468.5 Z" fill="#17904f"/>
<path d="M2262.6,471.9 C2262.1,471.5 2261.2,469.2 2260.7,467.7 C2260.3,466.2 2260.0,464.3 2260.0,462.6 C2259.9,461.0 2260.8,459.0 2260.6,457.7 C2260.4,456.3 2258.3,454.7 2258.9,454.6 C2259.4,454.4 2262.8,456.0 2263.9,456.9 C2264.9,457.8 2264.9,458.5 2265.1,460.0 C2265.2,461.5 2265.1,464.3 2264.8,466.0 C2264.6,467.7 2264.1,469.0 2263.8,469.9 C2263.4,470.9 2263.1,472.2 2262.6,471.9 Z" fill="#17904f"/>
<path d="M2257.7,475.0 C2257.9,475.6 2259.7,477.3 2260.9,478.3 C2262.2,479.2 2263.9,480.1 2265.4,480.7 C2267.0,481.3 2269.1,481.2 2270.3,481.8 C2271.5,482.5 2272.4,485.0 2272.7,484.5 C2273.0,484.1 2272.7,480.3 2272.2,479.0 C2271.7,477.7 2271.1,477.5 2269.7,476.8 C2268.3,476.2 2265.6,475.4 2264.0,475.0 C2262.4,474.6 2261.0,474.6 2259.9,474.6 C2258.9,474.6 2257.5,474.4 2257.7,475.0 Z" fill="#17904f"/>
<path d="M2252.3,478.1 C2251.9,477.7 2251.2,475.3 2250.9,473.8 C2250.6,472.2 2250.5,470.3 2250.7,468.7 C2250.8,467.0 2251.9,465.1 2251.8,463.8 C2251.8,462.4 2249.9,460.6 2250.5,460.5 C2251.0,460.4 2254.3,462.4 2255.2,463.4 C2256.1,464.4 2256.0,465.0 2256.0,466.6 C2256.0,468.1 2255.6,470.9 2255.2,472.5 C2254.8,474.1 2254.2,475.4 2253.7,476.3 C2253.2,477.2 2252.8,478.5 2252.3,478.1 Z" fill="#17904f"/>
<path d="M2248.5,480.1 C2248.7,480.7 2250.3,482.5 2251.5,483.5 C2252.7,484.6 2254.3,485.6 2255.8,486.4 C2257.3,487.1 2259.4,487.2 2260.5,487.9 C2261.7,488.6 2262.3,491.2 2262.6,490.8 C2263.0,490.3 2263.0,486.6 2262.6,485.3 C2262.2,483.9 2261.6,483.7 2260.3,482.9 C2259.0,482.1 2256.4,481.0 2254.8,480.5 C2253.2,480.0 2251.8,479.9 2250.8,479.8 C2249.7,479.8 2248.4,479.4 2248.5,480.1 Z" fill="#17904f"/>
<path d="M2242.6,482.9 C2242.2,482.4 2241.7,480.1 2241.6,478.5 C2241.4,476.9 2241.5,475.0 2241.8,473.4 C2242.1,471.7 2243.3,470.0 2243.4,468.6 C2243.4,467.2 2241.7,465.2 2242.3,465.2 C2242.8,465.2 2245.9,467.4 2246.7,468.5 C2247.6,469.6 2247.4,470.2 2247.3,471.7 C2247.2,473.2 2246.5,476.0 2245.9,477.6 C2245.4,479.2 2244.7,480.3 2244.1,481.2 C2243.6,482.1 2243.1,483.4 2242.6,482.9 Z" fill="#17904f"/>
<path d="M2236.6,485.6 C2236.7,486.2 2238.3,488.1 2239.4,489.2 C2240.5,490.4 2242.0,491.5 2243.5,492.3 C2245.0,493.1 2247.1,493.3 2248.2,494.1 C2249.3,494.9 2249.7,497.5 2250.1,497.1 C2250.5,496.7 2250.7,492.9 2250.4,491.6 C2250.1,490.2 2249.5,489.9 2248.2,489.1 C2247.0,488.2 2244.4,487.0 2242.9,486.4 C2241.3,485.8 2239.9,485.6 2238.9,485.5 C2237.8,485.4 2236.6,485.0 2236.6,485.6 Z" fill="#17904f"/>
<path d="M2232.7,487.3 C2232.3,486.8 2231.9,484.4 2231.8,482.8 C2231.8,481.2 2232.0,479.3 2232.4,477.7 C2232.7,476.1 2234.0,474.4 2234.2,473.1 C2234.3,471.7 2232.7,469.6 2233.3,469.6 C2233.9,469.6 2236.8,472.0 2237.6,473.1 C2238.3,474.3 2238.2,474.9 2237.9,476.4 C2237.7,477.9 2236.9,480.6 2236.3,482.2 C2235.6,483.7 2234.8,484.9 2234.2,485.7 C2233.7,486.6 2233.1,487.8 2232.7,487.3 Z" fill="#17904f"/>
<path d="M2226.9,489.7 C2226.9,490.4 2228.4,492.3 2229.5,493.4 C2230.7,494.6 2232.1,495.7 2233.6,496.6 C2235.0,497.4 2237.1,497.7 2238.2,498.5 C2239.3,499.3 2239.7,501.9 2240.1,501.5 C2240.5,501.1 2240.8,497.3 2240.5,496.0 C2240.2,494.6 2239.6,494.3 2238.4,493.4 C2237.2,492.6 2234.6,491.3 2233.1,490.7 C2231.5,490.1 2230.1,489.8 2229.1,489.7 C2228.1,489.5 2226.8,489.1 2226.9,489.7 Z" fill="#17904f"/>
<path d="M2223.2,491.3 C2222.8,490.8 2222.5,488.4 2222.4,486.8 C2222.4,485.2 2222.6,483.3 2223.1,481.7 C2223.5,480.1 2224.8,478.4 2225.0,477.1 C2225.2,475.7 2223.6,473.6 2224.2,473.6 C2224.7,473.6 2227.6,476.0 2228.4,477.2 C2229.1,478.3 2228.9,479.0 2228.7,480.5 C2228.4,482.0 2227.5,484.7 2226.9,486.2 C2226.2,487.7 2225.4,488.9 2224.8,489.7 C2224.2,490.6 2223.6,491.8 2223.2,491.3 Z" fill="#17904f"/>
<path d="M2217.8,493.4 C2217.9,494.1 2219.3,496.0 2220.4,497.2 C2221.5,498.4 2223.0,499.5 2224.4,500.4 C2225.8,501.3 2227.9,501.6 2229.0,502.4 C2230.1,503.2 2230.4,505.9 2230.8,505.5 C2231.2,505.1 2231.6,501.3 2231.3,500.0 C2231.1,498.6 2230.5,498.3 2229.3,497.4 C2228.0,496.5 2225.5,495.2 2224.0,494.5 C2222.4,493.9 2221.1,493.6 2220.0,493.4 C2219.0,493.3 2217.8,492.8 2217.8,493.4 Z" fill="#17904f"/>
<path d="M2212.2,495.5 C2211.8,495.0 2211.6,492.6 2211.6,491.0 C2211.6,489.4 2211.8,487.5 2212.3,485.9 C2212.8,484.3 2214.1,482.7 2214.3,481.3 C2214.5,480.0 2213.0,477.8 2213.6,477.8 C2214.1,477.9 2217.0,480.4 2217.7,481.5 C2218.4,482.7 2218.2,483.3 2217.9,484.8 C2217.7,486.3 2216.7,489.0 2216.0,490.5 C2215.3,492.0 2214.5,493.1 2213.9,494.0 C2213.2,494.8 2212.6,496.0 2212.2,495.5 Z" fill="#17904f"/>
<path d="M2206.6,497.4 C2206.7,498.1 2208.0,500.1 2209.0,501.3 C2210.1,502.5 2211.5,503.8 2212.9,504.7 C2214.3,505.6 2216.3,506.0 2217.4,506.9 C2218.4,507.8 2218.6,510.5 2219.0,510.1 C2219.4,509.7 2220.0,506.0 2219.8,504.6 C2219.6,503.2 2219.1,502.9 2217.9,501.9 C2216.7,500.9 2214.2,499.5 2212.7,498.8 C2211.2,498.1 2209.9,497.8 2208.9,497.5 C2207.8,497.3 2206.6,496.8 2206.6,497.4 Z" fill="#17904f"/>
<path d="M2201.3,499.2 C2200.9,498.7 2200.8,496.2 2200.8,494.6 C2200.9,493.0 2201.3,491.2 2201.8,489.6 C2202.3,488.0 2203.8,486.5 2204.0,485.1 C2204.3,483.8 2202.9,481.6 2203.5,481.6 C2204.0,481.7 2206.7,484.3 2207.4,485.5 C2208.1,486.7 2207.9,487.3 2207.5,488.8 C2207.2,490.3 2206.1,492.9 2205.3,494.4 C2204.6,495.9 2203.7,496.9 2203.0,497.7 C2202.3,498.5 2201.6,499.7 2201.3,499.2 Z" fill="#17904f"/>
<path d="M2293.9,174.5 C2293.3,174.5 2291.3,173.1 2289.9,172.2 C2288.6,171.3 2286.7,170.3 2285.6,169.0 C2284.5,167.7 2284.4,165.6 2283.3,164.5 C2282.3,163.4 2278.8,163.0 2279.2,162.4 C2279.6,161.7 2284.1,160.5 2285.8,160.7 C2287.4,160.9 2288.0,162.1 2289.0,163.4 C2290.1,164.7 2291.5,167.0 2292.3,168.4 C2293.1,169.9 2293.5,171.3 2293.7,172.3 C2294.0,173.3 2294.5,174.5 2293.9,174.5 Z" fill="#17904f"/>
<circle cx="2159.7" cy="321.3" r="116.2" fill="#3a2000"/>
<circle cx="2159.7" cy="321.3" r="115.4" fill="#ec9622"/>
<circle cx="2159.7" cy="321.3" r="109.9" fill="#5a3000"/>
<circle cx="2159.7" cy="321.3" r="109.2" fill="#b46c12"/>
<circle cx="2159.7" cy="321.3" r="103.2" fill="#5a2a02"/>
<circle cx="2159.7" cy="321.3" r="97.8" fill="#0b3a5c"/>
<circle cx="2159.7" cy="321.3" r="97.0" fill="#08aef0"/>
<clipPath id="cBlue"><circle cx="2159.7" cy="321.3" r="97"/></clipPath>
<g clip-path="url(#cBlue)">
<g stroke="#5cd4f6" stroke-width="1.4">
<line x1="2158.7" y1="320.8" x2="2278.7" y2="320.8"/>
<line x1="2158.7" y1="320.8" x2="2243.6" y2="405.7"/>
<line x1="2158.7" y1="320.8" x2="2158.7" y2="440.8"/>
<line x1="2158.7" y1="320.8" x2="2073.8" y2="405.7"/>
<line x1="2158.7" y1="320.8" x2="2038.7" y2="320.8"/>
<line x1="2158.7" y1="320.8" x2="2073.8" y2="235.9"/>
<line x1="2158.7" y1="320.8" x2="2158.7" y2="200.8"/>
<line x1="2158.7" y1="320.8" x2="2243.6" y2="235.9"/>
</g>
<ellipse cx="2168.7" cy="311.2" rx="78.7" ry="48.5" fill="#fff200" stroke="#1a1a1a" stroke-width="1.2"/>
<path d="M2077.8,370.8 C2078.4,369.7 2079.1,366.7 2081.1,364.1 C2083.1,361.5 2086.3,358.0 2090.0,355.3 C2093.7,352.6 2099.1,349.7 2103.3,348.1 C2107.5,346.5 2112.3,346.7 2115.4,345.9 C2118.5,345.1 2119.3,343.9 2122.1,343.1 C2124.9,342.3 2129.1,341.6 2132.1,340.9 C2135.1,340.1 2138.3,340.3 2139.8,338.6 C2141.3,336.9 2141.1,333.8 2140.9,330.9 C2140.7,327.9 2138.9,324.2 2138.7,320.9 C2138.5,317.6 2138.7,313.8 2139.8,310.9 C2140.9,307.9 2143.2,305.2 2145.4,303.2 C2147.6,301.2 2152.2,301.3 2153.1,298.7 C2154.0,296.1 2151.3,291.6 2150.9,287.7 C2150.5,283.8 2150.0,279.8 2150.9,275.5 C2151.8,271.2 2153.9,266.1 2156.5,262.2 C2159.1,258.3 2162.5,254.8 2166.4,252.2 C2170.3,249.6 2174.5,247.7 2179.7,246.7 C2184.9,245.7 2192.1,245.5 2197.5,246.1 C2202.9,246.7 2208.0,247.9 2211.9,250.0 C2215.8,252.1 2218.7,255.5 2220.7,258.8 C2222.7,262.1 2223.9,266.8 2224.1,269.9 C2224.3,273.0 2221.0,275.7 2221.9,277.7 C2222.8,279.7 2227.2,280.1 2229.6,282.1 C2232.0,284.1 2234.8,286.6 2236.3,289.9 C2237.8,293.2 2238.5,297.9 2238.5,302.1 C2238.5,306.4 2237.6,311.7 2236.3,315.4 C2235.0,319.1 2233.1,321.6 2230.7,324.2 C2228.3,326.8 2224.7,329.2 2221.9,330.9 C2219.1,332.6 2214.8,332.7 2214.1,334.2 C2213.3,335.7 2216.7,337.6 2217.4,339.8 C2218.1,342.0 2218.7,345.5 2218.5,347.5 C2218.3,349.5 2217.8,350.6 2216.3,351.9 C2214.8,353.2 2211.4,353.8 2209.7,355.3 C2208.0,356.8 2207.1,358.8 2206.3,360.8 C2205.6,362.8 2205.5,365.8 2205.2,367.5 C2204.9,369.2 2204.6,370.2 2204.5,370.8 Z" fill="#fff" stroke="#231f20" stroke-width="3.6" stroke-linejoin="round"/>
<path d="M2077.8,370.8 C2078.4,369.7 2079.1,366.7 2081.1,364.1 C2083.1,361.5 2086.3,358.0 2090.0,355.3 C2093.7,352.6 2099.1,349.7 2103.3,348.1 C2107.5,346.5 2112.3,346.7 2115.4,345.9 C2118.5,345.1 2119.3,343.9 2122.1,343.1 C2124.9,342.3 2129.1,341.6 2132.1,340.9 C2135.1,340.1 2138.3,340.3 2139.8,338.6 C2141.3,336.9 2141.1,333.8 2140.9,330.9 C2140.7,327.9 2138.9,324.2 2138.7,320.9 C2138.5,317.6 2138.7,313.8 2139.8,310.9 C2140.9,307.9 2143.2,305.2 2145.4,303.2 C2147.6,301.2 2152.2,301.3 2153.1,298.7 C2154.0,296.1 2151.3,291.6 2150.9,287.7 C2150.5,283.8 2150.0,279.8 2150.9,275.5 C2151.8,271.2 2153.9,266.1 2156.5,262.2 C2159.1,258.3 2162.5,254.8 2166.4,252.2 C2170.3,249.6 2174.5,247.7 2179.7,246.7 C2184.9,245.7 2192.1,245.5 2197.5,246.1 C2202.9,246.7 2208.0,247.9 2211.9,250.0 C2215.8,252.1 2218.7,255.5 2220.7,258.8 C2222.7,262.1 2223.9,266.8 2224.1,269.9 C2224.3,273.0 2221.0,275.7 2221.9,277.7 C2222.8,279.7 2227.2,280.1 2229.6,282.1 C2232.0,284.1 2234.8,286.6 2236.3,289.9 C2237.8,293.2 2238.5,297.9 2238.5,302.1 C2238.5,306.4 2237.6,311.7 2236.3,315.4 C2235.0,319.1 2233.1,321.6 2230.7,324.2 C2228.3,326.8 2224.7,329.2 2221.9,330.9 C2219.1,332.6 2214.8,332.7 2214.1,334.2 C2213.3,335.7 2216.7,337.6 2217.4,339.8 C2218.1,342.0 2218.7,345.5 2218.5,347.5 C2218.3,349.5 2217.8,350.6 2216.3,351.9 C2214.8,353.2 2211.4,353.8 2209.7,355.3 C2208.0,356.8 2207.1,358.8 2206.3,360.8 C2205.6,362.8 2205.5,365.8 2205.2,367.5 C2204.9,369.2 2204.6,370.2 2204.5,370.8 Z" fill="#231f20" filter="url(#erode4)"/>
<path d="M2188.6,267.7 C2188.6,265.9 2190.4,261.9 2191.9,259.5 C2193.4,257.1 2195.2,254.8 2197.5,253.5 C2199.8,252.2 2203.2,251.3 2206.0,251.5 C2208.8,251.7 2211.8,252.7 2214.0,254.5 C2216.2,256.3 2218.1,259.3 2219.1,262.2 C2220.1,265.1 2220.7,269.0 2220.0,272.1 C2219.3,275.2 2217.3,279.1 2215.2,281.0 C2213.1,282.9 2210.1,283.2 2207.4,283.5 C2204.7,283.8 2201.2,283.8 2199.0,283.0 C2196.8,282.2 2194.5,280.7 2194.0,279.0 C2193.5,277.3 2196.3,274.5 2196.0,273.0 C2195.7,271.5 2193.2,270.9 2192.0,270.0 C2190.8,269.1 2188.6,269.4 2188.6,267.7 Z" fill="#fff"/>
<path d="M2199.7,284.3 C2202.3,283.0 2209.5,283.0 2214.1,284.3 C2218.7,285.6 2224.3,288.4 2227.4,292.1 C2230.5,295.8 2232.5,301.9 2232.9,306.5 C2233.3,311.1 2231.4,316.3 2229.6,319.8 C2227.8,323.3 2225.2,325.6 2221.9,327.6 C2218.6,329.6 2211.4,332.6 2209.7,332.0 C2208.0,331.4 2210.2,326.6 2211.9,324.2 C2213.6,321.8 2218.1,320.6 2219.6,317.6 C2221.1,314.7 2221.2,309.8 2220.7,306.5 C2220.1,303.2 2218.7,300.0 2216.3,297.6 C2213.9,295.2 2209.2,293.0 2206.3,292.1 C2203.4,291.2 2199.7,293.4 2198.6,292.1 C2197.5,290.8 2197.1,285.6 2199.7,284.3 Z" fill="#fff"/>
<path d="M2167.5,349.2 C2167.9,348.1 2168.3,345.5 2169.8,344.2 C2171.3,342.9 2173.8,341.9 2176.4,341.4 C2179.0,340.9 2182.7,340.8 2185.3,341.4 C2187.9,342.0 2189.9,345.0 2191.9,345.3 C2193.9,345.6 2195.1,343.5 2197.5,343.1 C2199.9,342.7 2203.5,342.7 2206.3,343.1 C2209.1,343.5 2212.4,344.2 2214.1,345.3 C2215.8,346.4 2216.3,348.7 2216.3,349.7 C2216.3,350.7 2222.2,351.2 2214.1,351.4 C2206.0,351.6 2175.3,351.2 2167.5,350.8 C2159.7,350.4 2167.1,350.3 2167.5,349.2 Z" fill="#fff"/>
<line x1="2083" y1="368.9" x2="2201" y2="369.9" stroke="#fff" stroke-width="1.8"/>
<path d="M2159.8,371.3 L2204.7,371.3 L2206.3,375.2 L2201.9,379.7 L2194.1,383.0 L2186.4,385.2 L2184.2,394.1 L2178.6,390.7 L2169.8,384.1 L2163.1,377.4 Z" fill="#231f20" stroke="#231f20" stroke-width="1" stroke-linejoin="round"/>
<polygon points="2146.5,377.2 2147.9,381.0 2152.0,381.2 2148.8,383.8 2149.9,387.7 2146.5,385.4 2143.1,387.7 2144.2,383.8 2141.0,381.2 2145.1,381.0" fill="#fff"/>
<polygon points="2129.9,394.8 2131.6,399.4 2136.6,399.6 2132.7,402.7 2134.0,407.5 2129.9,404.7 2125.8,407.5 2127.1,402.7 2123.2,399.6 2128.2,399.4" fill="#fff"/>
<polygon points="2166.4,386.8 2167.6,390.1 2171.2,390.3 2168.4,392.4 2169.3,395.8 2166.4,393.9 2163.5,395.8 2164.4,392.4 2161.6,390.3 2165.2,390.1" fill="#fff"/>
<polygon points="2195.2,378.5 2196.6,382.2 2200.5,382.4 2197.4,384.8 2198.5,388.6 2195.2,386.5 2191.9,388.6 2193.0,384.8 2189.9,382.4 2193.8,382.2" fill="#fff"/>
<polygon points="2205.2,388.8 2206.8,393.0 2211.3,393.2 2207.8,396.0 2209.0,400.4 2205.2,397.9 2201.4,400.4 2202.6,396.0 2199.1,393.2 2203.6,393.0" fill="#fff"/>
<polygon points="2185.3,396.3 2186.5,399.6 2190.1,399.8 2187.3,401.9 2188.2,405.3 2185.3,403.4 2182.4,405.3 2183.3,401.9 2180.5,399.8 2184.1,399.6" fill="#fff"/>
</g>
<path id="logoArc" d="M2038.70,370.19 A130.5,130.5 0 0 1 2279.38,269.26 A130.5,130.5 0 0 1 2041.43,376.45" fill="none"/>
<text font-size="32" font-weight="bold" fill="#231f20"><textPath href="#logoArc" textLength="813.1" lengthAdjust="spacingAndGlyphs">Department Vanuatu Meteorology and Geo-Hazards</textPath></text>
<rect x="185.3" y="108.5" width="2218.60" height="3293.40" fill="none" stroke="#000" stroke-width="1.7"/>
<text x="822.58" y="84.20" font-size="52.3" textLength="943.53" lengthAdjust="spacingAndGlyphs" fill="#000" >Tafea: Mean La Niña July Temperature</text>
<text x="26.36" y="562.40" font-size="43.8" textLength="139.97" lengthAdjust="spacingAndGlyphs" fill="#000" >18.6°S</text>
<text x="26.36" y="1014.37" font-size="43.8" textLength="139.97" lengthAdjust="spacingAndGlyphs" fill="#000" >18.9°S</text>
<text x="26.36" y="1466.34" font-size="43.8" textLength="139.97" lengthAdjust="spacingAndGlyphs" fill="#000" >19.2°S</text>
<text x="26.36" y="1918.31" font-size="43.8" textLength="139.97" lengthAdjust="spacingAndGlyphs" fill="#000" >19.5°S</text>
<text x="26.36" y="2370.28" font-size="43.8" textLength="139.97" lengthAdjust="spacingAndGlyphs" fill="#000" >19.8°S</text>
<text x="27.58" y="2822.25" font-size="43.8" textLength="138.73" lengthAdjust="spacingAndGlyphs" fill="#000" >20.1°S</text>
<text x="27.58" y="3274.22" font-size="43.8" textLength="138.73" lengthAdjust="spacingAndGlyphs" fill="#000" >20.4°S</text>
<text x="373.59" y="3453.30" font-size="43.8" textLength="125.88" lengthAdjust="spacingAndGlyphs" fill="#000" >169°E</text>
<text x="641.45" y="3453.30" font-size="43.8" textLength="166.15" lengthAdjust="spacingAndGlyphs" fill="#000" >169.2°E</text>
<text x="929.45" y="3453.30" font-size="43.8" textLength="166.15" lengthAdjust="spacingAndGlyphs" fill="#000" >169.4°E</text>
<text x="1217.45" y="3453.30" font-size="43.8" textLength="166.15" lengthAdjust="spacingAndGlyphs" fill="#000" >169.6°E</text>
<text x="1505.45" y="3453.30" font-size="43.8" textLength="166.15" lengthAdjust="spacingAndGlyphs" fill="#000" >169.8°E</text>
<text x="1813.59" y="3453.30" font-size="43.8" textLength="125.88" lengthAdjust="spacingAndGlyphs" fill="#000" >170°E</text>
<text x="2081.45" y="3453.30" font-size="43.8" textLength="166.15" lengthAdjust="spacingAndGlyphs" fill="#000" >170.2°E</text>
<polygon points="280.8,1692.5 307.10,1560.6 333.4,1692.5" fill="#720000"/>
<rect x="280.8" y="1692.5" width="52.60" height="132.00" fill="#ff5e00"/>
<rect x="280.8" y="1824.2" width="52.60" height="132.10" fill="#ffbe1a"/>
<rect x="280.8" y="1956.0" width="52.60" height="132.00" fill="#e3f54c"/>
<rect x="280.8" y="2087.7" width="52.60" height="132.00" fill="#78b000"/>
<rect x="280.8" y="2219.4" width="52.60" height="132.00" fill="#007f28"/>
<rect x="280.8" y="2351.1" width="52.60" height="132.00" fill="#4bbba4"/>
<polygon points="280.8,2482.8 307.10,2612.9 333.4,2482.8" fill="#9acdef"/>
<polygon points="280.8,1692.5 307.10,1560.6 333.4,1692.5 333.4,2482.8 307.10,2612.9 280.8,2482.8" fill="none" stroke="#000" stroke-width="3.2" stroke-linejoin="bevel"/>
<text x="348.66" y="1707.70" font-size="43.8" textLength="50.93" lengthAdjust="spacingAndGlyphs" fill="#000" >30</text>
<text x="348.06" y="1839.40" font-size="43.8" textLength="51.76" lengthAdjust="spacingAndGlyphs" fill="#000" >28</text>
<text x="348.06" y="1971.20" font-size="43.8" textLength="51.79" lengthAdjust="spacingAndGlyphs" fill="#000" >26</text>
<text x="348.09" y="2102.90" font-size="43.8" textLength="51.05" lengthAdjust="spacingAndGlyphs" fill="#000" >24</text>
<text x="348.04" y="2234.60" font-size="43.8" textLength="52.11" lengthAdjust="spacingAndGlyphs" fill="#000" >22</text>
<text x="348.07" y="2366.30" font-size="43.8" textLength="51.54" lengthAdjust="spacingAndGlyphs" fill="#000" >20</text>
<text x="348.56" y="2498.00" font-size="43.8" textLength="51.66" lengthAdjust="spacingAndGlyphs" fill="#000" >18</text>
<text x="279.92" y="1535.80" font-size="52" textLength="56.08" lengthAdjust="spacingAndGlyphs" fill="#000" >°C</text>
<circle cx="308.2" cy="2704.2" r="17.9" fill="none" stroke="#000" stroke-width="3.9"/>
<text x="383.47" y="2718.50" font-size="43.8" textLength="169.22" lengthAdjust="spacingAndGlyphs" fill="#000" >Stations</text>
<rect x="233.6" y="2864.3" width="879.2" height="494.5" rx="40" ry="40" fill="#fff" stroke="#000" stroke-width="2"/>
<text x="273.76" y="2930.80" font-size="35.75" textLength="746.54" lengthAdjust="spacingAndGlyphs" fill="#000" >Based on all currently available temperature</text>
<text x="275.23" y="2970.10" font-size="35.75" textLength="642.49" lengthAdjust="spacingAndGlyphs" fill="#000" >station data for the period 1951-2022.</text>
<text x="274.66" y="3032.80" font-size="23.6" textLength="679.50" lengthAdjust="spacingAndGlyphs" fill="#000" >Note: Climate station markers are coloured using the same</text>
<text x="274.89" y="3059.00" font-size="23.6" textLength="733.21" lengthAdjust="spacingAndGlyphs" fill="#000" >classification and colour scheme as the underlying climate grid.</text>
<text x="274.81" y="3085.50" font-size="23.6" textLength="732.05" lengthAdjust="spacingAndGlyphs" fill="#000" >Stations with shorter climate records have less influence on the</text>
<text x="274.89" y="3112.50" font-size="23.6" textLength="583.51" lengthAdjust="spacingAndGlyphs" fill="#000" >climate surface and may display a different colour.</text>
<text x="274.99" y="3162.00" font-size="23.8" textLength="795.97" lengthAdjust="spacingAndGlyphs" fill="#000" >Copyright Vanuatu Meteorology and Geo-Hazards Department, 2023.</text>
<text x="275.43" y="3230.90" font-size="23.8" textLength="338.51" lengthAdjust="spacingAndGlyphs" fill="#000" >Technical production by NIWA</text>
<text x="274.84" y="3292.60" font-size="21.5" textLength="724.30" lengthAdjust="spacingAndGlyphs" fill="#000" >Implemented by Secretariat of the Pacific Regional Environment Programme.</text>
<text x="274.88" y="3313.60" font-size="21.5" textLength="333.63" lengthAdjust="spacingAndGlyphs" fill="#000" >Funded by the Green Climate Fund.</text>
<defs><radialGradient id="gNiwa" cx="0.45" cy="0.4" r="0.6"><stop offset="0" stop-color="#2a9ae0"/><stop offset="0.55" stop-color="#1550a8"/><stop offset="1" stop-color="#0c2a70"/></radialGradient></defs>
<circle cx="694.3" cy="3224.3" r="30.2" fill="url(#gNiwa)"/>
<path d="M697.3,3223.3 C699.3,3214.3 690.3,3208.3 683.3,3212.3 C676.3,3216.3 677.3,3227.3 684.3,3229.3 C690.3,3231.3 695.3,3227.3 696.3,3222.3" fill="none" stroke="#fff" stroke-width="4.2"/>
<path d="M696.3,3225.3 C692.3,3233.3 685.3,3240.3 682.3,3253.3" fill="none" stroke="#fff" stroke-width="4"/>
<path d="M688.3,3195.3 C698.3,3198.3 704.3,3206.3 705.3,3218.3" fill="none" stroke="#fff" stroke-width="2.4"/>
<path d="M698.3,3195.3 C708.3,3200.3 716.3,3208.3 721.3,3216.3" fill="none" stroke="#fff" stroke-width="2.4"/>
<path d="M724.3,3220.3 C716.3,3222.3 708.3,3232.3 704.3,3244.3 C702.3,3249.3 698.3,3252.3 692.3,3254.3" fill="none" stroke="#fff" stroke-width="2.6"/>
<text x="735.19" y="3230" font-size="36.5" font-weight="bold" fill="#0d2b6b" stroke="#0d2b6b" stroke-width="1.3" textLength="96.2" lengthAdjust="spacingAndGlyphs">NIWA</text>
<text x="737.92" y="3244" font-size="11" fill="#0d2b6b" textLength="67.4" lengthAdjust="spacingAndGlyphs">Taihoro Nukurangi</text>
</svg>
</body></html>
